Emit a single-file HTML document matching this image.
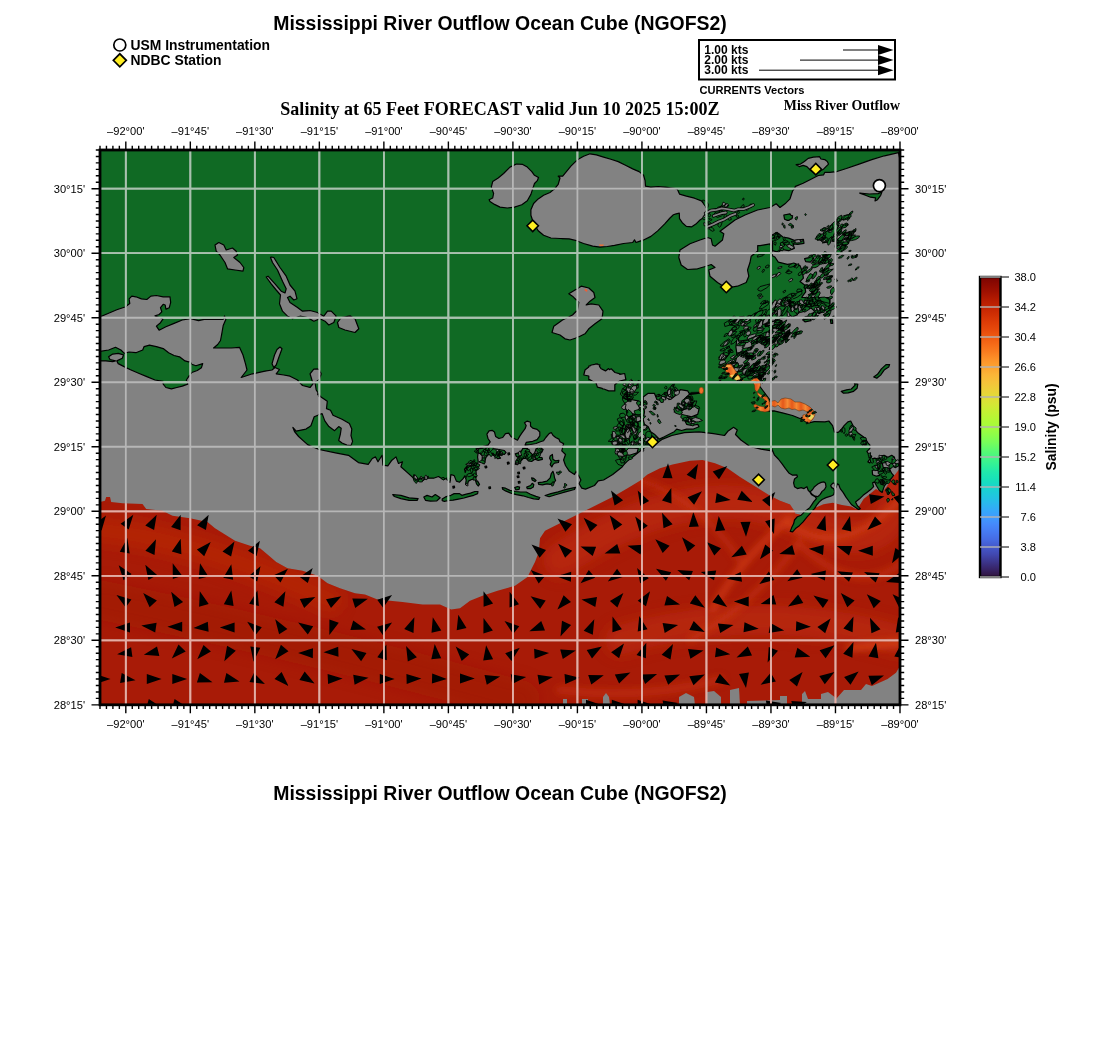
<!DOCTYPE html>
<html><head><meta charset="utf-8"><title>Mississippi River Outflow Ocean Cube (NGOFS2)</title>
<style>html,body{margin:0;padding:0;background:#fff}svg{display:block}text{font-family:"Liberation Sans",sans-serif;fill:#000}.b{font-weight:bold}.t{font-family:"Liberation Serif",serif;font-weight:bold}.ax{font-size:11.11px}</style></head><body>
<svg width="1100" height="1050" viewBox="0 0 1100 1050">
<rect width="1100" height="1050" fill="#fff"/>
<text class="b" x="500" y="29.7" font-size="19.44" text-anchor="middle">Mississippi River Outflow Ocean Cube (NGOFS2)</text>
<text class="b" x="500" y="799.7" font-size="19.44" text-anchor="middle">Mississippi River Outflow Ocean Cube (NGOFS2)</text>
<circle cx="119.8" cy="45" r="6" fill="#fff" stroke="#000" stroke-width="1.7"/>
<text class="b" x="130.5" y="50.1" font-size="13.89">USM Instrumentation</text>
<path d="M113.3 60.3L119.8 53.8L126.3 60.3L119.8 66.8Z" fill="#ffee22" stroke="#000" stroke-width="1.7"/>
<text class="b" x="130.5" y="65.2" font-size="13.89">NDBC Station</text>
<rect x="699" y="40" width="196" height="39.5" fill="#fff" stroke="#000" stroke-width="2"/>
<text class="b" x="704.3" y="54.4" font-size="12">1.00 kts</text>
<path d="M843 50.0H880" stroke="#000" stroke-width="1" fill="none"/>
<path d="M893.5 50.0L878 45.0L878 55.0Z" fill="#000"/>
<text class="b" x="704.3" y="64.4" font-size="12">2.00 kts</text>
<path d="M800 60.1H880" stroke="#000" stroke-width="1" fill="none"/>
<path d="M893.5 60.1L878 55.1L878 65.1Z" fill="#000"/>
<text class="b" x="704.3" y="74.4" font-size="12">3.00 kts</text>
<path d="M759 70.2H880" stroke="#000" stroke-width="1" fill="none"/>
<path d="M893.5 70.2L878 65.2L878 75.2Z" fill="#000"/>
<text class="b" x="699.5" y="93.7" font-size="11.11">CURRENTS Vectors</text>
<text class="t" x="500" y="114.6" font-size="18.06" text-anchor="middle">Salinity at 65 Feet FORECAST valid Jun 10 2025 15:00Z</text>
<text class="t" x="900" y="109.6" font-size="13.89" text-anchor="end">Miss River Outflow</text>
<defs><clipPath id="mc"><rect x="100.0" y="150.0" width="800.0" height="554.8"/></clipPath></defs>
<g clip-path="url(#mc)">
<rect x="99" y="149" width="802" height="557" fill="#828282"/><path d="M95.0 502.0L100.0 502.0L105.0 500.8L106.2 497.0L110.0 497.0L111.2 502.0L122.5 503.2L142.5 504.0L146.2 509.0L162.5 510.8L172.5 515.8L190.0 518.2L207.5 522.0L215.0 528.2L225.0 534.5L235.0 540.8L250.0 545.8L260.0 548.2L267.5 554.5L276.2 562.0L287.5 568.2L302.5 570.8L317.5 575.8L327.5 583.2L340.0 588.2L355.0 593.2L365.0 594.5L377.5 599.5L390.0 600.8L402.5 602.0L422.5 604.5L440.0 604.5L451.2 609.5L460.0 608.2L470.0 600.8L482.5 595.8L497.5 590.8L515.0 585.8L527.5 577.0L531.2 569.5L535.0 562.0L538.8 552.0L540.0 538.2L545.0 530.8L557.5 524.5L570.0 518.2L585.0 510.8L600.0 503.2L612.5 497.0L627.5 488.2L640.0 480.8L647.5 474.5L660.0 468.2L672.5 464.5L690.0 460.8L702.5 460.0L715.0 463.2L727.5 468.2L740.0 477.0L750.0 483.2L760.0 489.5L770.0 495.8L780.0 500.8L790.0 504.5L795.0 512.0L794.9 513.6L801.8 515.1L808.0 512.0L814.2 508.2L823.5 504.3L832.7 502.8L842.0 505.1L851.3 506.6L855.9 509.0L859.0 506.6L863.6 498.9L871.4 492.7L876.0 488.9L882.2 492.7L886.8 486.5L893.0 477.3L899.2 469.5L903.8 466.5L905.0 466.5L905.0 710.0L95.0 710.0Z" fill="#a81b07"/><defs><clipPath id="redc"><path d="M95.0 502.0L100.0 502.0L105.0 500.8L106.2 497.0L110.0 497.0L111.2 502.0L122.5 503.2L142.5 504.0L146.2 509.0L162.5 510.8L172.5 515.8L190.0 518.2L207.5 522.0L215.0 528.2L225.0 534.5L235.0 540.8L250.0 545.8L260.0 548.2L267.5 554.5L276.2 562.0L287.5 568.2L302.5 570.8L317.5 575.8L327.5 583.2L340.0 588.2L355.0 593.2L365.0 594.5L377.5 599.5L390.0 600.8L402.5 602.0L422.5 604.5L440.0 604.5L451.2 609.5L460.0 608.2L470.0 600.8L482.5 595.8L497.5 590.8L515.0 585.8L527.5 577.0L531.2 569.5L535.0 562.0L538.8 552.0L540.0 538.2L545.0 530.8L557.5 524.5L570.0 518.2L585.0 510.8L600.0 503.2L612.5 497.0L627.5 488.2L640.0 480.8L647.5 474.5L660.0 468.2L672.5 464.5L690.0 460.8L702.5 460.0L715.0 463.2L727.5 468.2L740.0 477.0L750.0 483.2L760.0 489.5L770.0 495.8L780.0 500.8L790.0 504.5L795.0 512.0L794.9 513.6L801.8 515.1L808.0 512.0L814.2 508.2L823.5 504.3L832.7 502.8L842.0 505.1L851.3 506.6L855.9 509.0L859.0 506.6L863.6 498.9L871.4 492.7L876.0 488.9L882.2 492.7L886.8 486.5L893.0 477.3L899.2 469.5L903.8 466.5L905.0 466.5L905.0 710.0L95.0 710.0Z"/></clipPath><filter id="bl" x="-20%" y="-20%" width="140%" height="140%"><feGaussianBlur stdDeviation="3.5"/></filter><filter id="bl2" x="-20%" y="-20%" width="140%" height="140%"><feGaussianBlur stdDeviation="7"/></filter></defs><g clip-path="url(#redc)"><g filter="url(#bl2)" fill="none" stroke-linecap="round"><path d="M560 560Q700 470 800 520T900 470" stroke="#c63010" stroke-width="34" opacity="0.5"/><path d="M620 640Q760 600 900 640" stroke="#c83010" stroke-width="30" opacity="0.45"/><path d="M100 600Q300 640 520 700" stroke="#9a1505" stroke-width="40" opacity="0.35"/><path d="M100 530Q200 540 330 600" stroke="#c02a0c" stroke-width="26" opacity="0.45"/></g><g filter="url(#bl)" fill="none" stroke-linecap="round"><path d="M712 610Q740 560 790 518" stroke="#e24a1a" stroke-width="5" opacity="0.7"/><path d="M690 640Q760 600 800 540" stroke="#d8401a" stroke-width="5" opacity="0.5"/><path d="M790 525Q840 560 900 500" stroke="#e04818" stroke-width="6" opacity="0.6"/><path d="M800 545Q860 600 905 560" stroke="#d43c14" stroke-width="6" opacity="0.5"/><path d="M850 648L905 642" stroke="#e65020" stroke-width="6" opacity="0.7"/><path d="M640 480Q700 500 740 560" stroke="#d03a12" stroke-width="6" opacity="0.45"/><path d="M560 690Q640 700 720 680" stroke="#d03a12" stroke-width="8" opacity="0.45"/></g></g><path d="M563.0 705.0L563.0 699.0L567.0 699.0L567.0 705.0Z" fill="#828282"/><path d="M582.0 705.0L582.0 699.0L588.0 699.0L588.0 705.0Z" fill="#828282"/><path d="M603.0 705.0L603.0 697.0L606.0 693.0L609.0 697.0L610.0 705.0Z" fill="#828282"/><path d="M679.0 705.0L679.0 697.0L686.0 693.0L694.0 697.0L695.0 705.0Z" fill="#828282"/><path d="M707.0 705.0L707.0 692.0L714.0 691.0L721.0 697.0L721.0 705.0Z" fill="#828282"/><path d="M730.0 705.0L730.0 690.0L739.0 688.0L740.0 705.0Z" fill="#828282"/><path d="M747.0 705.0L747.0 701.0L780.0 700.0L780.0 696.0L787.0 696.0L787.0 705.0Z" fill="#828282"/><path d="M802.0 705.0L802.0 694.0L805.0 691.0L808.0 699.0L821.0 699.0L821.0 694.0L828.0 692.0L836.0 698.0L836.0 705.0Z" fill="#828282"/><path d="M836.0 705.0L836.0 699.0L844.0 690.0L861.0 690.0L866.0 684.0L872.0 686.0L887.6 679.0L896.0 672.7L900.0 666.0L905.0 666.0L905.0 705.0Z" fill="#828282"/><path id="landp" d="M135.9 296.8L141.4 298.9L146.8 299.5L150.9 296.1L156.4 295.5L163.2 296.8L170.0 296.8L170.7 302.3L169.3 307.7L165.9 309.1L165.2 305.0L163.2 304.3L160.5 307.7L161.8 311.8L159.1 314.5L155.0 315.9L159.1 317.3L163.2 318.6L160.5 322.7L156.4 326.1L159.1 330.2L165.9 326.8L174.1 323.4L182.3 320.0L190.5 318.6L198.6 320.7L204.1 319.3L223.2 319.3L224.5 315.9L225.9 319.3L223.2 325.5L221.8 333.6L220.5 340.5L217.7 344.5L213.6 348.0L221.8 348.0L231.4 348.0L239.5 347.3L243.0 355.0L245.5 363.8L247.0 370.0L241.2 377.5L252.5 373.8L265.0 371.2L272.0 370.0L275.0 367.5L279.5 369.5L276.2 373.8L283.8 375.0L290.0 376.2L297.5 380.0L302.5 385.5L310.0 387.5L313.0 383.8L311.2 377.5L310.0 373.8L313.8 369.2L318.8 368.8L321.2 373.8L319.5 379.5L315.0 382.5L316.2 390.0L320.7 396.7L327.3 401.3L326.5 408.6L330.5 410.3L333.0 415.2L342.0 419.3L349.4 423.4L351.8 429.1L351.0 435.6L352.6 441.4L351.0 445.5L346.9 445.1L342.0 443.0L338.7 440.5L340.4 434.0L341.2 428.3L338.7 426.6L334.6 430.7L328.9 426.6L324.8 420.9L322.4 414.4L322.1 413.6L314.2 416.8L310.9 425.8L306.0 429.1L296.2 431.1L292.9 427.5L294.5 431.5L298.6 436.5L307.6 444.6L319.1 449.5L335.5 452.8L348.5 455.3L358.4 462.6L368.2 464.3L372.3 458.5L375.5 456.9L378.0 461.8L382.1 455.3L382.9 465.1L387.8 465.9L391.9 460.2L396.0 456.9L398.5 463.5L402.5 461.8L400.9 466.7L409.1 474.1L417.3 481.5L422.2 479.8L427.1 478.2L433.6 478.2L438.5 476.5L443.5 479.8L446.7 478.2L450.0 482.3L450.9 474.5L454.2 475.6L456.4 481.1L459.6 482.2L462.9 478.9L464.9 475.7L466.2 480.0L465.6 484.4L467.3 485.5L468.4 481.1L471.6 479.5L474.9 478.9L476.5 476.7L476.0 471.3L477.1 466.9L478.2 461.5L477.6 457.1L478.2 451.6L476.0 448.9L480.4 447.3L483.6 446.2L488.0 445.1L490.2 441.8L488.0 438.5L486.9 434.2L489.1 430.9L492.4 430.4L494.5 432.0L495.6 436.4L498.9 438.5L502.7 437.5L505.5 433.6L508.7 433.1L510.9 436.4L514.2 438.5L517.5 440.2L519.6 436.4L521.8 433.1L525.1 428.7L526.2 425.5L524.5 422.7L527.3 421.1L530.5 422.2L530.5 426.0L532.7 428.2L537.1 429.3L539.8 432.0L539.8 435.8L537.1 439.6L532.7 441.3L529.5 441.8L526.2 442.4L525.1 445.1L530.5 444.5L536.0 443.5L540.4 441.8L543.6 440.7L545.8 437.5L549.1 433.6L551.3 432.5L552.9 435.3L555.6 437.5L558.9 439.1L560.0 441.8L563.6 443.6L561.8 450.9L565.5 454.5L563.6 460.0L565.5 465.5L569.1 470.9L574.5 474.5L576.4 470.9L579.1 476.4L580.9 480.0L579.1 483.6L581.8 488.2L585.5 489.1L594.5 485.5L598.2 480.9L603.6 480.0L612.7 474.5L621.8 467.3L623.9 464.7L627.1 461.4L633.3 456.5L639.5 451.5L644.5 447.8L645.5 447.2L651.8 446.4L662.7 439.1L671.8 435.5L684.5 432.7L699.1 431.8L713.6 433.6L724.5 435.5L728.2 430.9L733.6 427.3L737.3 430.0L735.5 434.5L740.9 440.0L750.0 446.4L760.9 449.1L771.8 450.9L771.7 448.6L774.5 455.2L778.3 459.0L782.1 463.8L785.5 468.6L788.8 472.9L792.6 475.2L796.9 474.8L797.4 476.7L794.5 479.0L793.6 482.9L794.5 486.7L797.4 488.6L801.2 487.6L804.0 488.6L806.9 486.7L808.3 490.5L809.8 491.9L811.7 494.8L815.5 497.1L816.4 498.6L813.6 501.9L811.7 504.8L809.8 507.6L806.9 510.0L804.0 512.4L801.2 515.2L797.4 516.7L794.5 520.0L793.6 523.8L791.7 527.6L790.2 531.4L792.6 531.9L795.5 528.6L799.3 525.7L803.1 521.9L806.9 517.1L809.8 513.8L811.7 511.4L814.5 508.6L816.9 504.8L819.3 501.9L822.1 499.5L826.0 497.6L830.7 496.2L833.6 494.8L834.5 491.4L833.6 488.6L831.7 487.6L830.7 485.7L832.6 483.3L834.5 482.9L835.0 485.7L836.0 487.6L837.4 483.8L838.8 484.8L840.2 488.6L843.1 492.4L846.0 497.1L848.8 501.0L851.7 504.8L854.5 506.7L858.4 509.6L860.3 508.6L857.4 505.8L855.5 502.0L859.3 499.1L863.1 495.3L866.9 492.4L870.7 489.6L873.6 486.7L872.6 482.9L874.6 481.9L876.5 485.8L879.3 490.5L882.2 492.4L884.1 486.7L886.9 481.9L890.8 479.1L893.6 475.3L891.7 473.4L889.8 469.6L891.7 465.7L895.5 467.6L898.4 465.7L897.4 461.9L893.6 460.0L894.6 457.2L891.7 455.3L887.9 457.2L884.1 455.3L880.3 456.2L878.4 459.1L874.6 458.1L871.7 459.1L869.8 462.9L867.9 461.9L869.8 459.1L871.7 456.2L868.8 454.3L866.9 451.4L869.8 448.6L869.8 444.8L867.9 442.9L865.0 438.1L861.2 435.2L857.4 432.4L854.5 428.6L852.6 424.8L850.7 421.0L847.9 421.9L844.1 425.7L841.2 429.5L838.3 432.4L834.5 432.4L832.6 425.7L828.8 421.0L825.0 421.9L814.2 421.6L808.0 423.2L801.8 419.3L792.5 415.5L783.3 413.1L774.0 410.8L767.8 411.1L770.0 400.0L762.5 390.0L755.0 380.0L745.0 375.0L737.7 370.4L734.7 364.4L737.1 355.7L735.9 347.0L737.1 337.1L738.5 335.2L738.5 341.1L740.0 341.1L749.3 339.5L755.5 336.5L761.6 334.9L767.8 331.8L774.0 327.2L777.1 321.0L775.7 320.3L779.2 318.6L786.7 317.3L790.4 315.4L792.0 317.0L797.5 314.8L794.3 307.9L798.9 305.0L805.7 306.1L811.4 308.4L813.2 309.9L818.9 313.6L823.8 311.1L830.0 305.0L830.0 297.5L801.8 297.5L802.3 296.4L805.7 291.9L804.6 285.0L800.0 281.6L803.4 278.1L802.3 271.3L800.0 265.6L794.3 263.3L787.4 264.4L778.3 262.1L774.9 257.0L772.3 255.7L771.2 245.0L770.4 245.4L770.3 243.9L760.0 245.6L757.7 245.6L757.7 251.2L757.5 251.2L751.2 256.2L750.0 262.5L747.5 270.0L748.8 276.2L746.2 282.5L737.5 286.2L726.2 288.0L717.5 282.5L710.0 276.2L708.8 270.0L715.0 267.5L711.2 264.5L706.2 266.2L697.5 268.8L687.5 269.5L681.2 265.0L678.8 257.5L680.0 250.0L690.0 243.8L700.0 240.0L707.5 237.5L711.2 238.8L712.5 245.0L715.0 246.2L722.5 240.0L723.8 233.8L720.0 231.2L725.0 227.5L735.0 220.0L745.0 215.0L757.5 210.0L770.0 207.5L776.2 203.8L780.0 207.5L785.0 203.8L790.0 198.8L792.5 191.2L795.5 186.4L803.1 183.2L812.0 178.7L818.4 175.5L823.5 174.9L824.7 172.4L829.8 172.4L836.2 171.7L846.4 168.5L859.1 164.1L871.8 159.6L884.5 155.8L898.5 152.6L900.0 160.0L905.0 160.0L905.0 140.0L95.0 140.0L95.0 317.3L99.1 317.3L108.6 313.2L116.8 309.8L125.0 307.0L129.8 303.6L129.1 298.9L131.8 296.1ZM751.5 315.6L749.5 316.1L748.0 316.0ZM464.5 469.1L467.3 465.8L465.6 471.3L465.2 472.5ZM778.9 308.3L776.8 313.6L771.8 316.1L770.8 314.1L774.9 312.4L778.3 307.9ZM494.5 204.4L490.0 201.6L489.1 199.8L492.7 198.0L493.6 193.5L491.3 187.1L492.7 181.6L498.2 178.0L503.6 173.5L510.0 167.1L516.4 164.0L522.7 164.4L527.3 167.1L531.8 171.6L534.5 175.3L538.5 177.5L537.3 180.7L534.5 183.5L532.7 188.9L530.9 194.4L527.3 200.7L521.8 204.7L514.5 207.1L507.3 208.0L500.0 207.1ZM220.0 255.0L216.2 251.2L215.0 245.0L218.8 242.5L223.8 245.0L226.2 250.0L232.5 248.0L236.2 251.2L237.5 255.0L233.8 257.5L240.0 262.5L243.8 267.5L243.0 271.2L235.0 270.0L227.5 268.8L225.0 262.5ZM272.5 262.5L270.5 257.5L271.2 257.0L273.8 257.5L280.0 267.5L286.2 276.2L290.0 285.0L295.0 291.2L297.0 298.8L293.8 300.0L290.0 296.2L287.5 297.5L290.0 302.5L297.5 307.5L302.5 311.2L310.0 310.5L317.5 312.5L323.8 316.2L327.5 311.2L331.2 311.2L336.2 316.2L333.8 322.5L328.8 325.0L325.0 321.2L320.0 318.8L313.8 321.2L307.5 317.5L300.0 316.2L292.5 318.8L287.5 316.2L282.5 311.2L279.5 303.8L280.5 295.0L276.2 290.0L271.2 283.8L266.2 277.0L268.0 276.2L275.0 283.8L281.2 291.2L285.0 293.0L286.2 288.8L282.5 281.2L277.5 270.0ZM565.0 338.8L560.0 335.0L552.0 332.5L553.8 326.2L562.5 320.0L572.5 315.0L577.5 310.0L578.8 302.5L572.5 296.2L568.8 293.8L575.0 290.0L581.2 286.2L588.8 288.0L593.8 292.5L595.0 297.5L590.0 301.2L586.2 305.0L591.2 303.8L598.8 305.0L603.0 311.2L602.0 318.8L595.0 323.8L588.8 328.8L585.0 333.8L577.5 337.5L570.0 340.0ZM345.0 330.0L338.8 327.5L337.5 322.5L341.2 317.5L350.0 315.8L355.0 318.8L358.8 328.8L355.0 332.5ZM274.5 355.0L277.0 349.5L280.0 347.0L282.0 348.8L278.8 357.5L276.2 365.0L273.8 367.5L272.0 363.8ZM588.8 376.0L583.8 375.0L585.0 370.0L588.8 367.0L588.8 366.1L590.6 365.6L591.2 365.0L594.7 364.3L595.0 364.2L595.0 364.2L597.5 363.8L598.2 364.6L599.9 364.9L599.5 366.4L601.2 368.8L605.5 370.9L608.6 368.6L609.4 369.7L611.2 368.8L615.0 372.5L620.0 373.8L619.7 374.4L624.7 373.5L625.9 379.7L619.7 381.0L614.8 384.7L614.8 385.7L615.0 386.2L614.8 386.4L614.8 390.9L608.6 390.9L603.9 389.0L602.5 388.8L602.2 388.3L597.4 387.1L596.2 383.4L590.0 379.7L588.8 379.7ZM803.1 165.4L799.3 166.6L796.1 164.7L800.5 164.1L804.4 161.5L808.2 158.4L813.3 157.1L819.6 156.7L820.9 159.0L824.7 159.6L827.3 161.5L828.5 164.1L826.0 166.6L823.5 169.2L820.9 170.5L818.4 172.4L814.5 173.6L810.7 170.5L806.9 166.6ZM535.5 226.2L532.7 220.7L530.9 215.3L530.9 209.8L533.6 203.5L538.2 198.9L543.6 195.3L550.0 192.5L554.5 188.9L558.2 184.4L560.0 178.0L558.2 176.2L562.7 176.2L566.4 171.6L570.9 166.2L577.3 159.8L583.6 156.2L590.0 153.8L596.4 154.9L603.6 157.1L610.9 159.3L618.2 161.6L625.5 165.3L632.7 168.9L639.1 171.6L643.6 175.3L645.1 180.7L645.5 186.2L650.9 187.1L658.2 186.5L665.5 187.1L672.7 188.0L677.3 188.9L679.5 194.1L686.4 196.1L694.5 198.2L701.4 200.9L704.8 205.0L706.8 209.1L704.1 217.3L700.0 220.0L695.9 224.1L691.8 226.8L686.4 226.4L682.3 222.7L679.5 218.6L679.3 213.2L676.1 213.9L673.4 214.8L670.0 218.0L664.5 224.1L657.7 230.9L650.9 236.4L644.1 239.8L640.0 241.1L636.0 242.5L634.5 239.8L632.7 242.5L623.6 243.5L614.5 245.3L607.3 246.5L600.0 247.1L592.7 246.2L583.6 243.5L576.4 240.7L569.1 238.9L560.0 238.5L550.9 238.0L543.6 235.3L538.2 230.7ZM628.4 413.1L625.3 408.2L624.7 402.0L630.9 399.5L638.3 400.8L639.5 408.2L635.8 414.4ZM644.5 411.9L643.2 404.5L643.2 397.0L648.2 393.3L654.4 393.3L656.9 399.5L661.8 400.8L664.3 397.0L670.5 399.5L676.7 394.6L680.4 389.6L687.8 390.9L689.0 393.3L699.6 392.5L699.6 393.2L689.0 394.6L684.1 399.5L681.6 404.5L676.7 407.0L674.2 411.9L679.1 411.9L684.1 409.4L689.0 408.2L695.2 405.7L699.0 409.4L697.7 414.4L691.5 416.9L686.6 415.6L684.1 419.3L686.6 424.3L691.5 425.5L697.7 424.3L699.0 426.8L692.8 429.2L686.6 429.2L681.6 430.5L676.7 429.2L674.2 431.7L669.2 434.2L664.3 436.7L659.3 439.1L656.9 436.7L654.4 434.2L650.7 431.7L648.2 426.8L644.5 424.3L643.2 419.3ZM629.6 455.2L623.4 454.6L621.0 449.0L629.6 447.8L638.3 448.4L637.0 452.8ZM885.0 470.0L883.1 466.7L882.2 462.9L886.0 461.9L889.8 464.8L888.8 469.6ZM879.8 475.3L876.5 476.2L872.6 474.8L872.2 470.5L875.5 469.6L879.3 471.5ZM817.9 496.7L815.0 496.2L812.1 494.3L810.2 491.9L812.6 489.5L814.5 486.7L818.3 483.8L821.2 482.4L824.0 481.9L825.5 483.3L826.0 486.7L824.5 489.5L822.1 491.4L820.2 494.3ZM319.1 396.4L319.2 396.6L319.1 395.5L319.7 396.0L317.5 393.9ZM112.7 354.1L118.2 353.4L123.6 354.8L122.3 358.2L116.8 360.9L118.2 363.6L123.6 366.4L130.5 369.8L138.6 373.2L146.8 376.6L155.0 380.0L163.2 381.4L163.2 384.1L165.9 387.5L171.4 388.9L176.8 387.5L182.3 386.1L187.7 384.1L186.4 380.0L189.1 375.9L191.8 372.5L197.3 370.5L201.4 367.7L202.7 363.6L195.9 365.7L191.8 364.3L190.5 362.3L185.0 360.9L179.5 356.8L174.1 355.5L168.6 352.7L163.2 348.6L156.4 346.6L149.5 345.2L144.1 346.6L142.7 350.0L135.9 352.7L129.1 352.0L124.3 353.4L120.9 350.0L115.5 347.3L108.6 350.0L99.1 351.6L99.1 360.9L105.9 360.9L112.7 361.6L115.5 360.9L110.0 359.5L108.6 356.8ZM509.5 452.9L507.9 453.2L508.2 454.8L509.7 454.5ZM488.0 454.9L491.3 453.8L494.5 456.0L497.8 458.7L500.5 458.2L498.9 456.0L501.1 453.8L504.4 454.4L506.0 452.7L504.4 450.5L498.9 449.5L494.5 448.9L489.1 448.4L483.6 447.8L478.2 448.9L478.2 451.6L478.2 452.7L480.4 453.8L482.5 456.0L482.0 460.4L483.1 463.6L484.7 462.5L485.8 457.6ZM507.3 462.4L507.6 464.1L509.2 463.7L508.9 462.2ZM486.6 466.0L484.9 466.3L485.3 467.9L486.8 467.6ZM517.1 476.1L517.5 477.7L519.0 477.4L518.8 475.9ZM478.2 486.0L479.5 484.4L477.6 481.1L475.5 480.5L476.5 483.8ZM452.8 486.4L453.1 488.1L454.6 487.7L454.4 486.2ZM488.8 487.0L489.1 488.6L490.6 488.3L490.4 486.8ZM519.1 489.3L519.6 487.1L517.5 486.5L514.7 487.6L515.8 489.8ZM469.5 496.4L473.8 495.3L477.6 493.6L478.0 491.5L474.9 491.5L470.5 493.1L466.2 494.2L461.8 495.3L459.6 493.6L454.2 493.6L450.9 495.3L445.5 496.9L442.2 499.1L442.2 500.7L444.4 501.3L448.7 500.5L453.1 500.2L458.5 499.1L464.0 498.0ZM400.9 495.4L392.7 494.5L394.4 496.5L400.9 498.6L409.1 500.3L417.3 500.3L418.1 498.6L409.1 497.8ZM423.8 497.0L425.5 500.3L430.4 501.1L436.9 500.8L440.2 497.8L435.3 494.5L432.0 497.0L427.1 495.4ZM522.9 458.7L526.2 458.2L528.4 460.9L531.6 461.5L534.9 459.3L538.2 460.4L542.5 459.3L542.0 457.6L537.6 457.1L538.7 453.8L541.5 452.7L543.1 449.5L540.4 447.8L536.0 448.9L534.9 452.7L532.7 454.9L529.5 451.6L527.3 448.4L522.9 448.4L520.7 452.2L515.3 453.8L516.4 456.5L519.1 457.6L516.4 460.4L515.3 464.2L517.5 464.7L520.7 461.5ZM558.9 460.4L555.6 460.9L552.9 459.3L552.4 454.4L550.2 456.0L549.6 458.2L551.3 461.5L550.2 464.7L551.8 466.9L552.9 464.7L554.5 463.1L558.4 462.5ZM524.8 467.1L523.1 467.3L523.5 469.0L525.0 468.7ZM519.3 472.0L517.7 472.3L518.0 473.9L519.5 473.6ZM554.5 477.8L554.0 474.5L552.9 471.3L551.3 473.5L550.2 477.8L546.9 481.1L542.5 482.2L538.2 482.7L538.7 484.4L542.5 484.9L546.9 483.8L550.2 484.4L553.5 483.3L555.6 480.5ZM536.0 480.5L533.8 478.4L531.6 477.8L532.2 480.0L534.9 481.6ZM518.2 481.5L518.5 483.2L520.1 482.8L519.9 481.3ZM526.7 487.1L527.3 488.7L530.5 488.7L533.3 487.1L533.8 484.4L532.2 483.3L530.5 485.5ZM550.9 493.6L545.1 495.5L549.1 496.7L556.4 494.5L565.5 491.8L574.5 489.5L575.5 487.3L567.3 489.1L558.2 491.8ZM538.7 499.4L539.8 497.5L536.0 496.4L530.5 494.2L526.2 492.0L520.7 492.0L515.3 491.5L509.8 490.4L505.5 488.2L502.2 487.6L502.7 489.3L505.5 490.9L510.9 493.1L516.4 494.7L522.9 495.8L528.4 497.5L533.8 498.8ZM882.0 191.8L878.2 193.6L869.3 194.0L859.7 193.1L865.5 195.3L870.5 197.2L875.6 197.8L875.0 201.0L877.5 199.7L880.7 195.3ZM792.0 218.7L792.2 217.7L792.5 217.5L792.3 217.2L792.6 215.9L790.9 215.2L790.0 213.8L783.8 215.0L784.5 218.8L784.6 218.8L784.6 219.3L787.4 220.4L788.0 220.2L788.8 220.5L790.1 219.4ZM830.9 227.9L824.0 233.6L819.4 239.3L824.0 242.7L828.6 241.6L833.1 237.0L835.4 231.3L838.9 225.6L835.4 224.4ZM797.7 244.4L804.0 243.3L803.4 239.3L794.3 240.4L788.6 238.1L782.9 237.0L777.1 232.4L772.6 234.7L772.6 250.7L777.1 251.9L782.9 249.6L788.6 250.7L794.3 248.4L793.1 243.9ZM805.7 261.6L810.3 262.1L813.7 258.7L812.6 255.3L809.1 257.6L804.6 258.7ZM802.6 319.8L804.9 321.8L811.1 320.7L810.3 318.7ZM830.4 319.5L830.9 323.3L832.7 323.3L832.4 319.8ZM877.5 374.3L873.7 376.9L876.8 378.2L880.6 375.1L884.5 369.7L888.7 367.1L889.6 364.6L886.0 364.6L881.4 368.9ZM851.3 389.0L846.6 389.8L841.2 391.3L843.5 393.2L848.2 392.9L853.6 391.3L857.1 388.2L857.8 384.1L854.4 383.6L855.1 385.1Z" clip-rule="evenodd" fill="#106a24" fill-rule="evenodd" stroke="#000" stroke-width="1.2" stroke-linejoin="round"/><path d="M627.5 396.0L626.0 395.1L625.8 393.4L626.3 391.8L628.9 392.4L630.2 393.3L629.0 396.5ZM624.7 394.6L624.8 393.2L625.9 392.6L626.6 392.3L627.6 393.2L627.2 394.2L625.8 394.7ZM647.4 444.4L646.3 443.8L646.5 441.3L647.7 439.6L648.6 439.9L649.8 441.2L649.2 443.8ZM627.3 446.4L625.5 444.3L624.4 441.6L625.3 436.4L627.9 438.2L629.5 439.6L629.5 442.6ZM616.3 448.7L615.5 448.9L614.5 447.2L615.3 446.3L616.0 446.1L617.6 446.9L617.1 447.8ZM635.1 433.6L633.2 433.2L632.8 432.0L633.9 431.1L635.3 430.3L636.4 431.5L635.9 432.5ZM618.9 436.4L618.2 436.7L617.5 436.6L617.2 435.8L617.6 434.7L618.2 435.0L619.0 435.6ZM635.3 389.5L635.0 390.3L633.6 388.8L633.5 387.8L633.7 386.5L635.4 387.4L635.7 388.4ZM623.7 452.1L619.7 451.1L617.6 447.5L618.5 445.2L619.7 444.3L621.3 446.0L623.2 448.7ZM631.1 401.6L629.3 401.6L627.8 401.0L627.4 399.9L628.6 398.1L630.1 398.8L631.1 399.5ZM621.9 456.7L620.3 459.3L616.1 452.5L616.6 447.9L619.4 446.3L621.4 449.7L623.2 453.9ZM636.8 404.2L636.7 402.0L638.8 400.9L640.7 402.0L640.5 403.6L639.8 404.8L638.5 405.8ZM623.4 426.0L620.4 424.4L618.6 422.3L617.2 419.0L619.8 417.7L623.6 419.7L624.5 423.3ZM634.9 430.6L632.4 427.8L633.6 423.6L634.6 420.4L636.9 422.9L637.9 424.0L637.3 427.1ZM622.3 442.3L620.5 443.7L613.8 439.8L611.6 436.9L611.2 434.2L617.5 436.8L621.0 438.6ZM631.3 398.2L630.5 399.0L627.2 399.5L624.8 399.1L624.8 396.4L627.2 396.5L630.0 396.2ZM622.6 394.1L622.6 391.7L625.3 390.5L627.6 389.0L627.9 391.2L626.4 394.0L623.9 394.2ZM631.5 430.3L629.9 431.4L627.2 431.3L624.7 429.0L626.0 426.2L628.5 426.3L630.5 427.8ZM642.8 429.6L643.7 428.0L645.8 427.4L647.4 427.6L647.0 429.2L645.8 430.2L644.1 430.0ZM627.9 386.5L627.0 385.9L628.1 384.3L628.8 384.6L629.8 385.0L629.8 386.1L629.0 387.3ZM627.0 413.0L626.5 412.5L626.2 411.8L626.5 411.0L627.0 410.7L627.8 411.3L627.9 412.8ZM643.3 446.3L640.9 446.8L638.8 445.0L638.8 439.3L641.3 438.0L643.6 439.9L646.3 444.4ZM644.2 441.4L643.3 442.6L642.0 442.3L641.6 440.9L641.6 440.0L643.6 439.6L644.6 440.3ZM617.2 445.9L615.9 446.8L615.1 445.5L614.7 444.1L616.0 443.0L617.1 443.9L617.7 444.5ZM637.2 383.4L636.9 382.5L637.4 381.2L638.2 380.4L639.4 380.7L638.8 382.4L638.5 383.5ZM624.7 403.3L622.6 399.9L622.6 396.9L625.4 394.6L627.6 394.7L627.5 399.1L627.6 401.5ZM631.9 419.5L629.7 418.8L626.4 414.4L627.0 411.0L628.3 409.5L631.5 412.0L634.4 419.0ZM647.7 440.4L645.6 438.7L645.9 432.6L648.2 431.3L650.8 431.8L651.7 434.6L651.1 440.3ZM644.5 408.1L642.3 409.6L640.2 409.4L638.9 405.8L639.9 405.3L641.8 404.7L643.9 406.2ZM626.5 436.1L623.7 434.3L622.1 431.0L623.0 426.2L624.6 424.3L627.1 429.4L627.6 432.3ZM626.9 421.9L625.4 418.1L630.9 415.9L634.5 415.9L637.6 419.4L632.9 423.4L629.3 422.6ZM615.8 431.1L616.2 427.7L617.8 424.3L622.6 420.5L623.8 423.7L623.0 426.1L619.2 430.9ZM636.0 433.5L633.8 432.8L634.4 429.9L636.1 429.5L637.9 428.9L637.9 431.7L637.6 433.0ZM640.8 418.0L640.7 416.7L643.2 416.0L645.7 416.1L644.9 417.4L643.1 418.7L641.3 418.6ZM623.4 449.8L621.8 449.5L621.9 445.7L622.4 444.3L623.9 444.7L624.2 445.7L624.9 449.5ZM633.4 397.8L631.3 399.6L627.3 399.2L622.9 398.1L624.3 395.1L628.1 394.4L632.3 394.2ZM627.8 443.4L626.5 444.9L624.9 444.5L622.2 444.0L623.2 442.0L624.2 441.5L626.7 441.4ZM617.7 453.6L617.6 451.4L621.3 448.1L624.3 445.7L624.7 448.5L625.0 450.8L620.4 455.4ZM624.1 389.5L623.4 388.7L624.4 386.9L626.0 386.4L626.7 386.7L626.3 388.5L625.1 389.9ZM627.9 400.1L623.8 397.6L620.3 394.1L621.7 391.2L622.5 388.5L627.3 391.9L627.3 394.7ZM623.7 451.2L622.4 449.6L622.2 447.3L624.6 444.4L626.2 446.2L628.5 448.2L626.7 450.6ZM637.0 387.7L636.2 387.8L636.3 386.0L636.8 384.4L638.0 384.8L638.4 386.1L638.0 388.3ZM632.5 398.6L630.8 400.3L627.9 400.5L627.3 399.1L626.0 396.6L629.3 396.0L631.4 396.2ZM632.9 394.5L633.3 392.2L635.2 392.3L638.6 392.3L637.2 393.7L635.8 395.1L633.5 395.2ZM626.5 416.7L623.4 417.3L621.1 417.6L619.5 416.0L620.1 413.8L623.2 413.1L625.2 414.6ZM640.2 421.8L637.5 420.2L635.7 416.8L637.3 415.3L639.1 415.0L640.7 415.9L641.3 419.1ZM633.5 386.3L633.0 385.0L633.6 381.9L636.1 381.2L638.6 383.9L637.2 385.7L635.3 387.1ZM621.6 451.9L619.1 451.6L618.1 449.4L617.3 446.5L620.1 446.4L622.9 447.4L623.3 449.3ZM623.9 464.4L622.5 465.9L618.0 464.4L615.4 460.4L618.3 459.4L622.1 459.7L625.0 461.8ZM641.0 414.0L639.0 414.9L635.3 414.3L634.1 410.9L636.5 410.1L638.3 409.7L642.0 411.9ZM622.4 433.7L621.1 431.9L621.6 430.8L623.5 427.9L625.3 429.8L625.0 431.5L624.1 434.2ZM625.3 441.1L625.4 438.6L627.9 435.3L630.3 432.9L632.0 433.9L629.9 438.0L628.6 439.9ZM637.1 438.5L634.0 439.9L633.4 437.0L632.5 433.8L634.6 432.7L637.0 434.6L638.1 436.4ZM649.6 445.3L646.0 445.1L643.1 442.9L642.6 438.2L644.8 438.0L646.7 438.4L651.5 443.2ZM621.2 463.1L620.5 460.5L622.8 457.0L625.4 455.2L626.3 456.9L625.7 460.0L623.6 462.6ZM612.5 444.9L611.2 442.2L614.7 437.4L617.0 436.4L619.9 438.9L617.7 441.1L615.5 443.2ZM640.2 406.8L640.0 405.8L640.3 405.0L641.5 404.8L642.4 405.1L642.1 406.6L640.9 406.7ZM629.4 421.4L629.1 418.8L630.5 416.6L631.7 415.9L635.7 416.5L634.5 418.8L631.8 422.8ZM623.3 426.3L622.5 426.9L620.1 424.3L619.5 422.4L620.0 420.6L622.7 422.3L623.8 424.3ZM632.6 458.1L631.6 459.2L630.0 459.5L628.6 458.6L628.2 457.3L630.5 456.8L631.9 457.4ZM676.1 389.5L675.3 389.2L674.3 388.3L674.3 387.6L675.1 387.1L676.0 387.4L677.2 389.4ZM660.6 396.0L659.5 396.3L657.0 396.8L655.9 396.3L656.4 395.0L657.8 394.7L659.8 394.5ZM672.4 386.6L671.8 386.4L671.9 385.1L672.7 385.0L673.3 384.9L673.7 385.9L673.5 386.7ZM676.1 392.7L675.6 392.9L675.5 391.2L675.6 389.9L676.2 389.7L676.9 390.9L677.0 392.2ZM667.3 396.4L665.5 396.8L663.1 396.7L661.1 396.0L662.1 394.7L663.3 394.1L665.5 395.0ZM658.6 396.2L658.2 395.4L658.1 394.3L658.7 394.4L659.8 394.4L659.8 395.1L659.5 395.9ZM668.8 399.8L668.9 398.1L669.4 397.1L670.8 396.9L671.7 397.6L670.9 398.4L670.0 399.4ZM668.5 394.4L667.5 394.9L664.8 395.1L663.8 393.8L664.2 392.5L666.4 393.0L667.7 393.4ZM670.8 390.7L669.3 389.4L670.7 386.4L672.5 384.7L674.5 383.9L673.5 387.2L672.4 389.9ZM665.5 388.9L664.8 388.2L664.6 387.2L665.5 386.3L666.6 386.5L666.9 387.3L666.8 388.4ZM664.4 393.6L664.6 392.8L665.5 392.3L666.1 392.5L666.7 392.7L665.8 393.5L665.1 393.9ZM663.3 402.3L660.9 402.5L659.7 400.1L659.9 398.1L661.9 397.7L663.8 398.7L663.4 400.8ZM673.1 397.1L672.0 394.4L672.5 392.2L673.9 389.4L675.1 390.2L675.5 392.8L675.0 395.7ZM677.1 392.9L675.5 392.7L674.4 391.6L674.1 390.0L675.7 390.0L677.0 389.9L676.9 391.3ZM691.9 404.9L691.2 404.5L690.2 402.4L691.1 400.0L692.2 399.7L693.2 401.7L693.0 403.4ZM682.4 413.0L679.9 414.6L675.4 413.1L673.7 409.5L674.7 408.1L677.9 408.4L681.7 410.9ZM681.1 404.8L681.5 402.7L683.4 401.5L685.3 401.7L685.6 403.1L684.7 404.4L682.2 405.2ZM690.7 400.5L689.4 400.1L688.4 398.4L689.6 396.3L692.0 395.9L693.0 398.4L692.1 399.6ZM688.8 410.2L688.3 408.2L689.7 406.4L692.2 404.3L692.1 406.1L692.1 407.0L690.9 408.9ZM687.6 421.5L686.6 420.5L687.6 419.7L689.1 418.4L689.4 419.1L690.0 420.3L688.8 422.1ZM690.8 424.7L691.6 423.2L693.1 422.9L693.6 423.7L694.0 424.8L693.4 425.9L692.1 425.8ZM692.7 407.1L691.9 406.1L693.0 402.8L694.6 401.2L696.8 400.9L696.0 403.5L694.4 406.8ZM699.7 408.3L698.1 408.9L696.2 407.8L694.6 406.4L694.9 405.3L697.7 406.2L699.1 406.8ZM687.1 408.0L686.8 408.4L685.2 408.6L684.8 408.2L684.9 407.2L685.7 406.8L686.8 406.9ZM692.1 404.0L691.1 404.4L689.7 405.0L689.2 403.7L688.9 402.6L690.3 402.5L691.3 402.3ZM680.5 408.9L679.7 407.3L682.1 405.5L684.8 405.6L684.7 407.3L683.7 408.7L681.5 409.4ZM694.6 401.0L693.8 402.5L690.8 402.4L687.1 399.8L688.6 399.1L691.2 398.7L693.4 399.8ZM689.5 420.7L686.6 421.4L683.9 419.9L680.7 417.4L681.6 414.3L686.4 415.5L689.7 419.2ZM693.6 405.4L691.6 406.3L689.3 406.5L687.5 405.6L687.5 404.4L689.7 404.2L692.2 403.9ZM690.4 399.5L689.2 401.2L686.7 401.1L684.7 399.3L686.0 397.1L687.7 396.7L690.9 396.9ZM685.8 420.1L686.6 418.4L687.9 417.2L690.6 419.0L690.9 420.9L688.8 422.0L686.8 421.6ZM689.3 404.9L688.0 403.7L687.1 401.3L687.5 400.1L688.8 399.4L690.4 401.4L690.3 403.0ZM692.8 400.0L690.8 399.9L687.5 400.0L686.5 397.8L686.7 396.9L689.5 396.6L691.5 397.7ZM691.6 419.4L691.4 421.9L686.1 420.9L682.3 420.8L683.4 418.0L686.6 417.4L691.2 418.0ZM696.7 417.5L696.1 417.4L695.1 417.1L694.7 416.1L695.3 415.8L696.2 415.7L696.7 416.2ZM684.4 403.9L684.1 402.5L687.8 401.7L689.6 402.8L689.2 404.3L687.2 406.3L684.0 405.7ZM692.4 407.5L690.7 409.1L689.3 408.6L687.6 407.7L688.1 406.5L690.2 405.3L692.0 405.9ZM686.4 397.6L687.1 396.4L688.6 396.3L690.2 397.1L689.9 397.6L689.3 398.3L687.6 398.2ZM682.3 406.1L681.5 402.6L682.0 400.6L685.3 398.4L685.9 399.1L686.7 401.9L684.2 405.8ZM680.4 409.9L679.0 409.6L677.0 407.1L677.3 403.2L679.4 403.1L680.7 405.2L681.9 409.0ZM737.9 318.1L734.9 321.3L729.9 325.1L724.9 326.5L724.2 323.3L727.5 321.3L735.1 317.2ZM735.6 317.6L736.9 318.6L732.0 321.2L728.6 322.3L729.6 320.1L731.4 318.3L734.3 317.2ZM731.3 349.9L731.5 350.8L730.0 351.5L728.4 351.2L727.7 350.7L729.2 349.8L730.2 349.5ZM740.2 335.4L737.7 339.4L733.8 343.3L730.9 344.3L731.3 341.9L733.4 338.5L737.2 335.9ZM724.1 366.7L724.2 367.7L722.8 367.8L721.4 367.8L720.6 367.0L722.4 365.8L723.4 366.0ZM736.7 331.5L736.1 332.7L732.1 335.5L730.3 335.1L730.5 334.4L731.9 332.6L735.0 331.2ZM737.6 364.8L735.8 366.4L732.9 366.8L730.2 367.2L729.0 366.3L731.7 364.7L735.9 363.5ZM732.1 366.4L732.9 367.6L730.7 369.8L728.2 371.8L728.3 369.9L728.3 368.9L730.8 366.2ZM739.4 325.2L738.9 327.9L735.7 330.1L731.6 330.0L731.3 329.3L733.7 326.8L736.2 326.0ZM728.5 367.9L727.2 368.4L723.8 368.8L722.4 368.1L721.0 367.4L724.3 366.7L726.1 367.0ZM738.7 370.9L735.8 373.9L731.6 374.8L730.4 373.8L729.8 371.7L733.1 370.2L736.6 370.3ZM725.0 349.2L724.7 349.9L722.6 350.9L720.4 350.9L720.1 350.0L722.0 349.1L723.8 348.2ZM769.8 317.4L770.4 318.9L768.3 321.6L766.0 323.2L764.9 322.9L766.0 319.2L768.4 317.8ZM761.9 321.5L761.5 322.9L760.6 323.8L758.8 324.6L758.9 323.0L758.9 322.0L761.0 321.4ZM744.4 316.9L743.7 318.1L741.4 319.5L736.7 320.3L738.1 318.7L739.8 317.2L744.1 316.2ZM766.3 314.9L764.8 318.0L762.8 322.1L759.2 323.1L758.1 321.2L760.3 317.8L763.9 314.2ZM776.3 315.8L776.7 317.4L772.6 322.6L765.5 326.7L765.8 323.6L768.5 318.4L774.7 313.4ZM729.3 353.8L727.9 355.6L724.3 357.6L719.3 358.6L718.8 356.9L721.4 354.8L725.8 352.2ZM727.7 355.2L726.8 357.2L725.1 359.6L723.7 360.1L722.7 360.2L723.9 357.8L725.7 356.1ZM729.6 347.4L728.7 348.1L727.6 348.5L726.0 348.0L725.7 347.4L727.5 346.7L728.3 346.7ZM747.3 374.7L746.7 376.8L743.0 378.0L740.6 377.8L739.3 377.0L742.0 375.4L746.3 373.7ZM771.5 317.1L770.8 320.8L768.7 324.2L766.3 326.2L764.6 324.9L766.2 321.1L768.7 317.7ZM738.5 322.0L738.9 324.0L734.2 325.5L730.1 325.2L729.0 324.0L731.4 321.4L737.5 321.4ZM737.6 374.1L737.7 375.3L735.5 376.8L734.0 377.7L733.0 376.6L734.6 374.6L736.3 374.2ZM742.9 371.7L742.7 373.6L738.6 375.6L735.9 375.3L736.1 374.4L737.1 372.1L740.7 371.6ZM768.0 319.6L765.5 320.8L761.7 321.4L760.4 320.7L760.6 319.3L761.7 318.3L766.0 318.5ZM728.3 333.9L727.5 335.0L726.0 336.0L723.9 336.6L724.5 335.4L725.1 334.2L727.1 333.3ZM771.6 319.2L772.4 321.4L767.7 323.0L764.3 323.5L760.6 322.6L766.3 319.5L770.0 318.8ZM733.4 364.8L732.2 365.9L730.2 366.7L727.7 367.0L727.2 365.5L729.4 364.5L732.6 364.2ZM730.1 340.0L729.7 342.0L726.9 345.1L722.0 346.3L720.0 345.7L723.5 342.3L728.8 338.8ZM735.5 336.0L735.4 336.8L731.8 337.5L731.2 336.6L730.9 336.0L733.0 335.0L736.4 335.1ZM766.3 319.7L767.2 320.3L764.0 322.6L762.2 322.4L762.2 321.6L763.5 320.0L764.8 320.0ZM732.9 351.2L733.2 352.2L730.3 352.7L728.4 352.8L728.3 351.0L729.9 350.3L731.8 349.5ZM742.4 316.5L742.8 318.9L740.6 320.7L738.6 321.4L737.2 321.0L737.9 318.2L739.9 316.6ZM755.6 312.8L754.5 315.8L751.8 317.9L749.5 320.5L749.8 318.0L750.1 317.0L753.4 314.1ZM735.2 320.5L735.2 321.2L733.8 323.3L732.2 325.0L731.1 324.3L731.6 323.2L733.8 320.5ZM766.5 309.3L765.3 312.6L761.5 316.8L755.4 318.0L752.8 317.8L758.1 311.7L761.6 310.7ZM729.6 347.7L731.3 350.3L728.0 355.8L723.9 360.1L720.7 359.4L723.6 352.1L729.1 345.5ZM763.0 311.8L761.9 314.4L757.9 316.9L754.8 318.1L754.3 316.6L755.2 313.4L762.2 309.5ZM736.5 327.0L736.3 328.5L734.4 331.3L732.4 331.3L731.3 330.9L732.0 328.5L734.0 327.0ZM814.7 305.7L813.9 303.0L816.8 300.4L821.2 300.6L822.2 302.0L819.5 305.8L816.8 305.5ZM818.5 312.4L819.2 310.6L820.7 309.1L822.4 308.7L823.6 309.9L823.0 310.9L820.9 312.4ZM798.9 313.6L795.2 312.7L791.6 306.8L790.5 302.2L791.7 301.2L796.9 305.0L798.6 308.8ZM809.1 304.1L807.9 301.5L806.7 298.5L810.0 297.4L812.2 297.3L812.6 301.0L811.7 304.4ZM797.1 309.3L793.7 309.4L790.1 307.8L789.0 304.6L789.4 301.2L793.6 303.2L797.4 306.2ZM826.4 306.4L823.5 309.9L819.9 309.9L818.4 306.8L817.3 303.8L820.5 302.6L823.4 303.8ZM794.6 309.5L793.0 311.1L791.7 311.7L789.9 310.8L790.5 308.5L791.5 307.2L793.9 308.0ZM816.8 305.6L814.3 305.9L807.9 306.6L805.8 304.8L804.2 300.8L809.3 300.2L814.0 302.3ZM806.4 304.9L805.5 305.7L804.3 305.8L803.3 304.5L803.9 303.5L804.7 303.2L805.8 303.9ZM771.3 318.0L768.0 317.4L765.4 315.6L767.0 311.6L769.2 308.9L771.6 311.1L772.6 316.4ZM790.3 306.6L788.9 305.7L792.1 301.8L794.6 301.5L796.1 303.1L794.7 305.1L793.0 308.1ZM817.1 301.6L815.6 300.1L815.2 296.9L816.2 296.0L817.6 295.4L818.4 297.9L818.3 299.6ZM801.8 305.3L801.0 305.7L798.2 304.6L797.6 303.6L796.7 301.6L800.4 301.8L802.8 304.4ZM829.5 303.4L825.9 302.5L821.0 301.2L819.1 297.6L822.3 297.2L824.9 297.1L829.4 299.7ZM790.7 306.5L791.6 306.0L792.9 305.3L794.2 306.2L795.0 307.3L793.9 308.0L791.4 308.0ZM799.9 306.9L801.2 305.6L803.6 303.2L806.6 302.5L807.4 305.0L806.7 306.3L802.1 308.2ZM801.9 305.5L802.6 303.4L804.9 303.3L806.5 303.9L806.6 305.1L805.4 306.7L803.8 307.4ZM809.7 302.2L812.0 299.7L814.7 298.8L816.7 299.1L818.1 301.5L815.2 303.2L811.1 304.2ZM812.8 306.8L810.2 304.7L808.6 302.8L809.8 300.0L812.0 299.6L814.1 301.6L814.9 303.2ZM790.1 307.0L787.3 304.5L786.2 303.0L787.7 300.1L790.2 299.6L791.1 302.4L790.7 305.0ZM781.8 305.7L781.1 302.1L785.4 297.1L789.9 297.3L791.9 299.3L788.7 302.6L784.3 306.2ZM772.9 310.7L775.5 307.1L779.3 306.1L784.8 305.8L785.2 308.0L781.8 311.4L776.8 310.9ZM830.9 310.3L825.9 310.6L820.9 308.0L817.8 305.5L816.4 301.9L822.7 301.6L827.6 306.2ZM804.1 306.8L806.5 305.1L808.8 304.0L810.5 305.0L811.5 307.3L809.2 309.0L805.6 307.9ZM809.5 297.8L809.9 297.1L811.8 296.5L812.2 297.3L812.4 297.7L811.3 298.4L810.2 298.2ZM822.8 312.3L821.0 312.5L820.2 310.1L820.7 307.5L821.7 305.7L824.4 309.0L824.2 312.4ZM808.5 304.9L807.1 304.4L804.5 302.3L805.2 298.5L806.5 296.9L809.2 299.5L809.4 302.5ZM782.3 317.1L780.5 317.3L778.5 315.6L776.9 313.4L778.3 312.9L781.0 314.1L781.4 315.4ZM795.3 307.4L793.7 309.1L789.7 305.2L789.6 303.5L788.7 300.4L793.0 303.2L794.6 305.5ZM796.5 306.8L796.1 305.7L797.3 304.5L798.4 304.1L799.2 304.1L798.7 305.5L797.2 307.7ZM745.2 330.6L746.0 331.6L743.5 334.0L741.4 335.5L740.3 334.1L741.4 332.2L743.9 330.1ZM773.1 323.3L772.9 325.3L771.4 327.0L769.8 328.5L768.5 326.8L769.3 325.0L770.8 323.7ZM760.0 322.9L760.7 323.8L758.5 325.9L756.1 326.3L755.7 325.3L757.0 322.9L759.1 322.2ZM744.8 331.2L743.7 331.9L741.7 332.4L740.1 332.5L739.6 331.5L742.1 330.7L744.1 330.8ZM774.0 323.1L774.1 324.0L773.7 325.2L772.3 326.7L771.7 326.0L772.1 324.7L773.0 323.3ZM751.2 316.8L750.7 318.8L746.5 321.3L742.8 322.9L741.5 320.8L746.1 317.2L749.8 315.6ZM750.0 319.8L750.8 321.8L746.7 324.3L744.7 324.8L742.5 323.3L744.8 320.7L748.2 318.0ZM760.8 327.0L759.4 328.9L756.4 331.0L753.8 331.2L753.2 329.7L754.0 327.8L758.1 326.1ZM763.3 329.8L762.0 332.2L759.2 333.0L756.5 333.2L757.6 331.6L758.4 330.0L760.5 329.7ZM773.5 324.9L773.3 326.0L772.1 327.2L770.7 327.6L770.7 326.4L771.3 325.2L772.5 324.9ZM771.6 322.3L770.6 324.0L768.6 326.3L766.5 326.5L766.2 324.5L767.2 322.1L769.1 322.0ZM743.0 320.9L743.4 321.8L741.8 323.4L741.1 323.8L740.5 323.6L740.7 322.2L742.3 321.2ZM742.3 332.8L742.2 334.7L740.1 336.6L736.3 338.9L737.1 336.9L737.6 334.8L741.3 332.2ZM762.2 326.7L763.2 327.6L759.7 329.2L757.6 330.1L757.3 328.4L758.4 327.3L761.7 325.2ZM748.4 328.4L748.7 330.6L748.0 333.4L745.0 337.1L743.6 336.1L745.1 331.9L746.8 329.6ZM767.9 324.4L767.9 325.3L766.1 326.7L765.2 326.8L764.8 325.9L765.4 324.7L767.2 323.8ZM751.0 318.5L750.2 319.4L749.3 319.9L747.2 320.1L747.8 319.0L748.7 318.4L749.8 318.2ZM775.8 321.0L776.9 321.3L775.2 324.6L772.8 327.6L771.8 326.8L772.2 324.3L773.7 321.8ZM762.0 315.3L762.3 317.5L760.3 321.5L756.3 323.7L755.9 321.3L755.4 320.1L759.5 316.0ZM750.7 327.1L751.1 327.8L750.1 329.5L748.2 330.3L747.3 330.2L747.9 328.3L749.5 327.1ZM780.5 301.9L781.1 304.0L778.3 307.8L774.6 311.5L774.5 309.2L775.5 306.6L777.5 303.3ZM801.9 292.3L801.9 293.9L797.5 297.0L793.5 298.8L792.5 297.3L793.9 294.7L801.5 290.6ZM770.8 283.8L766.9 287.7L760.9 291.2L758.2 290.3L757.7 289.1L760.0 286.6L766.6 284.8ZM787.3 305.7L788.1 308.1L785.6 312.7L783.3 315.5L781.4 315.5L782.9 312.1L785.5 307.7ZM790.4 300.5L790.2 301.9L789.4 303.8L787.4 305.0L787.2 304.0L787.7 302.3L789.2 300.9ZM787.4 297.0L787.9 299.1L785.8 302.4L783.2 302.6L782.4 302.1L782.4 300.3L784.9 297.4ZM765.7 301.9L765.5 303.5L763.8 303.5L760.7 304.0L760.5 303.2L762.8 301.1L765.6 300.3ZM778.6 302.4L776.3 305.1L774.0 307.0L770.1 308.4L770.2 305.3L771.8 303.1L774.7 301.7ZM796.4 265.4L795.6 266.3L794.6 267.3L793.7 267.0L793.4 266.4L794.1 265.8L795.1 265.2ZM801.3 271.7L801.7 273.7L800.3 275.3L799.0 275.6L798.1 274.9L798.7 273.2L799.7 272.3ZM802.3 290.1L801.9 291.3L799.2 291.8L796.9 292.1L796.9 290.5L797.7 289.1L800.7 289.1ZM791.7 294.1L792.0 296.2L788.0 302.0L784.8 302.7L785.1 300.0L786.4 296.5L790.1 293.9ZM800.8 300.8L800.3 302.6L798.5 305.9L796.8 307.7L796.1 306.4L796.7 303.9L799.8 300.1ZM789.2 269.8L789.0 270.8L788.4 271.3L787.3 272.0L786.8 271.1L787.4 270.2L788.3 269.6ZM764.4 254.1L762.9 255.7L759.9 256.5L757.5 257.2L757.3 255.8L759.8 254.1L761.5 254.4ZM785.6 290.3L785.4 291.7L784.6 292.5L783.7 292.8L782.8 292.1L783.6 291.1L784.9 290.3ZM792.2 272.1L790.6 273.3L789.0 273.9L787.2 273.3L785.6 272.5L788.5 270.9L790.2 271.2ZM796.0 263.8L793.6 266.5L790.8 267.2L789.1 267.1L788.1 266.3L790.6 264.4L793.0 263.0ZM786.2 298.0L785.9 299.2L784.0 301.0L782.3 300.4L781.7 299.2L782.8 298.2L785.3 297.3ZM768.9 265.1L769.2 265.9L768.2 267.6L766.7 267.9L765.5 267.8L765.6 266.3L767.7 265.1ZM795.9 294.5L795.9 295.3L793.8 296.2L791.6 295.5L791.3 294.5L791.5 293.4L794.8 293.4ZM764.3 269.5L764.5 270.2L763.6 271.8L762.6 272.5L762.0 271.5L762.5 270.5L763.2 269.4ZM761.8 294.1L760.7 295.4L759.0 296.2L757.4 296.0L757.7 295.3L758.4 294.6L760.3 293.8ZM767.8 301.3L767.4 302.3L765.5 302.9L763.8 303.2L763.4 302.4L765.8 301.4L767.6 300.7ZM769.1 301.7L768.4 304.4L762.8 308.2L759.5 309.1L760.1 307.1L762.4 304.5L766.1 302.7ZM798.8 263.7L798.5 266.0L796.7 268.2L795.4 267.2L794.2 266.7L795.8 265.2L797.6 264.0ZM784.0 246.4L782.1 246.2L780.7 245.5L780.3 243.0L780.9 242.5L782.6 242.6L785.0 244.7ZM782.5 242.6L782.8 241.3L785.5 240.2L786.8 240.7L788.1 241.2L786.4 242.7L784.2 243.0ZM779.1 238.1L778.3 236.7L778.2 235.6L779.0 233.8L779.6 234.3L780.1 235.4L780.0 237.4ZM775.9 234.5L775.5 233.9L775.3 232.6L775.9 232.5L776.7 232.6L776.8 233.3L776.7 234.1ZM774.2 239.2L774.0 237.7L775.3 234.7L776.6 233.1L777.7 233.3L777.1 236.9L776.4 238.9ZM794.7 242.8L794.1 243.4L792.4 243.1L791.5 242.0L791.2 241.4L792.8 241.4L794.4 241.9ZM780.7 250.3L780.0 249.6L780.9 248.1L781.9 247.3L783.1 247.8L783.4 249.6L782.4 250.9ZM771.3 239.6L772.9 237.6L775.0 237.2L778.8 236.4L778.9 238.6L776.3 240.1L772.5 241.3ZM784.3 240.7L783.8 240.4L783.1 238.5L783.6 237.5L784.4 237.1L785.1 238.8L785.0 239.9ZM778.6 252.6L778.1 252.1L777.8 251.0L778.4 250.3L779.2 249.9L779.5 251.1L779.0 252.0ZM772.6 238.6L771.0 238.4L771.4 236.2L772.4 235.4L774.4 235.3L774.4 236.9L774.0 238.6ZM783.3 244.3L785.0 242.1L787.4 242.0L789.4 242.0L789.0 244.0L786.9 245.3L785.9 244.7ZM775.6 245.2L774.1 244.4L774.0 243.4L774.4 242.4L775.6 241.9L776.3 243.1L775.8 243.9ZM780.3 236.9L780.0 237.4L779.2 237.3L778.5 236.8L778.8 236.2L779.5 236.1L780.0 236.2ZM825.4 232.9L826.3 233.6L824.6 237.1L823.4 238.3L822.1 237.8L822.5 234.8L824.2 232.9ZM829.6 240.4L829.8 241.1L828.2 242.0L826.5 242.4L826.8 241.7L827.4 240.8L829.8 239.7ZM832.5 229.3L831.4 230.7L829.7 231.5L828.0 231.9L828.3 231.1L830.0 229.9L831.1 229.3ZM835.7 227.1L833.9 228.8L831.0 229.4L829.1 229.5L828.5 227.8L830.0 227.2L834.4 226.0ZM824.1 236.3L823.5 238.5L821.6 240.2L820.7 240.0L819.3 239.8L820.6 238.3L822.1 236.6ZM824.5 236.3L826.2 237.2L820.4 239.8L817.4 240.5L817.6 238.9L818.3 237.0L824.1 235.1ZM822.0 237.3L822.0 237.8L821.0 239.3L820.0 239.7L819.8 238.9L819.9 237.9L821.6 236.4ZM827.6 238.0L828.0 238.7L826.1 240.8L822.7 243.3L823.0 241.4L823.8 239.0L826.4 237.8ZM889.9 472.0L888.4 472.4L886.0 471.5L883.3 467.7L884.8 467.5L888.0 467.7L889.3 469.6ZM886.3 473.9L885.5 474.3L884.2 473.1L883.3 471.7L884.3 471.1L885.4 471.6L886.7 473.1ZM879.4 461.6L878.3 459.7L880.0 456.8L881.9 457.5L883.2 458.4L882.6 460.8L881.3 461.2ZM882.2 471.3L881.1 471.1L880.6 470.0L881.4 469.3L882.1 468.7L883.1 470.2L882.9 470.9ZM879.4 469.5L877.8 467.6L877.3 464.7L877.0 462.7L878.8 462.5L879.9 463.7L880.3 467.2ZM881.2 464.0L879.0 463.4L877.0 461.6L875.7 459.7L877.8 458.0L879.7 458.3L881.7 461.2ZM883.3 483.6L883.1 484.9L880.5 484.3L880.1 482.9L880.9 481.8L882.1 480.8L883.8 482.5ZM889.5 482.7L888.5 483.4L885.0 484.1L882.6 482.3L882.0 480.4L886.0 479.6L890.6 480.4ZM886.3 462.8L882.3 462.9L880.3 462.3L876.7 459.5L878.3 458.5L881.9 459.2L883.7 460.4ZM889.0 467.4L888.9 466.0L890.4 463.3L893.1 464.0L893.8 465.7L892.0 467.8L889.8 468.7ZM879.3 481.0L878.3 483.3L875.5 482.4L874.9 481.3L876.0 479.1L878.1 478.8L878.7 479.7ZM886.2 481.8L886.5 481.2L887.1 480.8L887.6 481.3L887.7 481.8L887.1 482.6L886.5 482.2ZM869.1 458.2L868.5 456.2L868.2 454.3L869.2 453.2L870.6 452.6L870.4 455.1L870.1 456.7ZM882.8 477.9L882.0 477.7L881.4 476.8L881.1 475.8L881.5 475.2L882.5 476.0L883.2 476.8ZM878.5 469.5L877.0 468.4L876.1 467.5L875.7 465.8L877.7 464.2L879.7 465.5L879.7 467.7ZM879.0 467.7L878.1 469.8L874.9 470.8L873.2 468.4L871.7 467.2L875.2 465.2L877.6 466.5ZM883.0 482.0L882.3 482.8L879.7 482.4L879.1 480.8L879.8 479.8L881.9 479.4L883.1 479.5ZM885.8 459.5L884.1 459.1L884.4 457.6L884.8 456.3L886.0 456.5L886.6 457.0L886.9 458.7ZM882.9 485.1L882.5 484.0L883.3 482.1L884.2 481.2L885.4 482.3L886.3 483.4L884.9 485.3ZM881.0 483.8L880.3 482.1L880.6 480.6L882.5 480.2L884.6 481.4L884.7 483.1L882.9 484.1ZM893.0 464.4L891.8 462.6L892.4 459.1L894.2 458.2L895.6 459.1L896.6 462.1L895.1 464.3ZM883.1 470.7L882.3 469.0L883.0 468.2L884.0 467.7L885.0 467.8L885.2 469.7L884.4 470.1ZM878.3 473.8L878.2 472.0L880.8 471.5L883.3 470.6L883.7 472.5L880.9 474.2L879.2 474.3ZM882.5 477.5L883.8 476.5L885.3 476.2L886.8 477.0L886.2 477.8L885.5 478.3L883.2 478.5ZM896.9 466.9L895.6 466.3L895.8 463.6L897.0 462.0L897.9 461.3L898.6 464.0L898.7 465.9ZM872.2 463.2L870.9 462.3L870.3 459.9L870.2 458.5L871.6 457.5L872.8 459.0L873.5 462.3ZM866.3 439.0L866.0 440.6L862.9 441.0L861.0 439.5L860.3 437.8L862.4 437.3L866.0 437.8ZM852.7 438.0L851.9 435.9L853.0 434.7L854.0 434.4L855.9 434.3L854.8 436.5L853.8 438.1ZM844.2 433.7L842.6 432.2L841.9 430.2L842.6 427.9L843.8 427.7L844.9 428.3L845.0 431.6ZM845.1 435.4L845.4 434.7L846.2 433.9L847.1 434.1L847.8 435.0L846.8 436.2L845.7 435.9ZM850.0 432.2L849.4 430.8L849.6 428.0L850.8 425.7L852.0 425.4L852.3 428.0L851.6 431.9ZM841.9 432.1L840.9 431.9L840.4 431.3L840.5 429.7L841.2 429.8L841.9 430.2L842.5 431.1ZM854.3 440.5L853.6 439.9L853.0 438.2L852.9 436.7L853.9 436.8L854.7 437.7L854.7 439.3ZM856.2 429.5L854.5 430.4L852.6 428.8L852.5 427.7L853.1 426.1L854.1 426.4L856.0 427.9ZM862.4 445.9L862.7 445.0L864.2 443.9L865.9 443.7L866.5 445.2L864.4 446.6L862.7 447.0ZM851.7 436.6L850.1 436.6L848.9 435.5L849.2 434.1L849.4 432.5L850.9 433.3L851.7 434.5ZM860.7 443.7L861.7 441.4L863.6 441.4L864.8 441.5L866.5 442.9L865.0 445.2L862.0 444.5ZM865.9 444.9L863.9 444.8L863.1 443.3L863.0 441.3L863.3 440.1L865.3 440.5L866.6 443.3ZM468.0 468.0L467.6 467.9L467.4 467.3L467.4 466.5L468.2 466.7L468.8 467.1L468.4 467.8ZM477.0 453.2L476.2 452.7L475.1 452.1L474.3 451.1L474.7 450.8L475.7 450.8L477.0 452.2ZM471.5 473.1L470.8 471.7L470.0 469.6L471.4 468.5L472.4 468.1L472.9 470.2L472.5 472.4ZM479.2 468.6L478.1 469.7L475.2 469.7L473.8 467.2L473.8 465.4L476.0 465.6L479.1 467.7ZM473.9 465.6L474.5 464.1L475.1 463.4L476.0 462.7L476.9 463.0L476.9 464.3L475.5 465.3ZM473.0 461.7L472.7 461.3L473.3 460.2L474.7 459.8L474.8 460.2L474.9 461.2L473.8 461.9ZM476.5 479.7L475.1 480.1L473.1 480.1L473.2 477.7L474.4 477.1L475.2 477.0L476.2 478.8ZM478.1 468.8L476.9 470.6L474.9 470.3L472.6 469.7L473.8 467.9L475.3 467.5L476.7 467.8ZM477.2 475.6L476.7 476.6L474.1 476.4L472.9 475.7L473.4 473.9L474.7 473.3L476.0 474.4ZM473.6 465.2L472.0 465.3L471.1 464.3L470.3 463.3L471.4 462.8L472.2 462.5L473.5 464.1ZM469.4 466.4L468.8 464.9L471.7 461.6L473.3 461.7L475.5 462.2L473.7 464.6L471.8 466.7ZM465.8 478.3L465.0 478.0L465.1 477.1L465.7 476.4L466.4 476.1L466.3 477.0L466.2 477.7ZM466.7 475.4L467.6 474.0L470.0 473.3L472.5 474.0L473.5 475.0L470.9 476.0L468.9 476.9ZM473.2 463.3L470.8 464.9L469.9 464.3L468.3 462.3L470.0 460.5L471.5 460.6L472.9 462.0ZM467.5 470.3L467.3 468.5L468.9 466.5L471.0 465.0L471.8 466.4L471.0 468.2L468.7 470.8ZM475.5 466.6L476.0 465.3L476.5 463.5L478.2 464.0L479.8 464.7L479.3 466.4L476.9 467.3ZM482.5 448.0L483.4 447.4L485.0 446.7L486.4 446.8L486.1 448.0L485.3 449.6L483.7 449.1ZM502.1 454.6L500.5 455.3L497.8 454.1L498.9 452.5L499.6 451.6L500.7 451.6L502.3 453.1ZM480.3 453.8L481.0 452.3L481.5 451.8L482.7 451.0L483.3 451.4L482.5 452.6L481.3 453.8ZM485.3 449.5L486.2 447.9L487.9 447.4L488.6 448.4L489.5 450.0L488.9 451.0L487.0 451.0ZM491.8 455.9L491.1 456.7L488.4 453.4L487.5 450.5L488.5 449.9L491.2 452.6L492.6 455.0ZM487.5 455.5L485.6 455.7L484.2 454.4L484.5 453.1L484.7 451.8L486.5 452.8L487.0 454.1ZM494.8 458.5L495.1 456.3L495.8 454.5L497.5 452.7L498.5 454.0L498.0 455.7L496.4 457.5ZM499.3 456.6L497.8 455.4L496.2 453.2L496.8 451.6L497.7 450.3L499.3 451.2L500.1 454.6ZM494.8 455.7L494.3 455.7L493.7 455.2L493.7 454.4L494.4 454.4L495.1 454.6L495.5 455.5ZM484.8 459.4L484.3 458.9L483.8 457.8L484.1 457.3L484.8 457.1L485.2 457.5L485.4 459.0ZM483.6 451.5L483.4 451.1L483.7 449.9L484.7 449.1L486.2 449.4L485.5 451.2L484.6 451.7ZM484.9 462.6L484.4 464.1L482.3 463.1L478.9 462.0L480.5 460.8L482.1 460.0L485.2 461.7ZM493.8 455.1L492.8 455.1L492.4 454.2L492.3 453.0L492.9 453.0L493.4 453.1L493.7 454.5ZM497.1 455.9L496.4 453.3L497.5 452.0L499.1 450.6L500.3 451.1L499.7 453.8L498.6 455.4ZM487.7 452.7L487.5 450.5L489.1 447.9L492.2 446.3L493.4 447.8L492.5 449.7L489.6 452.5ZM502.4 455.4L501.3 455.7L499.9 453.5L500.3 452.5L501.2 451.5L502.1 452.5L502.5 453.8ZM526.4 455.5L526.1 454.7L527.2 453.9L527.9 453.7L528.7 454.2L528.1 455.0L527.2 455.6ZM537.2 455.7L536.6 455.4L536.2 454.1L536.8 453.5L537.8 453.0L538.7 454.2L538.2 455.4ZM521.3 459.0L521.1 458.6L522.1 457.3L522.8 456.5L523.6 456.9L523.3 458.1L521.9 459.0ZM528.8 459.3L528.4 458.4L529.8 456.8L531.3 455.6L532.4 455.6L531.7 458.2L529.8 459.9ZM540.4 449.7L539.8 449.3L539.9 448.0L540.7 447.9L541.5 448.0L541.5 448.7L541.3 449.7ZM518.8 456.2L519.2 455.3L520.1 454.5L521.5 454.5L521.7 455.2L520.4 456.7L519.0 456.6ZM526.5 452.6L526.3 453.1L525.3 452.6L525.1 452.2L525.0 451.4L525.9 451.2L526.3 451.9ZM541.9 451.5L539.8 451.1L537.7 449.1L537.7 447.4L539.3 446.3L540.7 446.8L542.2 449.8ZM525.4 451.5L525.1 450.9L527.3 449.4L529.3 449.5L529.6 450.6L528.8 451.8L526.5 452.0ZM521.4 460.4L519.9 459.9L518.4 458.6L517.8 456.9L519.2 456.5L520.3 457.9L521.6 459.0ZM516.8 459.5L517.1 458.5L518.7 457.1L519.3 457.8L519.6 458.6L519.8 459.3L518.3 460.2ZM535.8 458.8L535.3 456.6L536.3 454.6L538.5 452.7L540.4 452.6L540.3 455.6L537.9 458.4ZM532.6 459.1L531.9 458.4L531.7 456.6L531.9 455.5L533.1 455.9L534.3 456.1L533.8 458.0ZM518.8 463.2L517.0 464.0L515.5 462.4L516.1 460.2L516.9 460.3L518.5 460.9L518.8 462.4ZM527.6 458.8L525.8 458.8L525.3 457.8L525.7 456.2L526.3 455.4L527.5 456.7L528.1 457.7ZM534.0 456.4L534.3 455.0L534.7 453.8L535.7 453.1L536.7 453.4L536.3 455.2L534.8 456.5ZM526.0 457.9L525.1 457.1L524.3 455.8L524.0 453.5L525.6 453.1L527.0 455.0L526.7 456.8ZM520.3 463.9L519.2 463.4L518.8 461.9L518.9 460.7L519.5 461.0L520.5 461.5L520.9 462.6ZM622.8 444.9L621.7 446.7L618.6 446.4L617.9 444.9L617.3 443.9L618.5 442.8L621.2 443.4ZM622.1 430.3L621.4 431.3L619.4 430.1L618.2 428.8L618.4 426.9L620.1 427.1L621.8 428.7ZM623.2 436.2L620.5 434.4L619.7 431.2L620.4 427.9L623.2 428.7L625.3 430.2L624.8 434.4ZM619.4 437.5L620.5 436.3L622.1 435.1L624.0 435.7L624.3 437.0L623.5 438.6L621.0 439.0ZM625.6 430.2L626.2 427.8L627.6 424.6L629.5 424.1L630.9 424.9L631.0 427.0L627.5 430.4ZM632.6 444.6L634.0 443.4L636.7 441.7L638.3 442.4L637.6 443.8L636.7 444.8L634.0 445.4ZM626.1 431.9L626.1 432.4L625.3 432.4L624.6 432.1L625.0 431.4L625.3 431.2L625.9 431.2ZM625.9 446.7L622.9 448.4L619.0 448.8L616.4 446.7L616.2 444.8L618.5 443.5L624.1 444.7ZM633.5 419.3L632.3 418.3L632.0 416.0L633.4 414.8L635.2 414.4L635.0 417.2L634.5 419.3ZM632.6 447.6L631.2 447.2L629.8 443.7L630.7 442.0L632.0 441.4L632.9 443.0L633.6 446.3ZM632.9 417.7L632.0 418.3L630.7 418.1L630.3 417.3L630.0 416.6L631.5 416.3L632.5 416.9ZM635.5 430.4L636.6 429.0L637.5 427.6L639.1 426.7L640.1 427.2L638.9 428.8L637.2 430.1ZM634.5 426.2L632.3 425.2L631.5 425.0L630.4 422.6L631.6 421.2L633.2 422.7L633.9 423.9ZM623.0 448.2L622.5 447.5L621.9 446.0L623.0 444.9L624.3 445.3L625.3 446.1L624.5 447.5ZM627.4 428.4L627.8 426.2L630.0 425.2L632.0 424.8L633.6 425.4L631.9 428.1L629.6 428.4ZM615.9 446.8L615.6 445.8L615.2 444.4L615.8 443.0L616.8 443.3L617.1 444.4L616.8 445.9ZM623.9 459.8L621.9 456.4L622.3 453.4L624.1 451.3L626.5 450.8L627.5 453.3L625.5 457.8ZM624.0 437.4L622.7 439.5L619.9 438.8L619.1 437.4L618.8 435.4L620.6 434.6L623.3 435.0ZM632.4 425.3L630.2 423.2L627.9 420.0L628.2 417.5L631.2 418.1L632.1 419.3L632.9 422.3ZM619.5 446.7L618.9 446.4L618.3 445.8L618.6 444.6L619.3 444.4L619.7 445.1L620.2 446.3ZM637.2 422.6L636.9 421.9L637.1 421.2L637.6 420.7L638.5 420.9L638.5 422.1L637.9 422.5ZM617.4 445.6L615.9 445.4L614.8 444.4L615.2 442.6L615.9 441.4L617.4 443.3L618.4 445.4ZM636.2 432.2L634.8 432.8L634.2 431.2L633.4 430.1L634.8 429.5L635.9 429.2L636.8 430.9ZM618.3 441.5L618.5 440.6L619.4 439.7L621.2 439.8L622.1 440.3L620.2 441.7L619.0 441.9ZM625.4 440.1L624.5 439.4L624.1 437.6L625.1 435.6L626.5 436.1L627.1 437.4L626.1 440.4ZM635.2 439.2L633.9 437.9L633.9 436.2L634.2 435.6L636.0 434.8L636.3 436.4L636.3 437.9ZM634.5 439.2L634.9 438.0L635.6 436.5L637.1 436.0L637.0 437.1L636.8 438.2L635.8 438.9ZM638.4 426.9L637.1 426.7L634.2 424.8L634.7 423.1L635.7 421.6L638.1 422.4L638.5 424.3ZM608.2 441.3L611.9 437.9L615.6 435.7L617.6 437.0L618.9 439.7L615.0 441.8L612.4 441.6ZM618.3 453.6L618.6 452.7L620.4 450.3L621.9 450.8L622.3 451.7L621.9 453.0L619.0 454.3ZM737.2 212.7L736.9 211.8L737.8 211.3L739.0 211.2L739.7 212.6L738.9 213.2L738.0 213.4ZM722.0 211.5L720.1 212.8L719.0 211.0L718.7 209.2L719.9 208.5L721.2 209.0L722.5 210.3ZM740.5 207.9L741.0 206.9L742.8 204.8L743.8 204.7L744.1 205.8L744.2 206.8L742.1 208.0ZM736.5 217.0L736.0 215.9L736.9 214.8L738.1 215.3L738.9 215.9L738.7 217.1L738.0 217.5ZM710.5 224.8L709.5 224.9L708.1 224.0L707.6 222.0L708.5 221.0L710.1 222.1L710.9 223.4ZM716.9 208.9L717.7 207.3L722.0 206.1L724.2 207.7L723.5 208.8L721.3 210.5L719.3 209.9ZM719.5 227.2L717.7 225.4L718.9 222.3L720.9 219.9L722.1 220.4L722.0 222.9L720.7 226.3ZM749.6 206.5L749.7 205.4L750.3 204.1L751.8 204.3L752.8 205.0L751.9 206.6L750.8 207.6ZM727.0 207.3L726.3 206.7L726.6 205.2L727.8 204.5L728.1 205.0L728.6 205.7L727.5 206.9ZM726.4 218.9L724.9 218.7L723.9 217.2L724.2 215.3L725.3 213.9L726.9 215.4L727.3 217.5ZM705.4 219.6L703.3 219.7L702.7 217.9L703.4 216.0L704.8 215.1L706.8 216.9L706.1 218.9ZM711.5 226.5L711.5 227.3L709.7 226.3L708.7 225.0L709.1 224.6L710.6 224.8L711.5 225.7ZM722.8 209.9L721.5 208.6L720.3 206.8L720.9 205.9L721.7 205.5L722.3 206.3L723.1 208.6ZM708.6 216.3L707.6 215.9L708.5 214.6L709.1 213.3L710.1 214.2L711.0 215.5L709.6 216.6ZM742.9 200.0L742.4 199.3L742.6 198.9L743.1 198.2L744.0 198.2L744.1 199.1L743.5 200.1ZM711.5 220.3L710.9 220.4L709.5 219.8L708.7 218.4L709.5 218.3L710.6 218.7L712.0 219.6ZM708.7 225.3L707.7 225.3L706.7 224.3L706.2 222.7L706.3 221.7L707.6 221.8L709.3 223.8ZM729.2 220.3L727.9 219.2L727.9 218.1L729.0 217.0L730.2 217.0L730.9 217.9L731.4 219.4ZM724.3 206.3L724.7 204.3L726.3 204.1L727.9 204.8L728.1 205.9L726.7 206.8L724.4 207.5ZM707.9 207.4L706.3 207.4L703.9 204.2L702.2 200.3L703.7 200.2L706.8 202.0L708.4 204.3ZM722.7 214.9L721.6 215.9L717.3 217.5L714.4 215.0L714.5 213.0L716.3 212.0L722.3 212.3ZM714.3 230.4L712.6 231.3L710.2 230.0L709.3 228.5L710.1 226.6L712.0 227.3L713.6 229.0ZM416.2 483.5L414.0 481.1L413.2 477.9L413.7 474.6L415.8 475.7L417.6 477.8L418.1 480.9ZM416.8 480.4L416.5 481.2L414.9 480.3L413.5 478.9L413.8 478.1L415.4 478.0L417.0 479.3ZM415.4 479.6L415.2 478.8L415.8 477.9L416.4 478.1L417.2 478.4L416.7 479.0L416.3 479.3ZM451.0 480.0L449.8 480.2L448.0 480.7L447.6 479.7L447.6 478.7L448.1 478.3L450.0 479.1ZM418.3 480.9L418.7 479.2L420.8 478.5L423.5 479.0L422.8 480.2L422.3 481.9L419.3 482.0ZM443.5 479.7L442.5 479.5L441.6 479.0L441.8 477.8L443.0 477.6L444.0 477.4L444.5 479.1ZM420.2 479.5L419.4 479.2L418.8 478.5L419.1 478.1L419.8 478.0L420.3 478.2L420.4 478.7ZM424.7 478.1L424.9 477.3L425.9 476.7L426.7 477.0L427.6 477.5L426.7 478.1L424.9 478.5ZM427.8 477.9L427.0 478.2L426.3 478.0L425.6 477.2L425.6 476.6L427.0 476.2L427.6 476.9ZM448.4 480.2L447.1 480.1L446.4 479.7L446.3 478.4L447.2 478.1L448.1 478.2L448.6 479.2ZM426.5 479.3L426.5 478.2L426.8 476.8L427.5 476.5L428.4 476.2L428.3 477.7L427.7 478.8ZM423.0 480.4L422.4 479.5L422.8 477.7L423.9 477.3L425.0 477.7L424.8 478.9L424.0 480.3Z" fill="#106a24" stroke="#000" stroke-width="0.9" stroke-linejoin="round"/><path d="M624.5 456.4L621.2 456.2L618.0 455.8L617.3 453.4L616.9 451.0L621.0 452.4L622.5 453.5ZM629.1 427.6L628.5 428.0L627.0 427.1L625.8 425.3L626.9 424.9L627.8 424.8L628.7 425.8ZM628.3 386.9L628.6 384.7L629.6 382.3L632.0 380.2L632.8 381.7L631.9 384.6L630.6 386.4ZM642.4 438.8L640.8 437.2L641.9 435.4L643.1 434.3L644.5 435.0L645.2 437.1L644.0 438.5ZM613.4 428.4L613.5 427.3L615.7 426.7L617.8 427.0L617.3 428.2L615.4 429.1L613.8 429.2ZM629.6 384.0L628.4 383.1L630.2 380.2L631.4 379.3L632.4 380.8L633.1 382.2L630.7 384.6ZM635.3 432.9L633.4 431.5L632.4 430.0L631.7 427.5L632.9 426.4L634.5 428.3L635.5 430.5ZM622.9 409.4L621.6 407.6L622.1 406.2L625.0 404.0L626.1 404.4L625.4 407.4L625.5 409.4ZM642.7 403.5L642.2 404.2L641.1 403.0L640.7 401.9L641.5 401.3L642.8 401.6L643.0 402.7ZM640.7 428.0L641.2 426.5L643.5 425.2L645.6 425.3L646.9 426.7L645.4 429.3L642.8 430.0ZM636.1 435.0L633.8 433.7L632.1 429.4L631.2 425.8L633.7 426.4L635.9 428.9L637.1 432.0ZM612.4 444.6L612.2 442.3L614.3 441.2L617.0 441.1L617.4 443.3L616.0 444.9L614.1 445.2ZM643.2 451.5L641.6 450.8L639.9 450.0L640.7 448.7L641.4 448.2L642.8 447.7L643.9 450.1ZM638.9 437.4L637.7 435.9L638.9 433.0L639.9 432.0L642.7 430.9L642.0 434.5L640.6 438.2ZM625.7 418.9L625.4 418.0L625.0 416.6L627.1 414.7L627.7 416.4L628.3 417.6L626.7 420.2ZM635.3 417.4L635.1 418.4L633.1 417.8L632.0 416.1L633.2 415.7L634.6 415.8L635.4 416.9ZM643.4 445.8L641.7 444.5L638.3 442.9L638.2 441.2L639.5 440.0L641.9 441.0L642.9 442.5ZM636.2 420.8L636.3 418.4L637.3 416.6L640.5 416.7L640.6 418.5L641.2 420.2L637.8 421.8ZM626.5 438.6L625.0 435.0L625.8 430.8L629.1 427.0L629.7 430.2L630.9 432.5L628.9 438.4ZM652.8 441.6L651.1 443.2L646.7 441.9L644.4 440.4L646.0 438.7L647.8 437.1L651.6 439.3ZM615.8 454.4L615.0 452.2L615.7 449.8L616.8 448.6L619.0 448.8L619.6 450.9L618.4 452.7ZM633.0 392.0L630.8 392.0L628.4 392.7L625.9 388.8L627.4 387.9L630.4 388.2L633.8 390.6ZM626.2 384.4L624.9 385.5L623.3 385.5L623.0 384.7L623.5 383.6L624.8 383.1L625.9 383.5ZM657.6 441.0L655.7 440.4L654.0 440.2L651.9 437.9L654.0 437.6L655.7 437.2L657.8 438.7ZM646.1 407.8L645.2 409.1L642.1 408.4L639.0 407.0L638.8 405.0L642.3 405.2L645.6 406.6ZM631.0 393.9L629.7 390.9L631.5 387.5L633.2 385.9L636.1 385.5L636.8 388.1L633.8 392.7ZM668.5 395.1L667.4 393.8L667.8 390.6L669.1 388.2L671.2 388.3L671.0 391.0L670.7 393.7ZM669.6 397.3L667.8 394.5L667.1 391.8L668.3 389.9L670.7 388.9L670.8 392.1L670.9 396.4ZM676.6 391.1L675.9 391.0L675.8 389.7L676.5 388.6L676.9 388.8L677.5 389.9L677.1 390.6ZM666.0 399.5L664.7 400.0L661.8 398.9L661.3 396.9L662.1 396.4L664.1 396.8L665.1 397.5ZM672.0 397.7L670.6 399.2L667.9 398.6L666.5 397.7L666.2 396.0L667.9 395.9L669.9 396.8ZM676.1 395.1L674.0 393.8L674.5 391.6L677.2 390.4L679.2 390.2L679.4 393.1L677.7 395.0ZM691.0 421.1L690.1 422.1L688.5 421.6L687.9 420.4L688.6 419.3L689.6 419.1L690.7 419.9ZM691.0 422.6L691.1 421.3L693.1 421.6L695.4 421.7L695.0 422.9L693.1 423.5L691.8 423.2ZM691.4 402.4L688.2 403.0L686.8 403.5L684.0 400.9L685.6 398.7L688.1 398.3L690.2 400.5ZM690.1 403.8L688.8 403.7L688.2 402.7L688.8 401.5L689.7 400.8L690.7 402.4L691.0 403.7ZM684.1 408.2L682.5 408.6L679.7 407.0L678.6 405.4L678.8 404.0L680.8 404.2L683.5 406.8ZM702.5 420.5L698.6 421.8L695.9 422.0L693.7 420.7L690.9 419.1L695.4 417.5L699.3 418.6ZM679.2 410.9L678.5 411.1L676.5 410.9L676.1 409.7L676.3 408.4L677.8 409.1L678.6 409.6ZM687.3 408.9L686.8 408.1L687.6 406.6L688.2 406.5L689.1 406.3L688.8 407.6L688.1 408.4ZM682.1 403.8L682.2 403.1L683.1 402.1L684.2 402.4L684.3 403.3L684.3 404.3L683.2 404.4ZM690.7 423.8L689.2 422.8L688.3 421.0L688.3 419.4L689.3 418.2L691.0 420.1L691.3 422.4ZM736.0 372.7L736.1 373.3L734.3 374.1L733.3 373.7L733.4 373.2L734.2 372.4L735.5 371.7ZM734.1 366.3L733.6 369.2L731.2 372.2L728.5 372.8L727.9 372.0L730.0 368.1L733.1 365.7ZM728.2 363.8L727.8 365.3L726.5 366.5L724.9 366.4L724.0 365.9L724.9 364.4L727.5 363.0ZM723.1 354.1L724.5 355.2L722.6 357.7L720.4 359.6L718.8 359.6L719.6 357.0L721.3 353.9ZM770.9 314.7L769.3 318.4L767.8 322.2L763.1 324.6L762.3 323.1L764.2 319.5L767.8 316.2ZM747.3 323.1L746.9 324.4L745.6 325.3L743.5 325.9L742.8 325.5L744.9 323.5L746.6 323.1ZM771.4 324.0L771.3 324.9L768.9 325.5L765.8 325.3L766.5 324.2L768.5 323.8L770.8 323.7ZM734.7 365.3L733.2 367.4L730.8 369.5L728.7 370.2L726.6 370.2L728.4 368.2L731.8 366.3ZM769.9 315.3L769.5 316.7L767.5 317.9L766.1 318.0L766.5 316.5L767.6 315.4L768.3 315.0ZM751.0 318.6L748.6 320.5L747.7 321.6L745.1 321.6L744.7 320.7L745.7 319.7L748.8 318.2ZM725.5 361.1L726.0 362.3L721.9 364.2L718.9 364.7L719.6 362.2L720.6 360.4L724.1 359.9ZM734.5 360.5L734.0 361.7L731.8 362.5L728.6 363.0L727.7 362.2L731.1 360.2L733.6 359.7ZM745.0 323.1L744.7 325.2L742.5 325.9L740.7 325.6L741.2 323.9L742.3 322.9L743.9 322.1ZM734.9 316.5L735.2 317.3L733.4 317.7L732.4 318.2L732.7 317.0L733.0 316.4L734.3 316.1ZM737.6 362.3L735.3 365.3L734.1 367.3L730.2 368.3L728.8 367.1L732.3 364.2L734.5 363.2ZM725.4 355.1L725.6 356.4L724.7 358.0L722.2 359.6L721.1 359.0L722.1 356.5L724.3 354.1ZM732.6 329.7L732.7 332.8L730.2 335.9L728.8 335.9L728.0 334.5L728.7 332.7L729.8 330.9ZM735.3 355.7L734.5 356.9L732.2 358.9L731.3 358.3L730.2 357.9L731.7 356.7L734.3 355.0ZM728.5 340.2L727.6 342.7L726.5 344.7L724.4 345.8L722.8 346.4L724.1 343.7L725.5 341.8ZM740.1 316.9L739.9 319.6L737.9 322.4L735.7 323.4L734.4 323.5L736.5 320.3L738.0 317.8ZM727.1 364.3L727.1 365.8L725.0 367.7L723.1 368.7L722.5 368.2L723.2 365.7L724.9 365.4ZM739.7 366.7L739.2 368.7L738.0 371.4L734.2 372.4L732.8 370.4L733.9 368.3L738.9 365.2ZM787.0 306.4L785.8 305.6L783.4 303.8L785.4 302.0L786.5 301.1L788.2 302.0L789.0 305.1ZM819.8 309.6L818.7 310.4L817.3 309.9L816.4 308.4L816.8 307.9L818.0 307.2L819.4 308.1ZM789.2 316.5L787.3 316.6L787.2 313.8L787.3 310.9L788.2 311.4L789.4 313.8L789.9 315.3ZM803.1 304.8L801.1 304.1L799.7 302.8L799.5 300.3L801.2 299.9L802.7 300.9L804.0 303.6ZM815.6 312.3L814.3 311.9L814.4 308.5L815.3 307.4L816.2 307.2L816.9 308.9L816.7 312.2ZM775.3 307.1L775.8 304.3L776.8 301.7L779.8 299.1L781.9 299.7L779.8 303.9L778.3 305.4ZM794.4 308.2L794.8 306.3L795.6 305.1L797.3 304.6L797.8 304.9L797.8 307.3L796.6 308.4ZM824.3 310.3L822.6 309.3L821.6 307.5L821.4 306.2L822.5 305.9L823.9 306.2L824.6 308.6ZM804.9 303.3L804.0 302.6L804.4 301.4L805.5 300.5L806.1 300.6L806.4 302.0L805.6 303.0ZM775.4 306.2L775.8 304.1L778.0 303.0L779.6 303.8L781.1 305.2L779.9 306.4L777.0 307.2ZM778.6 318.0L777.5 315.2L777.4 310.3L779.5 308.7L780.7 308.8L781.2 310.8L781.0 314.5ZM792.4 311.6L791.5 311.1L791.0 308.8L791.9 306.6L793.4 307.2L794.3 309.1L793.6 310.6ZM777.9 322.8L776.3 324.5L772.7 325.7L766.4 324.8L769.0 323.0L772.5 321.7L776.1 321.0ZM748.2 326.3L748.2 328.3L746.5 328.9L743.8 329.2L743.6 328.3L744.8 326.4L747.1 326.0ZM764.6 328.6L763.1 329.6L760.3 330.3L756.7 330.1L757.1 328.9L759.0 328.2L762.1 328.2ZM756.3 334.1L755.5 336.0L752.7 337.5L748.7 339.3L746.8 338.2L750.0 335.2L754.4 333.9ZM757.4 323.5L756.7 325.1L755.7 326.2L753.7 327.6L753.7 326.8L753.9 325.7L756.1 323.9ZM775.7 318.5L775.2 320.2L773.3 321.1L771.0 321.1L769.7 320.1L771.4 317.9L774.0 317.4ZM762.7 320.4L762.9 323.7L761.4 327.0L758.8 327.9L757.3 327.6L758.7 324.5L760.8 320.8ZM749.7 330.9L750.8 332.9L749.3 335.1L747.1 335.5L746.2 334.4L746.0 333.5L747.5 331.3ZM787.4 303.1L788.1 303.9L786.0 304.3L784.8 304.6L784.7 303.3L785.5 302.8L787.0 302.8ZM792.6 278.9L792.6 280.1L791.6 280.9L789.6 281.8L788.6 280.9L789.9 279.2L791.9 278.5ZM760.0 266.1L760.3 267.6L758.8 269.2L757.5 269.2L757.2 268.4L757.5 267.3L758.9 266.7ZM776.2 300.5L777.4 302.0L774.9 306.8L772.2 309.0L770.8 307.7L772.3 304.0L775.0 299.9ZM780.2 272.5L780.9 273.5L778.7 275.3L776.5 276.9L775.7 276.5L776.9 274.5L778.3 272.6ZM781.9 266.8L781.7 267.7L779.8 268.3L778.0 268.8L777.7 267.8L778.9 267.2L781.9 266.4ZM763.1 296.0L761.9 297.5L760.9 298.1L759.3 298.5L758.6 297.9L759.7 297.3L761.5 296.2ZM776.9 274.1L775.0 276.7L773.2 277.4L770.9 278.1L770.7 276.4L771.8 275.5L774.4 274.4ZM782.8 246.7L781.9 247.8L780.4 248.1L779.4 247.1L779.7 246.3L781.1 245.0L782.1 246.0ZM794.1 248.1L791.8 249.2L789.0 247.7L786.7 246.0L787.1 245.1L789.5 244.4L793.3 246.5ZM779.7 248.6L780.1 248.0L780.9 247.6L781.6 247.7L781.8 248.4L781.0 248.8L780.2 249.3ZM795.0 242.0L794.8 240.4L798.5 239.5L800.5 240.3L801.3 241.4L799.5 242.7L796.7 243.0ZM801.3 241.8L800.6 241.9L800.9 240.7L801.7 239.4L802.2 240.3L802.6 240.6L801.9 241.9ZM832.3 231.1L831.5 231.8L830.3 232.3L829.2 232.5L828.6 231.8L829.8 230.9L831.3 230.6ZM824.4 235.8L824.5 236.4L824.1 236.9L823.3 237.3L822.8 236.9L823.3 236.3L824.2 235.4ZM825.4 240.5L825.4 241.2L824.2 241.8L822.2 242.0L822.0 241.0L823.3 240.4L824.5 239.5ZM822.1 237.0L821.8 238.2L821.0 239.3L820.2 240.0L819.9 239.5L819.8 238.7L820.9 237.7ZM877.6 468.2L876.4 468.0L875.3 467.2L874.9 465.4L875.9 465.5L876.8 465.7L877.6 466.8ZM889.6 464.6L887.9 465.7L886.2 464.9L886.0 462.4L887.0 461.0L888.7 462.1L890.8 463.3ZM895.7 465.6L894.5 466.1L892.7 464.8L892.5 463.1L894.1 463.4L894.8 462.8L896.3 465.2ZM882.3 457.6L880.8 457.9L879.6 457.6L878.9 456.3L879.1 455.2L880.5 455.5L882.1 455.9ZM891.9 459.6L892.1 458.7L892.9 457.6L893.6 457.5L894.2 458.5L893.8 459.2L892.9 459.4ZM876.0 462.6L876.8 461.4L877.4 460.5L879.3 460.1L879.4 460.9L879.3 461.9L876.8 463.2ZM887.9 471.0L887.4 470.7L887.3 469.8L887.5 468.5L888.2 468.1L888.8 469.1L888.7 471.1ZM894.5 462.5L895.7 461.2L897.9 459.6L899.2 460.8L899.7 462.1L898.1 463.7L896.4 463.5ZM849.1 433.2L849.1 430.3L850.7 428.3L852.4 426.5L853.4 427.8L852.9 429.3L851.2 431.9ZM848.4 434.3L848.8 433.3L850.8 431.7L851.6 432.3L852.8 433.7L850.8 435.3L849.7 434.7ZM471.6 464.3L470.9 465.2L469.8 465.1L468.9 464.2L469.6 463.4L470.3 463.0L471.7 463.3ZM465.7 464.4L468.0 463.2L469.7 463.3L471.7 463.8L472.0 465.1L469.7 465.6L467.9 465.0ZM467.5 486.0L466.6 485.6L465.7 484.6L466.0 483.8L467.3 483.6L467.7 484.4L468.0 485.3ZM482.3 457.6L482.3 456.3L482.4 455.6L483.9 455.2L484.5 455.9L483.8 456.8L483.0 457.7ZM502.6 452.9L501.8 453.5L501.3 453.5L500.8 452.8L501.2 452.2L501.5 451.8L502.3 452.4ZM498.8 450.7L497.7 451.6L496.8 451.3L496.1 450.5L496.6 449.7L497.6 449.4L498.4 449.6ZM534.3 459.3L533.1 459.2L533.2 458.0L533.4 456.7L534.1 456.5L534.5 457.3L535.1 458.5ZM535.3 453.4L535.1 452.4L535.4 451.1L536.5 451.1L537.4 451.2L537.2 452.3L536.2 453.4ZM516.9 464.5L516.4 463.6L516.5 463.1L517.1 461.8L517.6 462.2L518.0 462.8L517.7 464.3ZM519.8 455.8L518.9 455.2L518.5 452.9L518.9 451.7L520.3 450.8L521.0 453.4L521.4 455.0ZM617.0 438.4L616.5 437.7L617.5 436.7L618.8 436.7L619.5 437.9L619.1 438.9L616.9 439.3ZM625.1 437.7L623.9 438.9L622.1 437.3L619.8 435.8L620.6 435.0L623.1 434.9L624.8 436.3ZM626.4 429.4L626.2 427.5L627.2 426.0L628.9 424.6L630.0 424.9L629.9 427.0L627.6 429.7ZM627.5 432.7L626.7 431.7L626.3 429.7L626.9 427.5L628.4 427.8L629.3 429.7L628.7 431.9ZM635.3 444.2L634.6 443.9L633.6 443.1L632.8 442.2L633.6 441.8L634.8 442.0L636.0 443.6ZM621.4 442.4L620.0 441.9L618.8 441.4L618.6 439.4L619.2 437.6L620.7 438.4L622.4 440.1ZM631.8 445.3L631.2 443.7L631.8 441.9L632.9 440.9L634.5 441.2L634.3 442.9L633.0 445.1ZM628.2 426.6L627.3 426.5L626.7 425.5L627.3 424.2L627.8 424.2L628.8 424.6L628.9 426.0ZM614.9 437.9L612.6 437.8L612.6 434.7L612.3 431.3L614.8 431.6L616.2 434.4L616.0 436.0ZM637.3 445.1L636.4 445.0L636.4 444.4L636.1 443.1L637.1 442.9L637.9 443.9L637.8 444.5ZM705.9 225.9L704.1 225.7L704.0 224.2L703.7 222.8L704.7 222.8L705.7 223.4L706.4 224.7ZM709.3 228.2L708.5 228.7L707.4 228.9L706.7 228.1L707.0 226.6L707.8 226.4L708.8 227.1ZM705.5 216.8L705.1 217.5L704.0 217.1L703.2 216.3L704.0 215.6L704.8 215.5L705.5 215.9ZM745.8 209.6L746.2 208.7L747.5 208.2L748.4 208.6L748.1 209.2L747.5 210.1L746.2 210.2ZM723.7 205.6L722.2 205.1L722.5 203.7L723.1 202.2L724.5 202.6L725.4 203.7L724.7 205.3ZM725.4 206.9L724.5 206.1L725.9 204.0L727.7 203.8L728.3 204.4L727.4 206.0L726.4 207.0ZM421.6 478.8L421.0 478.7L420.7 477.7L420.5 476.6L421.5 476.4L422.1 477.5L421.9 478.0ZM426.5 479.7L424.8 479.1L424.9 476.7L425.4 475.3L426.3 475.3L427.3 477.0L427.3 478.3ZM417.7 479.7L415.5 479.0L414.0 477.3L414.2 476.5L414.9 474.6L416.3 476.2L417.3 477.7ZM423.5 479.0L423.0 479.7L422.1 480.3L421.5 479.2L421.5 478.4L422.5 478.2L423.2 478.3Z" fill="#828282" stroke="#000" stroke-width="0.9" stroke-linejoin="round"/><path d="M705.5 213.2L710.9 210.5L716.4 209.8L721.8 208.4L727.3 209.1L734.1 210.5L738.2 209.1L743.6 209.1L749.1 207.0L753.2 205.0" fill="none" stroke="#000" stroke-width="3.4" stroke-linejoin="round" stroke-linecap="round"/><path d="M705.5 213.2L710.9 210.5L716.4 209.8L721.8 208.4L727.3 209.1L734.1 210.5L738.2 209.1L743.6 209.1L749.1 207.0L753.2 205.0" fill="none" stroke="#828282" stroke-width="1.8" stroke-linejoin="round" stroke-linecap="round"/><path d="M707.5 226.8L713.6 224.1L719.1 221.4L724.5 219.3L730.0 215.9L735.5 213.9" fill="none" stroke="#000" stroke-width="3.4" stroke-linejoin="round" stroke-linecap="round"/><path d="M707.5 226.8L713.6 224.1L719.1 221.4L724.5 219.3L730.0 215.9L735.5 213.9" fill="none" stroke="#828282" stroke-width="1.8" stroke-linejoin="round" stroke-linecap="round"/><path d="M713.6 215.9L717.7 214.5L721.8 213.2L725.9 212.5" fill="none" stroke="#000" stroke-width="3.4" stroke-linejoin="round" stroke-linecap="round"/><path d="M713.6 215.9L717.7 214.5L721.8 213.2L725.9 212.5" fill="none" stroke="#828282" stroke-width="1.8" stroke-linejoin="round" stroke-linecap="round"/><path d="M748.6 356.2L748.5 357.0L747.4 358.2L746.9 358.3L746.3 358.2L746.8 357.5L747.6 356.4ZM758.5 374.4L759.2 375.4L757.3 377.1L754.7 378.5L754.4 376.9L755.6 375.7L756.7 373.7ZM761.7 376.8L762.2 378.3L758.2 378.4L756.1 378.1L756.1 376.3L758.5 376.0L761.6 375.5ZM763.8 376.5L762.7 377.2L761.3 377.5L760.3 377.2L760.0 376.4L761.8 376.1L762.9 376.1ZM771.6 354.0L771.5 354.5L769.9 355.5L769.1 354.9L768.3 354.2L769.7 353.6L771.0 353.4ZM771.2 356.7L771.2 358.9L769.5 360.1L767.9 361.1L766.2 361.3L767.9 358.4L769.2 357.6ZM747.2 353.1L746.9 355.1L745.6 356.5L744.1 357.1L742.6 357.4L744.3 355.4L745.1 353.9ZM749.7 358.1L748.6 360.1L746.6 362.6L744.0 363.7L743.4 362.4L744.9 360.7L747.0 359.3ZM756.1 355.0L753.2 356.6L750.8 358.0L745.9 359.0L745.1 357.5L749.1 355.7L752.1 355.4ZM759.7 374.8L758.3 377.9L756.9 380.4L753.4 384.0L754.0 381.3L754.3 379.0L756.5 377.6ZM743.7 351.4L744.2 352.4L742.4 353.3L741.5 353.5L740.9 352.9L740.9 351.7L743.3 350.7ZM763.8 350.2L764.2 350.9L761.5 354.4L760.1 355.9L758.9 355.7L760.9 352.3L762.1 350.9ZM749.9 364.8L747.7 367.1L746.5 368.4L742.6 369.1L742.1 368.1L744.5 366.2L746.7 364.9ZM757.6 367.7L756.6 369.0L755.1 370.8L751.6 371.1L751.8 369.9L753.3 368.5L757.0 367.0ZM756.5 363.2L755.5 364.9L754.5 365.6L753.2 365.8L753.1 365.3L753.4 364.3L754.5 363.8ZM758.5 361.9L758.6 362.6L758.0 363.5L757.3 363.6L756.3 363.1L757.0 362.0L758.0 361.7ZM770.7 370.3L771.0 371.2L769.6 373.3L768.3 374.3L767.3 374.0L768.0 372.7L769.8 370.2ZM772.3 354.6L771.6 355.6L770.1 356.2L769.1 356.7L768.4 355.5L769.1 354.7L771.2 354.2ZM766.1 365.3L765.1 367.1L762.9 369.3L759.5 371.1L758.5 370.6L760.5 367.9L764.2 365.8ZM758.3 349.1L758.0 350.7L756.2 351.3L754.8 351.3L754.3 350.4L755.3 348.8L757.4 348.5ZM748.8 362.5L749.5 363.6L748.0 365.2L746.2 366.0L744.8 366.5L746.5 363.6L747.5 362.7ZM751.8 371.0L750.8 372.6L748.3 375.4L744.8 376.1L744.7 374.9L745.3 373.7L748.2 371.7ZM772.0 365.4L771.5 366.2L770.4 367.0L769.5 367.1L769.2 366.5L769.6 365.8L771.1 365.3ZM753.8 345.0L754.1 346.1L752.6 347.8L751.7 348.8L750.6 348.2L751.2 347.0L752.7 345.4ZM760.7 351.1L760.7 353.3L759.2 355.1L758.0 356.5L757.3 355.6L757.2 354.3L759.2 351.4ZM747.7 352.9L747.1 353.6L744.9 354.1L743.4 353.8L743.4 352.5L745.0 351.9L747.0 352.0ZM765.4 356.0L765.3 356.6L764.9 357.3L763.6 358.3L763.6 357.3L763.9 356.7L764.8 355.7ZM754.4 368.3L753.2 369.4L751.7 370.8L748.4 371.2L749.5 369.8L751.0 369.0L753.2 368.1ZM755.3 375.7L755.8 376.8L754.4 378.5L752.5 379.4L751.8 378.4L752.6 377.0L754.7 375.5ZM775.7 355.8L775.5 356.3L774.0 357.3L772.6 356.2L773.1 355.4L773.8 354.7L775.4 354.3ZM765.8 378.1L765.4 380.2L763.8 382.2L762.6 383.0L761.8 382.7L761.5 381.6L764.5 378.5ZM772.2 352.6L771.2 353.8L769.4 354.8L765.8 354.4L767.0 353.0L768.5 351.9L771.9 351.4ZM761.4 377.9L761.6 378.7L760.8 380.4L758.8 382.5L758.6 381.8L759.4 379.8L760.2 378.4ZM756.5 365.3L756.1 366.2L755.0 366.6L753.9 366.7L754.0 366.2L754.6 365.6L755.9 365.2ZM755.6 356.8L756.0 358.1L754.2 359.3L751.7 360.1L751.5 358.9L752.2 358.0L754.7 356.3ZM765.5 357.8L764.7 359.1L762.5 359.2L761.4 359.3L761.3 358.1L763.1 356.9L764.2 357.0ZM749.5 354.2L749.3 355.0L748.2 355.4L745.8 355.7L746.2 355.0L746.9 354.4L749.1 353.7ZM754.9 372.9L754.1 374.0L751.9 375.6L749.6 375.8L748.4 375.5L749.7 374.0L753.4 372.3ZM752.1 347.8L751.9 348.8L751.2 349.6L750.7 350.3L750.4 349.7L750.2 349.1L751.4 348.1ZM766.6 361.0L766.4 361.8L765.3 362.7L764.2 363.2L764.3 362.6L764.3 362.0L765.7 361.4ZM853.9 232.6L853.7 233.4L853.5 234.3L852.9 234.9L852.6 234.7L852.8 233.9L853.2 233.1ZM857.2 277.6L856.7 278.8L855.3 280.1L853.0 280.4L853.5 279.3L854.2 278.7L856.3 277.3ZM852.2 277.9L852.9 279.0L852.1 280.6L850.7 281.5L849.8 281.5L850.4 279.2L851.5 278.2ZM852.9 255.8L853.1 256.4L852.4 256.8L851.5 256.9L851.3 256.6L851.7 255.6L852.7 255.4ZM848.2 224.4L848.2 225.2L846.3 225.7L844.9 225.4L844.6 225.0L845.5 224.5L847.1 224.1ZM857.6 254.1L857.5 254.9L857.1 256.1L856.1 257.4L855.3 257.3L855.6 255.9L856.8 254.0ZM855.9 228.4L856.0 229.5L855.0 231.9L853.8 232.3L853.3 231.6L853.6 230.5L854.3 229.8ZM855.9 230.3L855.4 231.6L853.4 232.0L851.9 231.8L852.4 230.9L853.6 229.8L854.7 230.1ZM857.1 255.8L856.8 257.1L854.8 257.6L852.6 258.3L851.0 257.6L853.7 256.1L856.3 255.5ZM841.8 248.8L841.3 249.3L840.2 249.9L838.9 250.2L838.7 249.4L839.7 249.0L841.6 248.3ZM849.8 279.8L849.7 280.7L848.9 281.6L848.3 281.8L847.6 281.2L848.3 280.2L849.3 280.0ZM845.9 233.0L845.9 233.8L845.0 234.7L843.4 234.6L843.4 233.9L843.2 233.2L846.1 232.0ZM859.3 267.1L858.2 268.2L857.1 269.3L855.2 270.1L855.8 269.0L856.4 268.1L857.9 266.9ZM851.2 250.6L851.0 251.1L849.9 251.4L849.1 251.4L848.6 251.1L849.4 250.5L850.7 250.4ZM843.8 255.5L842.6 256.8L841.6 257.7L838.6 258.3L838.8 257.2L840.6 256.2L842.3 255.3ZM842.0 250.6L842.0 251.8L842.2 252.6L841.2 253.4L840.2 253.0L840.8 251.8L841.4 250.7ZM837.6 280.4L837.7 280.8L836.4 281.8L835.6 282.1L834.9 282.0L836.0 281.0L836.8 280.2ZM849.7 231.8L850.3 231.9L849.3 233.6L848.7 234.1L848.4 233.8L847.9 233.3L849.2 231.9ZM839.4 223.2L839.4 223.7L838.9 224.6L838.2 225.6L837.7 225.0L837.8 223.7L838.8 223.2ZM851.7 263.9L851.6 265.0L849.6 265.5L848.4 265.7L848.7 265.0L849.7 264.0L850.4 264.0ZM837.1 279.1L836.8 279.4L835.5 279.7L834.8 279.8L834.3 279.3L835.5 278.9L836.4 278.9ZM849.0 256.3L849.1 257.3L848.0 259.0L847.3 259.2L847.1 258.9L847.2 258.2L848.0 257.0ZM805.9 215.4L805.0 215.2L804.8 214.6L805.0 213.8L805.5 213.7L806.1 214.2L806.5 214.6ZM796.2 220.1L795.1 218.9L795.2 217.8L796.6 216.8L797.5 216.7L797.3 218.7L796.8 219.7ZM784.3 228.0L783.9 227.5L783.3 225.7L783.9 224.9L784.8 225.2L785.0 226.1L785.1 228.3ZM793.5 225.9L791.8 226.2L789.8 225.6L788.3 224.8L789.6 223.7L790.8 223.4L791.8 224.2ZM782.0 225.1L782.0 224.1L782.0 223.4L782.7 222.9L783.1 223.3L783.4 224.1L782.8 224.8ZM792.3 228.1L791.3 228.1L791.3 226.9L791.9 225.8L793.1 225.8L793.6 227.0L793.2 227.9ZM759.6 374.4L759.1 374.8L758.7 374.1L758.0 373.3L758.7 373.0L759.4 373.4L760.0 374.0ZM769.3 348.1L769.2 347.8L769.8 347.4L770.6 347.8L770.5 348.3L770.0 348.6L769.6 348.4ZM772.4 364.7L771.3 362.7L770.6 361.2L770.8 357.5L772.5 357.8L773.3 360.6L773.8 362.8ZM774.6 361.7L773.2 361.5L772.5 360.3L772.2 359.2L773.3 358.9L774.1 358.8L775.3 360.7ZM772.9 363.2L771.3 362.3L770.3 361.6L769.7 359.9L770.8 359.3L772.5 360.1L773.0 361.4ZM774.6 373.2L774.3 372.8L774.4 372.3L775.1 371.4L775.6 371.9L775.3 372.8L775.0 373.1ZM778.1 354.4L778.0 355.1L775.2 354.9L773.5 354.3L774.3 353.7L774.8 353.0L777.1 353.6ZM775.2 366.5L775.2 365.7L775.7 365.1L776.5 364.5L776.8 364.9L776.5 365.6L776.2 366.3ZM774.1 371.7L773.7 371.2L774.4 370.5L775.4 370.2L776.1 370.8L775.6 371.8L774.9 372.0ZM762.5 374.5L763.2 373.1L764.3 372.3L765.9 372.9L766.1 373.9L765.3 374.7L763.8 375.3ZM770.9 364.1L769.9 363.5L769.8 362.2L769.9 361.3L771.4 361.1L772.3 361.4L772.3 363.2ZM769.2 357.4L768.9 357.7L767.7 357.8L767.1 357.3L767.1 356.6L768.0 356.7L769.4 356.9ZM762.6 375.3L762.6 376.2L760.7 376.0L760.1 375.4L760.3 374.9L761.4 374.4L762.6 374.6ZM767.7 364.4L766.4 364.4L767.2 362.2L767.7 360.8L769.4 360.6L769.0 363.0L768.7 365.1ZM772.1 380.3L772.2 379.1L772.8 377.8L773.9 377.6L774.7 377.7L774.2 379.3L773.5 379.7ZM763.9 368.6L763.6 369.1L762.7 368.6L762.2 368.4L762.4 367.7L763.3 368.0L763.7 368.2ZM774.1 377.1L775.1 376.2L776.2 376.1L777.3 376.5L777.0 377.0L776.8 377.6L775.1 377.6ZM765.5 371.1L765.0 370.6L765.3 369.7L765.9 369.6L766.4 370.1L766.7 370.6L765.9 371.4ZM761.9 381.1L760.2 381.3L758.9 379.3L759.6 378.3L760.2 377.5L761.5 378.0L761.8 380.0ZM765.9 365.2L765.2 365.1L765.7 364.2L766.0 363.8L766.3 364.0L766.4 364.6L766.1 365.2ZM764.0 379.4L763.3 379.3L763.4 378.7L763.4 378.0L764.0 378.2L764.4 378.5L764.4 379.0ZM770.8 371.0L770.8 370.7L771.2 370.2L771.8 370.1L772.1 370.7L771.9 371.3L771.3 371.3ZM560.6 473.0L559.5 472.9L558.8 472.1L559.5 471.0L560.5 471.1L561.6 471.9L561.0 472.9ZM566.8 485.5L565.8 486.2L564.8 486.1L564.5 484.9L564.5 483.5L565.8 483.8L567.0 484.9ZM565.4 487.6L564.6 488.1L563.6 487.6L563.5 486.9L564.0 486.6L564.5 486.3L565.2 487.2ZM559.1 474.6L558.0 474.7L556.8 473.3L556.4 472.1L557.4 472.1L558.9 472.3L559.8 473.7ZM552.3 486.0L551.7 486.0L551.9 483.6L552.3 482.0L553.5 481.7L554.0 483.7L553.2 485.8ZM655.0 409.6L654.2 409.1L654.3 407.9L654.6 407.2L655.8 407.7L656.0 408.6L655.5 409.6ZM646.8 403.4L645.8 403.3L644.5 402.4L643.9 401.2L644.9 400.6L646.1 400.9L647.0 402.4ZM658.0 417.3L657.4 416.9L657.2 415.8L657.2 414.9L657.5 414.3L658.1 415.7L658.3 416.7ZM653.4 406.3L652.8 405.3L653.5 404.3L654.6 404.7L655.3 405.1L655.0 406.3L654.0 406.5ZM657.7 402.4L657.1 402.8L656.8 403.0L656.1 402.5L655.9 401.9L656.9 401.8L657.6 402.0ZM649.4 420.6L648.3 420.2L647.9 419.7L647.8 419.0L648.4 418.6L648.9 419.0L649.1 419.9ZM653.0 408.8L653.1 407.9L653.8 407.0L655.3 407.2L656.0 407.7L655.1 409.1L653.6 409.2ZM646.8 404.7L645.2 405.2L643.9 404.3L643.2 403.6L643.4 402.3L645.5 402.3L647.4 403.7ZM676.1 426.5L675.7 426.5L675.0 426.5L674.6 426.0L674.8 425.4L675.5 425.5L676.1 425.7ZM645.5 408.7L644.9 408.1L645.1 407.3L645.8 406.6L646.5 406.4L646.6 407.7L645.9 408.3ZM658.2 404.1L658.2 404.8L657.4 404.7L656.5 404.2L656.0 403.9L657.4 403.6L658.3 403.6ZM654.4 402.3L654.7 401.5L655.7 401.0L657.0 401.8L657.3 402.1L656.7 402.9L654.7 402.8ZM675.2 409.4L674.4 408.7L674.3 408.2L674.4 407.3L675.2 407.1L675.3 407.8L675.7 408.8ZM659.9 423.7L658.5 422.7L657.7 421.2L658.0 419.7L659.0 419.2L659.9 420.5L661.0 422.5ZM650.5 424.1L650.0 423.7L649.9 423.2L650.0 422.4L650.6 422.6L650.9 423.0L651.0 423.9ZM653.9 415.0L652.5 415.0L651.1 413.5L649.2 411.6L650.9 411.1L652.3 412.0L655.3 414.5ZM896.2 484.3L895.7 484.9L893.8 484.3L893.1 483.8L894.0 483.1L894.4 482.7L896.2 483.6ZM887.8 502.4L887.0 501.1L886.8 499.2L887.8 498.3L889.0 498.6L889.5 499.9L888.9 501.2ZM891.0 492.0L889.2 492.6L887.1 490.3L887.6 488.8L888.0 487.7L890.2 489.3L891.0 490.8ZM888.5 493.3L887.6 493.3L886.5 492.3L885.6 489.9L886.8 489.4L887.6 490.5L889.7 493.2ZM897.6 482.6L896.9 483.1L896.0 480.9L896.5 480.2L897.3 480.4L897.9 480.8L898.2 482.4ZM887.7 490.8L886.6 490.3L886.2 489.6L887.1 488.2L887.8 487.8L888.7 488.7L888.8 489.9ZM894.6 495.5L892.5 495.7L891.8 494.2L891.7 492.9L891.9 491.5L893.7 493.2L894.5 494.0ZM892.0 500.0L891.5 499.7L892.0 498.9L892.8 498.5L893.0 498.9L892.7 499.7L892.3 500.1ZM895.1 484.1L892.8 483.2L892.0 482.7L891.5 481.1L893.1 479.7L894.7 480.4L894.9 482.3ZM888.0 494.8L887.2 494.2L887.2 493.0L888.0 492.3L888.8 492.2L889.3 492.9L889.4 493.9ZM802.7 305.3L803.0 305.6L802.0 307.4L800.7 308.1L800.3 307.7L800.8 306.8L801.7 305.7ZM819.5 288.8L817.9 290.9L816.3 293.2L812.2 294.2L811.7 293.0L814.1 290.2L816.3 289.7ZM815.3 311.6L816.0 313.6L814.7 317.4L813.1 318.1L811.8 318.5L812.3 314.9L813.2 313.4ZM825.6 259.9L825.8 261.1L824.8 263.2L823.8 263.7L822.5 263.8L823.4 261.4L825.0 259.6ZM829.9 253.4L828.8 254.8L827.3 255.6L826.0 255.8L825.5 254.7L826.6 253.4L828.9 253.2ZM817.9 282.8L817.0 284.8L814.4 286.9L811.6 287.7L811.9 286.4L812.1 285.3L816.0 282.5ZM822.5 267.5L822.5 269.0L821.8 270.4L819.8 271.8L819.3 271.2L820.4 269.6L821.3 267.9ZM826.4 252.0L827.0 253.5L826.0 255.9L824.0 257.0L822.9 255.9L821.9 254.7L824.4 251.6ZM813.6 285.8L811.8 287.4L808.4 288.8L807.1 288.4L806.7 286.6L808.3 285.5L811.0 285.2ZM809.8 307.4L809.4 309.2L804.9 312.1L802.8 311.5L802.4 309.7L804.1 307.4L806.9 306.6ZM812.4 268.6L810.7 270.7L808.4 272.5L805.8 273.4L806.0 272.3L808.3 270.2L810.3 268.8ZM817.4 284.5L817.2 286.1L815.4 287.5L813.4 287.6L812.8 286.0L813.4 284.5L816.3 284.1ZM832.4 276.0L832.3 276.9L830.3 278.5L829.7 278.4L829.2 277.8L829.6 277.0L830.9 276.4ZM818.5 315.4L817.0 317.5L813.8 319.7L811.7 319.5L811.7 318.6L813.1 317.4L816.0 315.8ZM805.3 305.6L804.7 307.3L803.2 309.0L801.8 309.8L800.9 309.7L802.2 307.6L803.6 305.6ZM827.8 255.7L825.7 257.6L823.6 260.3L817.8 263.0L819.0 260.6L819.9 258.5L826.3 254.4ZM805.9 265.9L806.4 267.1L805.1 268.8L804.2 269.6L803.4 268.9L803.1 267.4L805.1 265.7ZM831.3 254.4L829.8 257.6L828.2 258.5L825.3 258.5L824.4 257.1L825.0 255.1L827.8 254.3ZM833.3 269.1L830.8 271.3L826.5 275.1L824.0 275.8L824.4 273.9L827.2 271.2L830.0 269.8ZM829.8 259.9L830.5 261.0L827.7 262.7L825.1 263.7L824.0 263.4L826.3 260.2L828.5 259.7ZM810.5 316.3L808.2 318.1L806.5 319.4L804.3 319.3L803.0 318.3L805.3 316.6L807.5 316.2ZM833.9 263.7L833.1 265.0L830.5 265.9L829.6 265.5L828.8 264.6L829.9 263.8L831.8 263.5ZM822.6 262.8L822.3 263.9L820.7 264.3L818.7 263.9L818.7 262.9L820.1 262.0L821.6 262.3ZM820.4 263.7L818.2 266.3L814.9 267.7L811.2 267.6L811.7 266.5L813.8 264.8L816.7 263.8ZM805.7 309.2L805.1 310.7L802.5 312.0L800.1 312.5L798.1 312.4L801.7 309.9L803.2 309.4ZM812.8 274.6L813.1 276.1L810.8 278.6L806.4 281.1L806.6 279.1L808.1 276.5L810.2 273.6ZM828.4 313.2L828.5 313.9L825.9 315.4L824.1 315.3L823.1 314.9L824.8 313.6L827.3 312.2ZM808.4 284.9L808.8 286.2L806.9 287.5L804.9 288.2L804.0 287.1L805.2 284.8L806.9 284.6ZM805.9 270.1L806.9 271.3L805.5 273.2L803.0 275.0L801.9 274.2L803.2 271.4L804.4 270.8ZM826.2 254.3L826.2 255.6L825.1 258.6L823.1 260.1L822.7 259.2L823.1 256.6L824.0 254.1ZM812.8 291.8L813.1 294.2L811.1 296.6L808.8 299.1L808.2 298.5L808.3 296.8L810.5 294.2ZM824.6 274.1L825.4 274.7L823.5 276.7L820.7 278.4L820.3 276.7L821.1 274.6L823.2 273.3ZM831.6 285.9L831.4 286.9L829.7 288.1L827.5 288.2L826.6 287.5L828.3 286.5L830.2 285.9ZM816.4 260.8L816.0 261.7L814.9 262.2L812.4 262.5L813.4 261.3L813.9 260.7L815.8 260.0ZM818.2 285.9L817.9 287.5L813.9 291.2L811.4 292.1L809.3 290.6L812.6 287.9L816.8 285.3ZM834.3 315.9L833.8 317.4L832.2 319.3L831.4 319.9L830.2 319.7L831.5 318.1L832.8 316.4ZM831.1 262.4L830.1 265.9L828.3 268.1L824.8 270.5L822.7 270.9L825.4 267.3L828.9 263.2ZM814.5 283.2L814.7 285.3L813.2 287.5L809.9 289.2L808.9 288.7L810.9 286.0L812.4 283.6ZM837.0 306.9L833.4 309.3L829.9 310.5L826.5 311.9L825.0 310.1L829.4 308.1L833.0 305.9ZM831.2 280.2L831.1 281.7L829.0 282.9L826.8 282.7L826.6 281.0L828.5 279.1L831.0 278.9ZM816.6 271.9L816.6 274.5L814.3 277.8L812.8 278.8L811.8 278.6L812.0 276.3L814.9 272.0ZM829.7 314.0L829.4 315.4L827.1 317.8L824.2 319.2L823.7 317.4L826.1 315.1L828.3 313.6ZM816.9 280.0L816.7 281.4L815.4 284.5L814.3 285.8L813.4 285.5L814.3 283.1L815.0 281.0ZM812.4 255.0L811.5 256.4L810.9 257.0L809.0 257.6L808.7 256.9L809.2 255.8L811.3 255.0ZM819.6 291.6L820.2 293.2L818.3 296.9L816.1 297.2L813.7 297.7L816.2 293.8L817.2 292.3ZM833.1 304.0L833.2 304.9L831.4 308.2L829.7 309.1L828.8 308.8L829.3 306.8L832.4 303.4ZM818.3 287.3L817.5 290.1L816.8 292.0L814.3 294.9L812.7 295.0L814.6 290.7L817.0 287.6ZM824.7 268.5L824.7 269.7L824.6 270.6L823.3 271.6L822.8 271.4L822.8 269.9L823.6 268.9ZM828.2 257.4L828.1 259.2L824.4 260.7L821.9 260.4L822.2 258.7L823.4 257.6L825.2 257.0ZM820.5 256.4L819.4 259.7L816.8 262.9L812.5 264.6L811.3 263.4L813.9 259.9L817.5 256.1ZM834.9 303.1L835.2 303.9L832.4 306.5L831.3 306.9L830.9 305.3L831.5 304.2L832.5 302.8ZM828.4 272.9L828.2 274.0L828.1 274.9L827.0 275.4L826.4 275.3L826.8 273.9L827.7 272.6ZM815.3 254.4L815.3 255.8L814.8 256.5L812.5 258.8L812.2 257.5L812.2 255.8L813.7 254.1ZM824.9 269.6L824.5 271.0L822.8 272.3L821.7 272.3L820.4 272.2L822.0 270.3L824.0 269.7ZM829.3 268.6L828.1 270.7L825.8 272.0L822.6 272.9L822.3 271.2L823.7 269.7L827.7 268.0ZM832.3 296.4L832.3 298.0L831.0 298.7L829.3 298.9L828.2 298.4L829.4 296.9L830.7 296.2ZM824.6 258.9L824.6 260.7L823.2 262.2L820.7 262.7L820.1 262.2L821.2 260.7L823.5 259.2ZM820.1 278.8L820.5 280.4L818.6 284.4L815.2 286.8L814.0 286.1L813.9 283.5L818.0 279.3ZM813.2 312.8L811.8 315.4L810.5 317.1L807.5 317.3L808.0 315.7L808.9 313.9L810.5 313.7ZM813.2 293.5L811.9 294.8L809.9 295.3L809.0 295.4L807.9 294.8L809.2 294.1L811.9 293.4ZM816.1 287.1L815.6 289.6L814.3 291.4L813.0 291.8L811.1 292.4L812.3 289.9L814.3 288.0ZM822.5 282.7L822.1 283.8L820.2 284.7L818.6 285.5L818.4 284.8L819.8 283.3L821.2 282.5ZM819.9 276.7L820.2 277.2L819.0 279.4L816.6 281.3L816.1 280.3L817.0 277.9L818.7 276.2ZM831.3 276.5L829.1 278.4L826.5 279.0L823.4 279.6L823.8 278.3L824.6 277.1L827.9 276.7ZM820.7 255.7L819.6 256.8L817.7 258.4L816.8 258.0L815.7 256.6L817.8 255.0L819.5 255.4ZM809.8 280.8L809.1 281.4L807.7 281.9L806.1 281.9L805.8 281.2L807.2 280.5L809.2 280.0ZM833.9 288.5L835.5 289.9L833.2 292.6L831.7 294.9L830.5 293.0L830.7 289.9L833.3 286.9ZM831.1 310.3L830.7 312.4L828.9 316.6L826.1 317.7L824.4 315.5L825.9 313.4L829.0 309.9ZM831.5 258.5L832.5 259.8L831.2 262.6L828.9 264.0L828.5 262.2L828.4 260.3L830.4 259.2ZM807.9 266.9L807.2 268.9L805.3 270.1L802.5 271.3L801.6 270.4L802.6 268.4L805.5 267.5ZM816.9 309.8L817.4 311.6L816.2 315.4L813.5 316.3L812.1 315.9L812.6 313.7L815.0 310.6ZM820.4 284.0L820.6 284.5L820.0 286.2L818.8 287.4L818.8 286.1L818.7 285.6L820.0 283.7ZM808.0 286.2L807.3 287.2L806.2 288.5L804.3 288.4L804.0 287.6L804.7 286.2L806.5 285.4ZM811.7 282.9L812.3 285.8L811.5 287.0L810.2 288.4L809.1 288.5L808.6 286.8L810.4 283.5ZM832.7 275.8L831.9 277.7L829.8 279.1L826.5 279.8L826.2 278.1L828.1 276.3L830.5 275.6ZM852.8 211.0L852.6 212.5L851.6 213.8L850.3 214.1L849.1 214.1L850.5 212.3L851.8 211.4ZM838.3 239.1L837.1 240.0L834.2 241.6L832.3 241.3L832.4 240.4L833.8 239.3L835.8 238.7ZM844.4 233.7L845.5 235.2L841.0 241.7L838.4 242.9L836.2 243.6L837.1 239.9L841.3 235.8ZM847.3 246.3L847.4 247.3L845.3 249.5L843.2 250.5L843.1 249.6L844.6 247.6L846.4 246.2ZM820.6 233.8L820.9 235.5L818.5 237.3L816.9 238.4L816.2 237.1L817.4 235.3L819.1 233.4ZM848.9 214.8L848.9 216.6L844.7 219.0L840.9 219.9L841.5 217.9L843.9 215.6L846.9 215.0ZM823.7 233.9L823.4 236.1L818.8 239.4L816.7 239.6L814.9 238.8L817.4 236.4L821.0 234.1ZM859.7 236.0L858.7 237.8L855.7 239.6L851.6 240.6L848.5 240.9L854.3 237.0L856.6 236.0ZM832.2 236.4L831.2 238.9L830.3 243.1L828.4 245.3L827.4 243.7L827.7 241.8L829.6 238.1ZM837.0 220.9L838.7 221.8L833.3 227.6L829.0 231.0L830.0 227.3L830.8 225.0L835.0 221.2ZM832.7 224.4L832.7 226.2L831.7 229.0L829.7 229.9L827.9 229.3L828.4 227.7L830.7 225.8ZM837.6 235.3L837.6 236.6L835.6 239.5L833.4 240.7L831.6 241.3L833.4 237.3L836.0 235.0ZM842.0 241.8L842.2 242.4L841.1 243.7L840.1 244.7L839.9 243.9L840.0 242.9L840.8 242.4ZM854.6 231.3L851.6 233.8L848.7 235.1L846.7 235.9L844.8 235.2L848.8 231.7L851.0 231.2ZM849.4 217.5L849.9 218.0L848.8 219.6L847.6 220.6L847.1 219.7L847.3 218.7L848.6 217.6ZM841.7 231.4L842.2 231.9L841.5 233.6L840.1 235.1L838.3 235.4L839.3 232.6L840.9 230.7ZM843.4 225.1L843.2 226.1L841.9 227.1L840.5 226.4L840.2 225.5L841.2 224.2L843.1 224.2ZM847.8 237.8L847.9 238.5L847.4 239.8L846.7 240.3L845.8 240.7L846.1 239.6L846.9 238.0ZM847.8 223.6L847.7 225.0L846.2 227.1L843.2 227.9L840.7 228.1L843.6 224.6L846.1 223.0ZM841.5 227.7L841.5 228.8L838.1 231.9L836.5 232.6L835.9 231.0L837.1 229.3L840.2 226.8ZM848.7 232.3L849.7 232.8L847.2 235.8L845.1 235.8L843.6 235.7L845.4 232.8L846.7 232.2ZM845.7 237.7L846.0 238.2L844.8 239.5L844.1 239.5L843.8 239.3L844.0 238.7L845.4 237.4ZM845.9 245.2L844.1 246.7L842.2 248.1L839.8 248.4L840.7 246.8L841.7 244.5L843.1 244.5ZM851.4 232.6L852.1 234.5L851.5 237.2L848.8 240.2L848.4 238.5L848.2 236.1L849.9 233.0ZM849.0 242.3L848.5 243.8L846.0 245.4L842.1 245.8L842.3 243.9L843.6 242.3L846.2 241.7ZM841.8 215.2L841.8 217.4L840.8 221.0L836.0 223.9L835.5 221.4L837.7 217.4L839.8 216.1ZM846.4 244.3L844.6 248.8L839.5 253.7L836.3 254.9L835.6 253.4L836.4 250.9L842.8 245.6ZM851.8 232.7L851.1 235.9L849.9 240.1L848.1 243.6L847.3 242.3L846.8 239.9L849.8 234.4ZM850.9 214.3L851.1 216.7L846.8 219.3L842.9 220.2L843.1 218.5L845.9 215.4L848.6 214.5ZM825.7 230.6L826.3 231.0L825.1 232.8L823.6 233.5L823.0 233.4L823.9 231.5L824.9 231.0ZM826.1 228.2L825.2 229.4L823.7 231.1L821.1 231.0L820.0 230.1L822.7 228.5L824.4 227.7ZM848.5 237.7L847.7 238.8L845.3 239.6L843.6 239.7L843.7 239.1L845.5 238.1L847.3 237.4ZM839.1 240.2L839.1 241.6L837.8 244.9L835.4 248.1L834.8 246.4L835.6 243.4L836.9 241.0ZM854.5 236.3L853.8 237.3L850.9 238.6L849.1 238.2L847.1 237.6L850.0 235.8L855.5 234.9ZM828.1 228.3L826.7 229.6L824.3 230.3L822.2 230.8L822.7 229.1L823.2 228.1L825.6 227.8ZM842.2 228.5L841.7 229.9L840.4 232.5L838.9 232.8L837.1 233.7L838.4 230.8L840.3 228.9ZM843.9 241.4L842.1 243.8L839.8 245.3L836.3 245.8L836.6 243.9L838.5 241.2L842.7 240.1ZM839.3 218.3L840.0 219.8L838.7 221.5L837.6 222.1L836.0 222.0L837.0 220.1L838.2 218.3ZM839.5 245.5L840.1 246.4L838.0 248.6L836.5 248.7L836.0 248.3L837.1 246.3L838.8 244.9ZM846.4 229.9L845.6 231.7L844.8 233.1L842.2 234.5L842.0 233.7L842.9 231.8L845.4 229.8ZM829.2 225.8L829.1 226.3L828.3 226.8L827.3 226.8L826.9 226.7L827.6 225.9L828.7 225.3ZM840.0 233.0L840.4 233.6L838.3 234.2L836.1 234.4L836.7 233.8L838.1 233.0L839.7 232.7ZM761.1 377.0L761.4 378.9L760.2 379.9L757.9 381.2L758.0 380.0L758.0 378.7L760.1 377.0ZM783.1 333.6L780.9 336.3L776.3 337.3L773.5 337.3L772.9 335.9L776.2 334.4L778.7 333.6ZM781.5 323.9L782.0 325.6L780.6 327.9L778.0 328.9L776.6 327.7L778.2 325.2L779.3 324.4ZM764.6 368.1L763.6 369.5L758.8 372.9L757.1 372.7L756.8 371.9L758.4 370.2L762.1 368.0ZM760.2 361.2L760.4 362.8L759.0 364.5L756.7 365.9L756.2 364.9L757.3 363.0L759.4 360.8ZM763.8 372.0L764.3 373.6L763.1 376.0L760.0 378.4L759.2 376.0L760.4 374.1L761.7 371.8ZM741.8 341.1L741.8 342.4L741.0 343.9L739.2 344.4L738.7 343.6L739.6 342.3L740.3 342.1ZM766.1 372.9L764.0 374.2L761.6 375.5L758.5 375.5L758.1 374.1L759.8 372.7L763.7 372.0ZM768.2 337.6L769.4 338.8L764.0 340.2L760.3 339.9L761.2 338.7L763.1 337.8L767.2 337.1ZM749.2 341.3L748.1 342.5L745.7 342.7L742.5 342.8L743.0 341.5L744.4 340.9L748.3 340.1ZM746.1 342.3L745.1 344.5L741.2 345.9L736.5 345.6L737.1 344.6L739.0 342.6L742.9 342.1ZM783.2 322.0L782.4 323.0L781.4 323.6L780.6 324.1L780.2 323.1L780.9 322.2L781.9 321.9ZM784.3 330.4L782.4 331.6L780.6 332.4L775.1 333.0L776.1 331.6L778.6 329.9L782.7 328.9ZM753.0 357.2L752.6 358.1L750.5 358.6L747.4 358.9L747.6 357.7L750.1 356.5L753.0 356.1ZM777.6 323.9L777.8 324.7L775.1 327.3L773.6 327.6L772.9 326.6L774.1 325.2L776.5 324.0ZM774.3 331.5L772.8 332.7L771.8 333.2L769.1 333.0L768.4 332.4L770.2 331.2L772.8 330.7ZM790.0 332.7L788.5 336.1L787.6 338.6L784.7 339.8L783.6 339.5L784.6 336.3L786.8 333.8ZM755.1 341.1L754.1 342.3L752.1 343.5L751.1 343.2L750.7 342.4L751.9 341.2L753.3 341.0ZM754.2 353.8L752.8 355.6L748.9 356.4L745.2 356.5L745.4 354.9L746.9 353.1L751.6 352.9ZM767.1 338.4L767.1 340.1L764.2 342.2L762.2 343.1L761.0 342.8L763.3 340.3L765.9 338.3ZM749.7 370.4L750.6 372.3L747.9 374.5L746.5 375.2L744.8 374.5L745.3 372.3L748.1 370.7ZM767.2 365.0L766.7 366.6L764.0 368.6L760.9 369.3L759.6 368.9L761.5 365.8L763.7 365.3ZM738.7 352.6L738.6 353.3L737.6 353.9L736.3 354.3L736.7 353.5L736.7 353.1L738.1 352.6ZM758.1 367.6L756.7 369.4L754.3 370.2L750.5 370.4L750.4 369.3L753.5 368.0L755.0 367.6ZM753.8 356.3L753.0 357.7L750.8 358.2L747.8 357.9L746.3 357.1L749.5 356.1L752.7 355.6ZM778.0 338.4L777.4 339.2L776.2 339.4L775.4 339.5L775.3 338.7L776.0 337.9L777.1 338.2ZM744.6 368.4L744.1 369.5L743.2 370.2L742.1 370.0L741.5 369.5L742.4 368.4L743.3 368.4ZM789.3 334.7L787.2 337.8L783.2 340.6L780.1 340.0L780.0 338.4L781.3 336.5L786.3 335.1ZM757.0 349.8L757.2 351.8L754.6 353.7L753.2 354.6L752.7 353.8L753.4 351.8L754.8 350.7ZM740.2 352.7L739.3 355.3L737.6 357.2L734.0 359.6L733.9 358.6L735.7 356.2L739.3 352.5ZM758.4 340.7L757.2 342.3L754.1 343.2L751.8 343.9L751.2 342.0L754.3 340.1L756.5 339.0ZM752.4 346.7L750.9 348.2L749.3 348.9L747.0 349.3L747.8 348.2L749.0 347.5L751.7 346.4ZM779.4 343.9L778.6 345.5L777.0 346.9L775.1 346.8L774.8 345.9L775.3 345.3L777.2 343.5ZM753.6 375.9L753.4 377.6L750.2 379.1L748.0 378.8L747.8 377.2L748.6 375.3L751.4 374.7ZM760.9 367.5L759.4 369.4L756.8 371.4L752.6 372.1L753.4 369.4L756.0 367.7L760.0 365.6ZM759.9 363.0L759.2 363.8L758.4 364.2L756.9 363.7L756.9 363.0L758.4 362.3L759.2 362.3ZM797.1 332.5L796.2 334.7L794.7 336.2L793.3 336.4L790.9 337.2L793.2 333.7L795.0 332.6ZM747.1 350.2L745.8 352.7L744.6 355.2L742.5 355.7L741.1 356.2L743.3 352.7L745.1 350.8ZM788.9 323.7L789.0 326.9L787.7 328.6L784.4 330.2L783.0 330.3L784.7 326.9L786.6 325.3ZM751.9 347.1L750.5 349.8L746.2 351.6L742.1 352.4L742.0 350.4L742.4 348.7L747.7 347.8ZM790.0 329.5L789.3 332.3L786.3 336.0L784.4 338.0L782.4 338.3L784.4 334.0L786.6 331.5ZM782.5 321.1L780.2 322.8L777.0 324.8L774.1 325.3L774.1 322.9L775.8 321.1L779.1 319.6ZM745.3 365.9L745.0 367.0L743.8 368.1L742.0 369.2L742.0 368.5L743.0 367.2L744.1 366.2ZM779.6 339.6L779.7 340.4L779.0 340.9L777.6 341.8L777.2 341.6L777.9 340.3L778.9 339.8ZM790.1 332.3L789.6 334.2L788.2 336.5L784.9 337.5L785.1 335.8L786.1 333.8L788.6 332.7ZM785.1 338.4L783.7 340.4L780.8 341.9L777.2 342.7L777.5 340.3L779.5 338.0L783.1 336.9ZM775.2 343.5L775.1 346.7L773.1 349.2L771.0 349.8L768.9 349.4L770.8 346.6L773.3 344.5ZM760.7 358.9L759.2 362.3L758.3 363.7L755.3 365.7L754.4 365.1L755.8 362.1L758.0 359.9ZM743.3 353.0L743.8 354.4L742.0 356.5L740.9 356.9L740.6 356.5L741.0 354.7L742.0 353.8ZM789.6 339.4L788.6 340.4L787.4 340.9L785.3 341.3L785.5 340.7L786.4 339.9L788.3 339.7ZM754.7 363.2L755.1 364.5L752.8 368.2L749.8 369.8L748.0 369.6L750.2 367.0L752.9 363.8ZM775.3 340.0L775.6 340.9L774.3 342.0L773.4 342.8L772.3 342.5L773.1 341.2L774.7 340.0ZM761.1 335.7L761.0 336.4L759.7 337.2L758.9 337.7L758.5 337.2L759.3 336.5L760.3 335.8ZM750.8 366.2L750.7 369.7L748.8 372.2L746.4 374.2L745.0 373.3L746.0 371.1L748.1 368.0ZM757.5 341.0L757.3 342.9L754.7 344.6L752.5 345.9L751.2 344.9L753.5 342.5L755.7 341.5ZM773.5 342.9L772.7 343.3L771.0 343.7L770.0 343.2L769.5 342.4L771.1 341.5L773.1 341.9ZM765.3 369.5L765.2 370.3L764.0 370.9L762.9 370.6L762.5 370.3L763.7 369.5L765.0 369.3ZM800.3 331.6L799.1 333.7L797.4 334.3L794.4 334.8L794.4 334.2L796.3 332.5L798.7 331.5ZM778.8 336.1L778.4 337.3L777.7 338.3L776.8 338.8L775.9 338.7L776.5 337.2L777.5 336.0ZM796.4 334.8L796.0 336.2L795.3 337.2L794.1 338.7L793.8 337.6L794.5 336.1L795.2 335.2ZM752.9 356.3L752.2 356.6L751.1 357.3L749.2 357.2L749.3 356.5L750.9 356.1L751.9 355.9ZM753.2 338.9L752.0 340.7L750.5 341.1L748.7 341.3L748.6 339.3L750.5 338.4L752.8 337.9ZM747.5 363.1L748.0 363.6L746.6 365.4L744.8 366.7L744.0 366.1L744.5 364.5L746.0 362.9ZM754.4 370.5L754.7 371.6L753.1 373.1L750.4 373.2L749.9 372.0L751.9 370.1L753.4 369.8ZM766.4 331.9L765.6 335.7L762.2 340.3L756.8 343.8L755.7 342.7L759.6 336.9L761.3 334.3ZM744.1 345.3L744.7 345.5L743.2 347.7L742.3 348.0L742.2 347.6L742.5 346.8L743.4 345.4ZM741.2 351.6L741.3 353.9L739.9 355.3L738.3 356.3L737.4 356.1L738.1 354.6L739.2 352.5ZM770.1 366.0L769.9 367.7L767.1 371.2L764.0 373.8L762.3 372.6L765.0 369.1L768.9 365.4ZM759.9 370.6L758.0 372.0L755.4 373.6L753.4 372.9L752.4 371.9L755.1 370.9L758.0 370.2ZM738.5 363.4L738.4 365.7L737.9 367.2L736.0 367.8L734.1 366.9L735.1 364.3L736.8 363.8ZM783.4 328.4L783.6 329.3L782.7 330.8L782.0 330.9L781.4 330.9L782.0 329.8L782.6 328.6ZM789.6 330.5L789.1 332.0L788.5 333.3L786.3 334.2L785.9 333.4L787.1 331.5L788.3 330.8ZM783.8 325.5L783.4 326.9L782.9 327.7L781.4 328.7L780.7 327.5L781.7 326.1L782.7 325.8ZM790.4 323.9L790.0 325.6L788.4 326.9L786.5 327.2L786.3 326.3L786.6 325.3L788.9 323.9ZM766.7 344.2L766.2 345.4L765.4 345.9L764.4 345.8L763.8 345.6L764.8 344.8L766.0 343.9ZM787.7 338.7L788.2 339.9L787.3 341.7L785.8 343.0L785.3 341.8L785.0 340.4L786.4 338.9ZM786.8 320.0L785.1 323.4L782.6 326.5L778.6 329.8L778.8 327.3L780.6 323.7L783.2 322.2ZM763.8 334.8L762.3 336.5L760.9 337.6L758.7 337.8L758.0 337.3L760.5 335.7L762.1 335.4ZM771.4 332.2L772.4 333.4L770.6 335.4L769.6 335.9L769.1 335.6L768.9 333.5L770.2 332.3ZM757.5 337.8L758.3 338.0L757.4 339.2L756.4 340.0L755.8 339.9L756.5 338.4L757.4 337.3ZM778.7 333.9L778.8 336.2L777.2 338.9L774.8 340.9L773.2 341.8L774.8 338.1L777.1 334.3ZM768.1 340.1L767.7 342.5L766.0 344.7L764.7 345.3L763.8 345.2L763.4 343.8L765.6 341.3ZM760.5 337.2L760.2 339.4L759.2 341.5L757.3 341.3L756.8 340.8L756.8 339.0L758.8 337.2ZM770.8 339.6L770.9 341.4L769.3 344.9L767.2 347.1L764.6 348.0L765.5 344.2L767.9 342.0ZM770.1 341.5L769.0 342.4L768.2 343.0L766.1 342.9L766.0 341.8L766.9 341.2L768.7 341.1ZM781.8 320.8L779.9 322.4L777.5 322.4L774.3 322.3L776.2 321.0L776.9 320.4L779.2 320.2ZM783.7 341.6L783.0 343.0L780.8 344.4L779.2 345.0L779.2 343.7L780.5 343.0L782.3 341.6ZM784.8 332.0L784.8 333.4L780.6 335.4L779.1 335.6L778.6 334.5L779.0 333.6L784.9 330.7ZM769.1 339.2L766.6 341.4L763.4 342.7L761.1 343.5L759.1 342.5L763.6 340.1L767.2 339.2ZM782.4 323.3L783.7 324.4L780.2 328.4L778.0 328.8L775.9 329.0L776.8 326.7L780.5 324.2ZM780.5 324.4L779.6 326.5L777.2 328.4L775.6 328.3L774.4 328.5L776.8 325.9L778.3 324.3ZM790.9 332.3L791.6 333.4L787.0 336.0L784.1 337.6L784.1 336.0L785.8 333.6L788.9 331.9ZM776.1 338.6L776.8 338.9L775.8 341.5L774.6 342.4L773.8 342.7L774.2 340.7L775.6 338.8ZM774.7 337.0L774.3 339.3L770.3 342.9L767.8 344.3L766.3 342.8L768.6 340.6L773.0 337.3ZM772.4 330.6L772.3 331.6L770.8 332.1L769.2 332.6L769.5 331.7L770.4 331.0L772.1 330.1ZM773.8 328.3L773.4 329.1L771.8 329.9L769.9 330.0L769.8 329.5L770.5 328.8L772.6 328.4ZM773.3 337.9L774.5 338.5L771.7 340.9L770.4 340.8L769.3 340.1L769.1 338.9L771.7 337.2ZM788.6 331.7L788.5 333.4L787.4 334.9L785.3 336.0L784.9 335.5L785.3 334.2L787.2 331.7ZM770.7 337.1L770.9 338.6L767.2 339.7L765.9 339.1L765.3 338.2L766.0 336.7L769.2 336.4ZM798.2 327.8L798.0 329.5L795.6 332.2L793.9 333.3L791.5 333.1L793.7 330.4L797.1 327.3ZM787.1 334.9L786.5 337.1L785.5 338.8L784.2 339.9L783.4 339.3L784.3 337.0L785.4 336.4ZM765.5 339.9L765.5 341.7L764.7 343.1L762.9 344.8L761.0 343.9L761.5 342.3L764.7 338.7ZM763.5 336.5L762.7 337.9L762.1 338.9L760.2 340.1L760.1 339.6L760.8 338.4L761.8 337.5ZM784.8 324.0L785.1 325.5L783.2 328.0L781.4 330.4L780.7 329.3L781.6 327.4L783.2 324.9ZM785.3 327.2L783.6 328.6L781.0 330.0L779.5 330.3L778.0 330.4L781.0 328.3L782.9 327.3ZM790.5 325.7L790.0 326.5L789.2 327.1L787.9 327.7L788.2 327.0L788.7 326.3L789.4 325.8ZM766.6 337.3L765.0 338.5L763.8 338.9L761.5 339.0L761.8 338.0L762.3 336.9L765.5 336.7ZM782.6 328.6L783.1 329.4L782.5 331.0L781.1 332.2L780.8 331.4L780.6 329.9L782.0 328.2ZM802.6 331.3L801.3 333.6L798.7 334.2L795.9 334.3L796.2 332.7L797.9 331.6L801.0 330.8ZM781.1 321.7L780.7 322.2L779.6 322.5L778.7 322.5L779.1 321.9L779.2 321.4L780.5 321.1Z" fill="#106a24" stroke="#000" stroke-width="0.9" stroke-linejoin="round"/><defs><linearGradient id="og" x1="0" y1="0" x2="1" y2="0" spreadMethod="repeat" gradientUnits="userSpaceOnUse" gradientTransform="translate(0,0) scale(9,1)"><stop offset="0" stop-color="#e4581a"/><stop offset="0.5" stop-color="#f58a34"/><stop offset="1" stop-color="#e4581a"/></linearGradient></defs><path d="M719.5 366.0L726.0 364.5L731.0 364.0L733.5 368.0L736.5 372.0L739.5 376.5L741.0 380.0L737.0 380.5L733.0 378.5L729.0 376.5L730.0 374.0L726.0 372.0L725.0 369.0L721.0 367.5ZM741.0 380.0L745.0 381.2L750.0 381.2L754.0 378.5L757.0 378.0L760.0 381.0L760.5 385.0L759.0 389.0L757.0 392.0L755.0 390.0L754.5 385.0L753.0 382.5L748.0 383.0L743.0 382.0ZM757.0 392.0L760.0 394.0L763.0 396.0L767.0 397.0L769.0 401.0L770.0 407.0L769.0 411.0L765.0 412.0L760.0 411.0L756.0 409.0L753.5 406.0L755.0 404.0L759.0 406.0L765.0 407.0L766.0 403.0L764.0 399.0L760.0 397.0L757.5 394.5ZM772.5 401.0L775.0 400.5L778.0 403.0L781.0 399.0L785.0 398.0L791.0 399.0L795.0 402.0L800.0 402.0L805.0 404.0L810.0 407.0L814.0 411.0L815.0 415.0L813.0 419.0L809.0 423.0L805.0 421.0L802.0 419.0L803.0 415.0L807.0 414.0L808.0 412.0L803.0 410.0L799.0 411.0L795.0 409.0L792.0 409.5L789.0 408.0L785.0 409.0L781.0 408.0L778.0 405.0L775.0 407.0L772.5 406.0L769.5 407.0L769.0 402.0Z" fill="url(#og)" stroke="#5a2a08" stroke-width="0.5"/><path d="M730.0 375.0L735.0 374.5L739.0 376.5L740.0 379.5L736.5 380.0L732.5 378.2Z" fill="#f2cf58"/><path d="M808.0 416.0L812.5 414.0L814.0 416.5L811.0 420.0L808.5 419.0Z" fill="#e8d860"/><path d="M721.0 366.2L726.0 365.0L730.0 365.0L731.0 367.0L726.0 367.5Z" fill="#f7a848"/><path d="M724.9 372.3L724.7 373.1L723.9 373.8L721.9 374.1L721.8 373.3L722.7 372.5L724.9 371.9ZM736.7 374.9L736.6 375.5L735.5 376.2L734.2 376.4L734.2 375.9L735.1 375.1L736.5 374.8ZM723.7 365.2L723.0 366.4L721.0 367.7L718.7 367.7L718.6 366.6L720.8 365.2L722.3 364.6ZM743.0 378.4L742.3 379.5L741.0 381.7L740.0 382.2L739.7 381.2L739.8 380.1L741.8 378.9ZM734.8 362.8L733.6 363.5L732.9 363.9L731.5 363.6L730.7 362.8L732.1 362.4L734.0 362.1ZM742.7 379.1L742.3 379.9L740.7 380.9L739.6 381.1L739.6 380.5L740.7 379.3L741.5 379.2ZM729.2 373.0L729.0 373.6L728.0 374.2L727.2 374.0L726.6 374.0L727.8 373.2L728.6 372.9ZM726.9 368.6L726.4 369.4L725.6 370.2L724.8 370.0L724.6 369.4L724.9 369.0L726.3 368.6ZM727.8 368.1L727.6 369.4L725.5 369.6L723.9 369.6L722.9 368.8L725.5 367.9L727.1 367.4ZM734.3 377.5L734.4 377.9L733.7 378.8L732.8 378.9L732.1 379.1L732.8 377.5L733.7 376.9ZM742.7 365.5L742.1 366.4L740.6 367.4L737.6 368.1L736.7 367.5L739.4 365.5L742.7 364.7ZM733.3 361.1L733.6 361.9L732.1 363.2L730.8 364.0L730.0 363.2L731.0 362.0L732.3 360.7ZM725.5 376.8L723.4 378.3L722.0 378.8L719.4 378.9L718.5 378.0L720.9 377.4L723.1 376.9ZM721.0 380.6L721.2 381.5L719.7 382.5L718.7 382.6L717.9 382.2L719.0 380.8L719.8 380.5ZM729.1 373.7L728.6 374.5L726.5 375.1L725.0 374.9L724.7 374.3L726.6 373.4L728.0 373.1ZM741.3 380.1L741.3 380.8L738.5 381.8L736.8 381.5L737.0 380.8L738.0 380.3L739.7 380.1ZM737.2 362.7L737.0 363.2L736.3 363.5L735.4 363.3L735.5 362.7L736.0 362.4L737.2 362.3ZM722.3 375.6L721.8 376.8L721.2 378.0L719.5 378.3L719.1 377.7L719.5 376.6L720.6 375.7ZM743.3 369.7L742.7 370.6L741.1 371.6L740.4 371.0L739.3 370.3L740.7 369.5L742.2 369.4ZM726.2 364.4L726.0 365.4L724.9 367.0L723.6 367.2L723.4 366.7L723.6 365.7L724.5 364.9ZM727.4 376.5L727.0 377.4L725.6 378.2L723.9 378.8L723.9 378.3L725.4 377.0L726.2 376.7ZM737.2 373.4L737.9 374.1L734.9 377.6L733.2 378.6L732.7 377.4L734.5 375.1L735.7 373.3ZM758.9 397.3L758.9 398.4L758.3 400.3L757.1 401.1L756.7 400.6L757.2 399.0L758.4 396.9ZM756.1 410.1L755.4 411.1L753.9 411.7L751.8 411.6L752.5 411.0L753.4 410.4L755.3 409.9ZM765.1 393.9L765.3 394.5L763.8 396.2L762.0 397.6L761.5 397.0L762.5 395.5L763.5 394.7ZM767.9 405.7L767.2 407.0L766.4 407.9L764.9 408.5L764.6 408.1L765.3 406.7L767.1 405.5ZM755.0 397.3L755.0 397.6L754.0 398.1L753.4 397.8L753.4 397.5L753.8 397.0L754.7 397.0ZM758.4 407.5L758.0 407.9L756.5 408.3L755.8 408.0L755.8 407.5L756.6 407.1L757.6 407.0ZM766.1 400.9L766.6 401.3L765.6 402.7L763.8 403.7L763.6 403.2L764.7 401.6L765.5 400.8ZM755.2 402.6L754.8 403.5L752.7 404.0L751.8 403.4L751.2 402.4L753.3 401.8L755.0 401.8ZM754.9 392.0L754.9 392.7L754.3 393.3L753.7 393.8L753.6 393.3L753.7 392.5L754.2 392.2ZM763.1 403.4L763.2 403.8L762.9 404.3L762.3 404.6L762.0 404.4L761.9 403.8L762.5 403.5ZM807.5 415.1L807.5 415.9L807.2 416.4L806.0 416.9L805.7 416.1L805.6 415.4L807.0 414.5ZM808.1 422.2L807.7 422.9L807.1 424.0L806.5 423.8L806.2 423.6L806.4 423.0L807.0 422.2ZM816.7 412.4L815.3 413.0L812.9 414.2L811.9 413.7L811.9 412.7L812.7 412.1L815.5 411.4ZM804.9 419.4L804.2 420.2L802.1 421.5L801.1 421.5L800.2 421.0L802.0 419.8L803.6 419.3ZM812.3 409.6L812.0 410.6L809.9 411.5L808.5 411.6L809.0 410.6L810.1 410.0L811.9 409.0ZM802.2 417.7L802.4 418.0L801.5 418.4L800.8 418.7L800.6 418.1L801.1 417.5L802.1 417.3ZM808.7 412.4L808.5 413.0L807.8 413.1L807.3 413.0L807.1 412.5L807.7 412.0L808.6 412.2ZM810.3 415.7L810.1 416.2L808.8 416.7L807.9 417.1L807.5 416.8L808.7 415.8L810.0 415.3Z" fill="#0a3a14" stroke="#000" stroke-width="0.8"/><ellipse cx="701.3" cy="390.5" rx="2.2" ry="3.2" fill="#f0702a" stroke="#7a3a10" stroke-width="0.6"/><path d="M690.8 392.4L699 392.2" stroke="#000" stroke-width="0.7"/><path d="M599 244.5l5 0l-1 1.6l-3.5 0z" fill="#e8703a"/><path d="M585 288.5l2.5 1.5l-0.5 2l-2.5-1.5z" fill="#e8603a"/><path d="M668.0 463.3L672.5 478.3L662.5 477.9ZM698.0 464.0L695.5 479.4L686.6 474.7ZM727.3 466.0L719.0 479.2L712.7 471.4ZM611.0 490.4L623.1 500.3L614.6 505.6ZM637.7 490.4L649.1 501.1L640.3 505.8ZM671.3 488.0L671.5 503.6L662.0 500.5ZM702.0 491.3L694.1 504.8L687.6 497.3ZM730.7 500.0L715.3 502.9L716.7 493.0ZM752.7 502.0L737.2 499.7L741.7 490.8ZM775.3 492.0L769.7 506.6L762.0 500.1ZM884.5 496.5L870.8 504.0L869.1 494.2ZM908.0 491.6L899.9 504.9L893.5 497.3ZM106.0 515.6L101.6 530.5L93.4 524.8ZM133.3 514.7L128.7 529.6L120.6 523.7ZM156.7 514.7L154.1 530.1L145.3 525.4ZM180.7 514.7L180.6 530.3L171.1 527.0ZM208.7 514.7L205.9 530.0L197.1 525.2ZM557.5 518.4L572.0 524.3L565.4 531.8ZM583.6 517.7L597.5 524.9L590.3 531.8ZM609.7 515.2L622.3 524.4L614.1 530.2ZM635.2 516.5L647.8 525.7L639.6 531.4ZM662.0 512.7L672.6 524.2L663.5 528.2ZM693.3 512.0L698.8 526.6L688.9 527.0ZM718.7 516.0L725.2 530.2L715.2 531.2ZM746.0 536.7L740.5 522.1L750.5 521.7ZM774.0 534.0L765.1 521.2L774.7 518.4ZM825.3 515.3L826.1 530.9L816.4 528.2ZM850.0 516.0L851.3 531.6L841.6 529.2ZM867.3 530.0L875.0 516.4L881.7 523.8ZM127.3 538.0L129.7 553.4L119.8 551.7ZM156.0 539.3L154.5 554.9L145.4 550.8ZM180.7 538.7L181.4 554.3L171.8 551.5ZM210.7 542.0L204.2 556.2L196.9 549.4ZM234.5 541.4L231.1 556.6L222.5 551.5ZM259.9 540.7L256.6 556.0L248.0 550.8ZM531.5 544.5L546.0 550.1L539.6 557.8ZM558.2 543.8L572.2 550.7L565.1 557.8ZM580.5 546.4L596.1 546.7L592.7 556.1ZM604.6 553.4L617.2 544.0L620.3 553.5ZM627.5 545.7L643.1 544.7L640.5 554.4ZM655.3 539.3L669.6 545.8L662.7 553.1ZM682.0 537.3L695.3 545.5L687.7 551.9ZM706.7 542.0L721.0 548.2L714.3 555.6ZM731.3 557.3L741.9 545.8L746.7 554.5ZM760.0 559.3L765.2 544.6L773.1 550.7ZM779.3 554.0L792.2 545.1L794.9 554.7ZM808.7 548.7L823.8 545.0L823.0 554.9ZM836.7 546.0L852.3 546.1L849.0 555.5ZM858.0 550.7L872.8 545.7L872.8 555.7ZM892.0 563.3L895.3 548.1L903.9 553.2ZM118.7 565.3L131.6 574.1L123.6 580.2ZM145.3 564.7L157.1 575.0L148.4 580.0ZM172.7 563.3L182.2 575.7L172.8 579.0ZM200.0 563.3L208.4 576.5L198.7 578.9ZM231.3 564.3L233.1 579.8L223.3 577.7ZM260.5 566.2L257.2 581.4L248.6 576.3ZM287.9 568.7L280.5 582.5L273.7 575.2ZM312.7 568.1L307.8 582.9L299.8 576.9ZM530.8 569.9L545.3 575.8L538.7 583.4ZM556.3 576.3L571.2 571.8L570.9 581.8ZM580.5 583.3L588.8 570.1L595.1 577.8ZM607.8 581.4L617.1 568.8L622.8 577.0ZM637.1 568.0L648.8 578.3L640.2 583.3ZM656.0 568.7L671.2 572.3L665.9 580.7ZM677.3 570.0L692.9 570.9L689.2 580.2ZM700.7 572.0L716.2 570.5L714.0 580.2ZM726.7 578.7L740.7 571.9L742.0 581.8ZM759.3 584.0L768.8 571.6L774.4 579.9ZM787.3 581.3L797.2 569.3L802.5 577.7ZM810.7 574.0L825.9 570.6L824.9 580.5ZM837.3 571.3L852.9 572.5L849.0 581.7ZM864.0 572.0L879.6 573.2L875.7 582.4ZM886.0 582.0L899.0 573.3L901.6 583.0ZM116.5 595.0L131.4 599.4L125.7 607.6ZM143.2 593.1L156.9 600.5L149.6 607.3ZM171.2 591.8L183.1 601.9L174.5 607.1ZM199.8 591.2L208.7 604.0L199.1 606.8ZM231.3 590.5L233.6 606.0L223.8 604.3ZM257.4 590.5L258.9 606.1L249.2 603.8ZM285.4 591.2L283.4 606.7L274.4 602.3ZM315.3 596.9L304.2 607.9L299.8 598.9ZM341.4 596.3L331.0 608.0L326.0 599.3ZM367.9 598.8L355.2 607.9L352.3 598.4ZM392.1 595.0L383.1 607.7L377.2 599.7ZM483.5 591.2L493.1 603.5L483.6 606.8ZM509.6 591.8L519.0 604.3L509.5 607.4ZM530.6 596.3L545.7 600.4L540.1 608.7ZM557.4 609.6L563.6 595.3L571.0 602.0ZM581.5 599.5L597.0 597.1L595.3 606.9ZM623.4 593.1L617.4 607.5L609.9 601.0ZM650.1 591.2L646.0 606.2L637.7 600.7ZM680.0 604.5L664.4 605.5L667.0 595.9ZM704.8 607.7L689.8 603.6L695.3 595.3ZM727.1 607.1L712.3 602.2L718.3 594.2ZM733.9 601.4L748.7 596.4L748.7 606.4ZM760.6 603.9L773.5 595.0L776.2 604.6ZM788.0 606.5L798.1 594.5L803.3 603.1ZM813.5 595.6L828.5 599.8L822.9 608.1ZM840.8 593.1L854.6 600.5L847.3 607.3ZM866.8 594.2L880.8 601.1L873.7 608.2ZM892.6 594.2L906.6 601.1L899.5 608.2ZM115.2 627.5L130.0 622.5L130.0 632.5ZM141.3 625.5L156.6 622.7L155.2 632.6ZM167.4 626.8L182.2 621.8L182.2 631.8ZM193.5 628.1L207.8 621.8L208.6 631.8ZM219.8 627.5L234.6 622.5L234.6 632.5ZM247.2 621.7L261.8 627.2L255.5 634.9ZM275.2 619.2L287.4 628.9L279.1 634.3ZM298.1 622.4L313.2 626.2L307.8 634.6ZM329.3 635.1L329.4 619.5L338.8 622.7ZM366.0 629.4L350.4 630.1L353.2 620.5ZM392.1 622.4L382.8 634.9L377.1 626.8ZM414.4 617.3L413.5 632.9L404.2 629.1ZM432.8 617.3L441.3 630.4L431.5 632.8ZM458.3 614.7L466.5 628.0L456.7 630.3ZM483.5 617.9L492.9 630.4L483.4 633.5ZM504.5 621.1L519.3 626.3L513.1 634.1ZM529.4 631.3L541.2 621.1L545.0 630.4ZM560.5 636.4L562.0 620.8L571.1 624.9ZM594.3 619.2L592.8 634.7L583.7 630.7ZM612.5 616.6L621.9 629.2L612.4 632.3ZM639.3 616.0L647.5 629.3L637.7 631.5ZM678.1 624.9L664.7 632.9L662.6 623.1ZM704.8 631.9L689.3 629.9L693.7 620.9ZM733.5 624.9L720.2 633.1L717.9 623.4ZM758.7 628.7L743.5 632.2L744.5 622.2ZM784.2 630.6L768.7 633.0L770.5 623.1ZM810.9 626.8L795.9 631.3L796.3 621.3ZM830.6 618.5L825.2 633.2L817.4 626.9ZM853.5 616.6L852.6 632.2L843.4 628.5ZM869.9 617.8L880.5 629.3L871.4 633.3ZM898.2 617.0L905.7 630.7L895.8 632.5ZM117.1 654.2L131.1 647.2L132.4 657.1ZM143.8 654.8L157.0 646.4L159.4 656.1ZM171.8 658.6L178.5 644.5L185.7 651.5ZM197.3 659.3L203.5 644.9L210.9 651.6ZM224.3 661.2L227.1 645.8L235.8 650.7ZM253.5 661.8L250.4 646.5L260.3 647.7ZM275.2 659.3L280.9 644.7L288.5 651.2ZM298.1 652.9L313.0 648.2L312.8 658.2ZM323.5 652.3L338.2 646.8L338.5 656.8ZM351.4 649.1L366.5 653.0L361.1 661.3ZM386.4 644.6L386.8 660.3L377.3 657.3ZM406.1 645.9L416.9 657.2L407.8 661.4ZM434.7 644.0L441.2 658.2L431.3 659.2ZM455.7 646.5L469.2 654.4L461.7 661.0ZM486.1 645.3L493.1 659.2L483.2 660.6ZM519.8 647.8L511.5 661.0L505.2 653.2ZM549.1 652.9L534.6 658.7L534.1 648.7ZM575.8 650.4L562.8 659.0L560.2 649.4ZM601.9 646.5L592.0 658.6L586.7 650.1ZM624.0 643.4L619.1 658.2L611.1 652.2ZM646.3 642.7L645.9 658.3L636.5 654.9ZM673.0 644.0L670.5 659.4L661.6 654.7ZM703.5 650.4L690.4 658.8L688.0 649.1ZM730.3 654.2L715.0 657.3L716.2 647.4ZM736.5 657.4L747.8 646.6L752.0 655.6ZM767.6 662.5L768.8 646.9L778.0 650.8ZM810.3 656.7L794.7 657.5L797.4 647.8ZM834.5 645.3L825.6 658.2L819.6 650.2ZM853.5 642.1L852.4 657.7L843.2 653.8ZM876.0 642.8L878.4 658.3L868.5 656.6ZM901.8 642.8L904.2 658.3L894.3 656.6ZM110.5 679.0L95.7 684.0L95.7 674.0ZM135.5 680.3L120.1 682.9L121.7 673.0ZM161.6 679.0L146.8 684.0L146.8 674.0ZM187.1 679.0L172.3 684.0L172.3 674.0ZM212.5 682.2L196.9 682.6L199.9 673.1ZM239.5 681.5L224.0 682.8L226.4 673.1ZM265.0 684.1L249.5 682.1L253.9 673.1ZM288.5 686.0L274.5 679.1L281.6 672.0ZM314.6 683.5L299.4 679.9L304.7 671.4ZM342.6 678.4L328.1 684.1L327.6 674.1ZM368.5 677.7L354.6 684.7L353.2 674.8ZM394.6 679.0L379.8 684.0L379.8 674.0ZM421.4 678.4L406.7 683.9L406.4 673.9ZM446.8 679.0L431.9 683.5L432.2 673.5ZM474.8 678.4L460.0 683.4L460.0 673.4ZM500.1 676.5L486.8 684.7L484.5 674.9ZM526.2 677.1L512.2 684.1L510.8 674.2ZM552.9 677.1L539.2 684.6L537.5 674.7ZM579.6 677.7L565.3 684.0L564.5 674.0ZM603.8 675.2L591.3 684.5L588.2 675.0ZM630.4 672.6L619.1 683.4L614.8 674.4ZM657.1 673.9L645.1 683.9L641.5 674.5ZM680.0 674.5L668.2 684.7L664.4 675.5ZM704.8 674.5L693.5 685.3L689.3 676.3ZM730.3 685.4L714.9 682.6L719.8 673.8ZM746.0 687.9L739.0 674.0L748.9 672.6ZM760.6 684.7L770.7 672.8L775.9 681.4ZM802.6 672.0L797.0 686.6L789.3 680.1ZM834.5 672.0L824.8 684.3L819.3 675.9ZM858.6 671.4L850.5 684.7L844.1 677.0ZM884.0 675.4L871.8 685.2L868.4 675.8ZM161.8 707.5L146.2 708.5L148.8 698.9ZM187.6 707.5L172.0 708.5L174.6 698.9ZM600.8 704.8L586.0 709.8L586.0 699.8ZM626.6 704.8L611.8 709.8L611.8 699.8ZM652.4 704.8L637.6 709.8L637.6 699.8ZM678.1 703.0L664.4 710.5L662.6 700.6ZM781.3 703.0L767.6 710.5L765.9 700.6ZM806.9 702.1L793.9 710.7L791.3 701.1Z" fill="#000"/>
<path d="M125.81 150.0V704.8M190.32 150.0V704.8M254.84 150.0V704.8M319.35 150.0V704.8M383.87 150.0V704.8M448.38 150.0V704.8M512.90 150.0V704.8M577.41 150.0V704.8M641.93 150.0V704.8M706.44 150.0V704.8M770.96 150.0V704.8M835.47 150.0V704.8M899.99 150.0V704.8M100.0 188.71H900.0M100.0 253.22H900.0M100.0 317.74H900.0M100.0 382.25H900.0M100.0 446.77H900.0M100.0 511.28H900.0M100.0 575.80H900.0M100.0 640.31H900.0M100.0 704.83H900.0" stroke="#b6b6b6" stroke-width="1.8" fill="none"/>
<path d="M125.81 150.0V704.8M190.32 150.0V704.8M254.84 150.0V704.8M319.35 150.0V704.8M383.87 150.0V704.8M448.38 150.0V704.8M512.90 150.0V704.8M577.41 150.0V704.8M641.93 150.0V704.8M706.44 150.0V704.8M770.96 150.0V704.8M835.47 150.0V704.8M899.99 150.0V704.8M100.0 188.71H900.0M100.0 253.22H900.0M100.0 317.74H900.0M100.0 382.25H900.0M100.0 446.77H900.0M100.0 511.28H900.0M100.0 575.80H900.0M100.0 640.31H900.0M100.0 704.83H900.0" stroke="#e6aca2" stroke-width="1.8" fill="none" clip-path="url(#redc)"/>
<defs><clipPath id="landc"><use href="#landp"/></clipPath></defs>
<path d="M125.81 150.0V704.8M190.32 150.0V704.8M254.84 150.0V704.8M319.35 150.0V704.8M383.87 150.0V704.8M448.38 150.0V704.8M512.90 150.0V704.8M577.41 150.0V704.8M641.93 150.0V704.8M706.44 150.0V704.8M770.96 150.0V704.8M835.47 150.0V704.8M899.99 150.0V704.8M100.0 188.71H900.0M100.0 253.22H900.0M100.0 317.74H900.0M100.0 382.25H900.0M100.0 446.77H900.0M100.0 511.28H900.0M100.0 575.80H900.0M100.0 640.31H900.0M100.0 704.83H900.0" stroke="#a8c2ae" stroke-width="1.8" fill="none" clip-path="url(#landc)"/>
<path d="M527.0 225.8L532.7 220.10000000000002L538.4000000000001 225.8L532.7 231.5Z" fill="#ffee22" stroke="#000" stroke-width="1.6"/><path d="M810.0999999999999 169.2L815.8 163.5L821.5 169.2L815.8 174.89999999999998Z" fill="#ffee22" stroke="#000" stroke-width="1.6"/><path d="M720.5999999999999 287L726.3 281.3L732.0 287L726.3 292.7Z" fill="#ffee22" stroke="#000" stroke-width="1.6"/><path d="M646.8 442L652.5 436.3L658.2 442L652.5 447.7Z" fill="#ffee22" stroke="#000" stroke-width="1.6"/><path d="M752.9 479.8L758.6 474.1L764.3000000000001 479.8L758.6 485.5Z" fill="#ffee22" stroke="#000" stroke-width="1.6"/><path d="M827.3 465L833 459.3L838.7 465L833 470.7Z" fill="#ffee22" stroke="#000" stroke-width="1.6"/><circle cx="879.4" cy="185.6" r="6" fill="#fff" stroke="#000" stroke-width="1.7"/>
</g>
<rect x="100.0" y="150.0" width="800.0" height="554.8" fill="none" stroke="#000" stroke-width="2.8"/>
<path d="M100.00 150.0v-4.2M100.00 704.8v4.2M106.45 150.0v-4.2M106.45 704.8v4.2M112.90 150.0v-4.2M112.90 704.8v4.2M119.35 150.0v-4.2M119.35 704.8v4.2M125.81 150.0v-8.5M125.81 704.8v8.5M132.26 150.0v-4.2M132.26 704.8v4.2M138.71 150.0v-4.2M138.71 704.8v4.2M145.16 150.0v-4.2M145.16 704.8v4.2M151.61 150.0v-4.2M151.61 704.8v4.2M158.06 150.0v-4.2M158.06 704.8v4.2M164.51 150.0v-4.2M164.51 704.8v4.2M170.97 150.0v-4.2M170.97 704.8v4.2M177.42 150.0v-4.2M177.42 704.8v4.2M183.87 150.0v-4.2M183.87 704.8v4.2M190.32 150.0v-8.5M190.32 704.8v8.5M196.77 150.0v-4.2M196.77 704.8v4.2M203.22 150.0v-4.2M203.22 704.8v4.2M209.68 150.0v-4.2M209.68 704.8v4.2M216.13 150.0v-4.2M216.13 704.8v4.2M222.58 150.0v-4.2M222.58 704.8v4.2M229.03 150.0v-4.2M229.03 704.8v4.2M235.48 150.0v-4.2M235.48 704.8v4.2M241.93 150.0v-4.2M241.93 704.8v4.2M248.38 150.0v-4.2M248.38 704.8v4.2M254.84 150.0v-8.5M254.84 704.8v8.5M261.29 150.0v-4.2M261.29 704.8v4.2M267.74 150.0v-4.2M267.74 704.8v4.2M274.19 150.0v-4.2M274.19 704.8v4.2M280.64 150.0v-4.2M280.64 704.8v4.2M287.09 150.0v-4.2M287.09 704.8v4.2M293.55 150.0v-4.2M293.55 704.8v4.2M300.00 150.0v-4.2M300.00 704.8v4.2M306.45 150.0v-4.2M306.45 704.8v4.2M312.90 150.0v-4.2M312.90 704.8v4.2M319.35 150.0v-8.5M319.35 704.8v8.5M325.80 150.0v-4.2M325.80 704.8v4.2M332.25 150.0v-4.2M332.25 704.8v4.2M338.71 150.0v-4.2M338.71 704.8v4.2M345.16 150.0v-4.2M345.16 704.8v4.2M351.61 150.0v-4.2M351.61 704.8v4.2M358.06 150.0v-4.2M358.06 704.8v4.2M364.51 150.0v-4.2M364.51 704.8v4.2M370.96 150.0v-4.2M370.96 704.8v4.2M377.41 150.0v-4.2M377.41 704.8v4.2M383.87 150.0v-8.5M383.87 704.8v8.5M390.32 150.0v-4.2M390.32 704.8v4.2M396.77 150.0v-4.2M396.77 704.8v4.2M403.22 150.0v-4.2M403.22 704.8v4.2M409.67 150.0v-4.2M409.67 704.8v4.2M416.12 150.0v-4.2M416.12 704.8v4.2M422.57 150.0v-4.2M422.57 704.8v4.2M429.03 150.0v-4.2M429.03 704.8v4.2M435.48 150.0v-4.2M435.48 704.8v4.2M441.93 150.0v-4.2M441.93 704.8v4.2M448.38 150.0v-8.5M448.38 704.8v8.5M454.83 150.0v-4.2M454.83 704.8v4.2M461.28 150.0v-4.2M461.28 704.8v4.2M467.74 150.0v-4.2M467.74 704.8v4.2M474.19 150.0v-4.2M474.19 704.8v4.2M480.64 150.0v-4.2M480.64 704.8v4.2M487.09 150.0v-4.2M487.09 704.8v4.2M493.54 150.0v-4.2M493.54 704.8v4.2M499.99 150.0v-4.2M499.99 704.8v4.2M506.44 150.0v-4.2M506.44 704.8v4.2M512.90 150.0v-8.5M512.90 704.8v8.5M519.35 150.0v-4.2M519.35 704.8v4.2M525.80 150.0v-4.2M525.80 704.8v4.2M532.25 150.0v-4.2M532.25 704.8v4.2M538.70 150.0v-4.2M538.70 704.8v4.2M545.15 150.0v-4.2M545.15 704.8v4.2M551.61 150.0v-4.2M551.61 704.8v4.2M558.06 150.0v-4.2M558.06 704.8v4.2M564.51 150.0v-4.2M564.51 704.8v4.2M570.96 150.0v-4.2M570.96 704.8v4.2M577.41 150.0v-8.5M577.41 704.8v8.5M583.86 150.0v-4.2M583.86 704.8v4.2M590.31 150.0v-4.2M590.31 704.8v4.2M596.77 150.0v-4.2M596.77 704.8v4.2M603.22 150.0v-4.2M603.22 704.8v4.2M609.67 150.0v-4.2M609.67 704.8v4.2M616.12 150.0v-4.2M616.12 704.8v4.2M622.57 150.0v-4.2M622.57 704.8v4.2M629.02 150.0v-4.2M629.02 704.8v4.2M635.47 150.0v-4.2M635.47 704.8v4.2M641.93 150.0v-8.5M641.93 704.8v8.5M648.38 150.0v-4.2M648.38 704.8v4.2M654.83 150.0v-4.2M654.83 704.8v4.2M661.28 150.0v-4.2M661.28 704.8v4.2M667.73 150.0v-4.2M667.73 704.8v4.2M674.18 150.0v-4.2M674.18 704.8v4.2M680.63 150.0v-4.2M680.63 704.8v4.2M687.09 150.0v-4.2M687.09 704.8v4.2M693.54 150.0v-4.2M693.54 704.8v4.2M699.99 150.0v-4.2M699.99 704.8v4.2M706.44 150.0v-8.5M706.44 704.8v8.5M712.89 150.0v-4.2M712.89 704.8v4.2M719.34 150.0v-4.2M719.34 704.8v4.2M725.80 150.0v-4.2M725.80 704.8v4.2M732.25 150.0v-4.2M732.25 704.8v4.2M738.70 150.0v-4.2M738.70 704.8v4.2M745.15 150.0v-4.2M745.15 704.8v4.2M751.60 150.0v-4.2M751.60 704.8v4.2M758.05 150.0v-4.2M758.05 704.8v4.2M764.50 150.0v-4.2M764.50 704.8v4.2M770.96 150.0v-8.5M770.96 704.8v8.5M777.41 150.0v-4.2M777.41 704.8v4.2M783.86 150.0v-4.2M783.86 704.8v4.2M790.31 150.0v-4.2M790.31 704.8v4.2M796.76 150.0v-4.2M796.76 704.8v4.2M803.21 150.0v-4.2M803.21 704.8v4.2M809.66 150.0v-4.2M809.66 704.8v4.2M816.12 150.0v-4.2M816.12 704.8v4.2M822.57 150.0v-4.2M822.57 704.8v4.2M829.02 150.0v-4.2M829.02 704.8v4.2M835.47 150.0v-8.5M835.47 704.8v8.5M841.92 150.0v-4.2M841.92 704.8v4.2M848.37 150.0v-4.2M848.37 704.8v4.2M854.83 150.0v-4.2M854.83 704.8v4.2M861.28 150.0v-4.2M861.28 704.8v4.2M867.73 150.0v-4.2M867.73 704.8v4.2M874.18 150.0v-4.2M874.18 704.8v4.2M880.63 150.0v-4.2M880.63 704.8v4.2M887.08 150.0v-4.2M887.08 704.8v4.2M893.53 150.0v-4.2M893.53 704.8v4.2M899.99 150.0v-8.5M899.99 704.8v8.5M100.0 704.83h-8.5M900.0 704.83h8.5M100.0 698.38h-4.2M900.0 698.38h4.2M100.0 691.93h-4.2M900.0 691.93h4.2M100.0 685.47h-4.2M900.0 685.47h4.2M100.0 679.02h-4.2M900.0 679.02h4.2M100.0 672.57h-4.2M900.0 672.57h4.2M100.0 666.12h-4.2M900.0 666.12h4.2M100.0 659.67h-4.2M900.0 659.67h4.2M100.0 653.22h-4.2M900.0 653.22h4.2M100.0 646.77h-4.2M900.0 646.77h4.2M100.0 640.31h-8.5M900.0 640.31h8.5M100.0 633.86h-4.2M900.0 633.86h4.2M100.0 627.41h-4.2M900.0 627.41h4.2M100.0 620.96h-4.2M900.0 620.96h4.2M100.0 614.51h-4.2M900.0 614.51h4.2M100.0 608.06h-4.2M900.0 608.06h4.2M100.0 601.61h-4.2M900.0 601.61h4.2M100.0 595.15h-4.2M900.0 595.15h4.2M100.0 588.70h-4.2M900.0 588.70h4.2M100.0 582.25h-4.2M900.0 582.25h4.2M100.0 575.80h-8.5M900.0 575.80h8.5M100.0 569.35h-4.2M900.0 569.35h4.2M100.0 562.90h-4.2M900.0 562.90h4.2M100.0 556.44h-4.2M900.0 556.44h4.2M100.0 549.99h-4.2M900.0 549.99h4.2M100.0 543.54h-4.2M900.0 543.54h4.2M100.0 537.09h-4.2M900.0 537.09h4.2M100.0 530.64h-4.2M900.0 530.64h4.2M100.0 524.19h-4.2M900.0 524.19h4.2M100.0 517.74h-4.2M900.0 517.74h4.2M100.0 511.28h-8.5M900.0 511.28h8.5M100.0 504.83h-4.2M900.0 504.83h4.2M100.0 498.38h-4.2M900.0 498.38h4.2M100.0 491.93h-4.2M900.0 491.93h4.2M100.0 485.48h-4.2M900.0 485.48h4.2M100.0 479.03h-4.2M900.0 479.03h4.2M100.0 472.57h-4.2M900.0 472.57h4.2M100.0 466.12h-4.2M900.0 466.12h4.2M100.0 459.67h-4.2M900.0 459.67h4.2M100.0 453.22h-4.2M900.0 453.22h4.2M100.0 446.77h-8.5M900.0 446.77h8.5M100.0 440.32h-4.2M900.0 440.32h4.2M100.0 433.87h-4.2M900.0 433.87h4.2M100.0 427.41h-4.2M900.0 427.41h4.2M100.0 420.96h-4.2M900.0 420.96h4.2M100.0 414.51h-4.2M900.0 414.51h4.2M100.0 408.06h-4.2M900.0 408.06h4.2M100.0 401.61h-4.2M900.0 401.61h4.2M100.0 395.16h-4.2M900.0 395.16h4.2M100.0 388.71h-4.2M900.0 388.71h4.2M100.0 382.25h-8.5M900.0 382.25h8.5M100.0 375.80h-4.2M900.0 375.80h4.2M100.0 369.35h-4.2M900.0 369.35h4.2M100.0 362.90h-4.2M900.0 362.90h4.2M100.0 356.45h-4.2M900.0 356.45h4.2M100.0 350.00h-4.2M900.0 350.00h4.2M100.0 343.55h-4.2M900.0 343.55h4.2M100.0 337.09h-4.2M900.0 337.09h4.2M100.0 330.64h-4.2M900.0 330.64h4.2M100.0 324.19h-4.2M900.0 324.19h4.2M100.0 317.74h-8.5M900.0 317.74h8.5M100.0 311.29h-4.2M900.0 311.29h4.2M100.0 304.84h-4.2M900.0 304.84h4.2M100.0 298.38h-4.2M900.0 298.38h4.2M100.0 291.93h-4.2M900.0 291.93h4.2M100.0 285.48h-4.2M900.0 285.48h4.2M100.0 279.03h-4.2M900.0 279.03h4.2M100.0 272.58h-4.2M900.0 272.58h4.2M100.0 266.13h-4.2M900.0 266.13h4.2M100.0 259.68h-4.2M900.0 259.68h4.2M100.0 253.22h-8.5M900.0 253.22h8.5M100.0 246.77h-4.2M900.0 246.77h4.2M100.0 240.32h-4.2M900.0 240.32h4.2M100.0 233.87h-4.2M900.0 233.87h4.2M100.0 227.42h-4.2M900.0 227.42h4.2M100.0 220.97h-4.2M900.0 220.97h4.2M100.0 214.51h-4.2M900.0 214.51h4.2M100.0 208.06h-4.2M900.0 208.06h4.2M100.0 201.61h-4.2M900.0 201.61h4.2M100.0 195.16h-4.2M900.0 195.16h4.2M100.0 188.71h-8.5M900.0 188.71h8.5M100.0 182.26h-4.2M900.0 182.26h4.2M100.0 175.81h-4.2M900.0 175.81h4.2M100.0 169.35h-4.2M900.0 169.35h4.2M100.0 162.90h-4.2M900.0 162.90h4.2M100.0 156.45h-4.2M900.0 156.45h4.2M100.0 150.00h-4.2M900.0 150.00h4.2" stroke="#000" stroke-width="1.4" fill="none"/>
<text class="ax" x="125.8" y="135.1" text-anchor="middle">–92°00'</text>
<text class="ax" x="125.8" y="728" text-anchor="middle">–92°00'</text>
<text class="ax" x="190.3" y="135.1" text-anchor="middle">–91°45'</text>
<text class="ax" x="190.3" y="728" text-anchor="middle">–91°45'</text>
<text class="ax" x="254.8" y="135.1" text-anchor="middle">–91°30'</text>
<text class="ax" x="254.8" y="728" text-anchor="middle">–91°30'</text>
<text class="ax" x="319.4" y="135.1" text-anchor="middle">–91°15'</text>
<text class="ax" x="319.4" y="728" text-anchor="middle">–91°15'</text>
<text class="ax" x="383.9" y="135.1" text-anchor="middle">–91°00'</text>
<text class="ax" x="383.9" y="728" text-anchor="middle">–91°00'</text>
<text class="ax" x="448.4" y="135.1" text-anchor="middle">–90°45'</text>
<text class="ax" x="448.4" y="728" text-anchor="middle">–90°45'</text>
<text class="ax" x="512.9" y="135.1" text-anchor="middle">–90°30'</text>
<text class="ax" x="512.9" y="728" text-anchor="middle">–90°30'</text>
<text class="ax" x="577.4" y="135.1" text-anchor="middle">–90°15'</text>
<text class="ax" x="577.4" y="728" text-anchor="middle">–90°15'</text>
<text class="ax" x="641.9" y="135.1" text-anchor="middle">–90°00'</text>
<text class="ax" x="641.9" y="728" text-anchor="middle">–90°00'</text>
<text class="ax" x="706.4" y="135.1" text-anchor="middle">–89°45'</text>
<text class="ax" x="706.4" y="728" text-anchor="middle">–89°45'</text>
<text class="ax" x="771.0" y="135.1" text-anchor="middle">–89°30'</text>
<text class="ax" x="771.0" y="728" text-anchor="middle">–89°30'</text>
<text class="ax" x="835.5" y="135.1" text-anchor="middle">–89°15'</text>
<text class="ax" x="835.5" y="728" text-anchor="middle">–89°15'</text>
<text class="ax" x="900.0" y="135.1" text-anchor="middle">–89°00'</text>
<text class="ax" x="900.0" y="728" text-anchor="middle">–89°00'</text>
<text class="ax" x="85" y="192.5" text-anchor="end">30°15'</text>
<text class="ax" x="915" y="192.5">30°15'</text>
<text class="ax" x="85" y="257.0" text-anchor="end">30°00'</text>
<text class="ax" x="915" y="257.0">30°00'</text>
<text class="ax" x="85" y="321.5" text-anchor="end">29°45'</text>
<text class="ax" x="915" y="321.5">29°45'</text>
<text class="ax" x="85" y="386.1" text-anchor="end">29°30'</text>
<text class="ax" x="915" y="386.1">29°30'</text>
<text class="ax" x="85" y="450.6" text-anchor="end">29°15'</text>
<text class="ax" x="915" y="450.6">29°15'</text>
<text class="ax" x="85" y="515.1" text-anchor="end">29°00'</text>
<text class="ax" x="915" y="515.1">29°00'</text>
<text class="ax" x="85" y="579.6" text-anchor="end">28°45'</text>
<text class="ax" x="915" y="579.6">28°45'</text>
<text class="ax" x="85" y="644.1" text-anchor="end">28°30'</text>
<text class="ax" x="915" y="644.1">28°30'</text>
<text class="ax" x="85" y="708.6" text-anchor="end">28°15'</text>
<text class="ax" x="915" y="708.6">28°15'</text>
<defs><linearGradient id="cb" x1="0" y1="0" x2="0" y2="1"><stop offset="0.000" stop-color="#7a0402"/><stop offset="0.025" stop-color="#8e0a01"/><stop offset="0.050" stop-color="#a01101"/><stop offset="0.075" stop-color="#b41b01"/><stop offset="0.100" stop-color="#c32402"/><stop offset="0.125" stop-color="#d02f04"/><stop offset="0.150" stop-color="#dd3c07"/><stop offset="0.175" stop-color="#e6490b"/><stop offset="0.200" stop-color="#ef5a11"/><stop offset="0.225" stop-color="#f66b18"/><stop offset="0.250" stop-color="#fa7d20"/><stop offset="0.275" stop-color="#fd9229"/><stop offset="0.300" stop-color="#fda330"/><stop offset="0.325" stop-color="#fbb537"/><stop offset="0.350" stop-color="#f6c23a"/><stop offset="0.375" stop-color="#edcf39"/><stop offset="0.400" stop-color="#e1dc37"/><stop offset="0.425" stop-color="#d4e735"/><stop offset="0.450" stop-color="#c3f133"/><stop offset="0.475" stop-color="#b3f835"/><stop offset="0.500" stop-color="#a4fc3b"/><stop offset="0.525" stop-color="#8efe48"/><stop offset="0.550" stop-color="#78fe59"/><stop offset="0.575" stop-color="#5dfb6f"/><stop offset="0.600" stop-color="#46f783"/><stop offset="0.625" stop-color="#32f197"/><stop offset="0.650" stop-color="#20e9ac"/><stop offset="0.675" stop-color="#18e1ba"/><stop offset="0.700" stop-color="#18d5cc"/><stop offset="0.725" stop-color="#1ec9dc"/><stop offset="0.750" stop-color="#28bbeb"/><stop offset="0.775" stop-color="#34aaf8"/><stop offset="0.800" stop-color="#3e9bfe"/><stop offset="0.825" stop-color="#4589fc"/><stop offset="0.850" stop-color="#467af2"/><stop offset="0.875" stop-color="#466be3"/><stop offset="0.900" stop-color="#4458cb"/><stop offset="0.925" stop-color="#4148b0"/><stop offset="0.950" stop-color="#3c358b"/><stop offset="0.975" stop-color="#372365"/><stop offset="1.000" stop-color="#30123b"/></linearGradient></defs><rect x="980" y="277" width="20.5" height="300" fill="url(#cb)" stroke="#000" stroke-width="2.4"/><path d="M980 277H1000.5" stroke="#b4b4b4" stroke-width="1.4"/><path d="M1001.5 277h7.5" stroke="#000" stroke-width="1"/><text x="1036" y="280.8" font-size="11.11" text-anchor="end">38.0</text><path d="M980 307H1000.5" stroke="#b4b4b4" stroke-width="1.4"/><path d="M1001.5 307h7.5" stroke="#000" stroke-width="1"/><text x="1036" y="310.8" font-size="11.11" text-anchor="end">34.2</text><path d="M980 337H1000.5" stroke="#b4b4b4" stroke-width="1.4"/><path d="M1001.5 337h7.5" stroke="#000" stroke-width="1"/><text x="1036" y="340.8" font-size="11.11" text-anchor="end">30.4</text><path d="M980 367H1000.5" stroke="#b4b4b4" stroke-width="1.4"/><path d="M1001.5 367h7.5" stroke="#000" stroke-width="1"/><text x="1036" y="370.8" font-size="11.11" text-anchor="end">26.6</text><path d="M980 397H1000.5" stroke="#b4b4b4" stroke-width="1.4"/><path d="M1001.5 397h7.5" stroke="#000" stroke-width="1"/><text x="1036" y="400.8" font-size="11.11" text-anchor="end">22.8</text><path d="M980 427H1000.5" stroke="#b4b4b4" stroke-width="1.4"/><path d="M1001.5 427h7.5" stroke="#000" stroke-width="1"/><text x="1036" y="430.8" font-size="11.11" text-anchor="end">19.0</text><path d="M980 457H1000.5" stroke="#b4b4b4" stroke-width="1.4"/><path d="M1001.5 457h7.5" stroke="#000" stroke-width="1"/><text x="1036" y="460.8" font-size="11.11" text-anchor="end">15.2</text><path d="M980 487H1000.5" stroke="#b4b4b4" stroke-width="1.4"/><path d="M1001.5 487h7.5" stroke="#000" stroke-width="1"/><text x="1036" y="490.8" font-size="11.11" text-anchor="end">11.4</text><path d="M980 517H1000.5" stroke="#b4b4b4" stroke-width="1.4"/><path d="M1001.5 517h7.5" stroke="#000" stroke-width="1"/><text x="1036" y="520.8" font-size="11.11" text-anchor="end">7.6</text><path d="M980 547H1000.5" stroke="#b4b4b4" stroke-width="1.4"/><path d="M1001.5 547h7.5" stroke="#000" stroke-width="1"/><text x="1036" y="550.8" font-size="11.11" text-anchor="end">3.8</text><path d="M980 577H1000.5" stroke="#b4b4b4" stroke-width="1.4"/><path d="M1001.5 577h7.5" stroke="#000" stroke-width="1"/><text x="1036" y="580.8" font-size="11.11" text-anchor="end">0.0</text><text class="b" font-size="13.89" text-anchor="middle" transform="translate(1056,427) rotate(-90)">Salinity (psu)</text>
</svg></body></html>
